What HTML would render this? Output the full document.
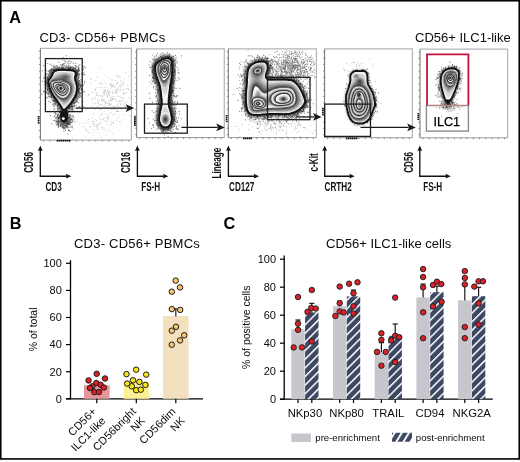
<!DOCTYPE html>
<html><head><meta charset="utf-8"><style>
*{margin:0;padding:0}
html,body{width:520px;height:462px;background:#fff;overflow:hidden}
svg{display:block;will-change:transform}
text{font-family:"Liberation Sans",sans-serif;fill:#0a0a0a}
.pl{font-weight:bold;font-size:16.3px;fill:#000}
.t13{font-size:13px}
.t11{font-size:11px}
.t10{font-size:10.5px}
.tk{font-size:11px}
.tx{font-size:11.3px}
.lg{font-size:9.6px}
.t13w{font-size:13px;letter-spacing:.22px}
.ax{font-family:"Liberation Sans",sans-serif;font-weight:bold;font-size:12px;fill:#111}
</style></head>
<body><svg width="520" height="462" viewBox="0 0 520 462">
<rect x="0.75" y="0.75" width="518.5" height="458.2" fill="none" stroke="#000" stroke-width="1.6"/><text x="9.2" y="22.8" class="pl">A</text><text x="9.8" y="228.8" class="pl">B</text><text x="223.6" y="229" class="pl">C</text><text x="39.4" y="42.3" class="t13w">CD3- CD56+ PBMCs</text><text x="415" y="42.4" class="t13">CD56+ ILC1-like</text><text x="74" y="248.1" class="t13w">CD3- CD56+ PBMCs</text><text x="326" y="248.1" class="t13">CD56+ ILC1-like cells</text><line x1="70.5" y1="260.2" x2="70.5" y2="399.40000000000003" stroke="#000" stroke-width="1.3"/><line x1="66" y1="398.8" x2="203" y2="398.8" stroke="#000" stroke-width="1.3"/><line x1="66" y1="398.8" x2="70.5" y2="398.8" stroke="#000" stroke-width="1.2"/><text x="61.8" y="402.6" class="tk" text-anchor="end">0</text><line x1="66" y1="371.7" x2="70.5" y2="371.7" stroke="#000" stroke-width="1.2"/><text x="61.8" y="375.5" class="tk" text-anchor="end">20</text><line x1="66" y1="344.6" x2="70.5" y2="344.6" stroke="#000" stroke-width="1.2"/><text x="61.8" y="348.4" class="tk" text-anchor="end">40</text><line x1="66" y1="317.5" x2="70.5" y2="317.5" stroke="#000" stroke-width="1.2"/><text x="61.8" y="321.3" class="tk" text-anchor="end">60</text><line x1="66" y1="290.4" x2="70.5" y2="290.4" stroke="#000" stroke-width="1.2"/><text x="61.8" y="294.2" class="tk" text-anchor="end">80</text><line x1="66" y1="263.3" x2="70.5" y2="263.3" stroke="#000" stroke-width="1.2"/><text x="61.8" y="267.1" class="tk" text-anchor="end">100</text><text transform="translate(36.9,329.4) rotate(-90)" class="t10" text-anchor="middle">% of total</text><rect x="84" y="385.2" width="25.6" height="13.6" fill="#e4969a"/><line x1="96.8" y1="398.8" x2="96.8" y2="403.2" stroke="#000" stroke-width="1.2"/><rect x="123.6" y="382.0" width="25.5" height="16.8" fill="#fdf195"/><line x1="136.3" y1="398.8" x2="136.3" y2="403.2" stroke="#000" stroke-width="1.2"/><rect x="163" y="316.0" width="25.6" height="82.8" fill="#f3e0bf"/><line x1="175.8" y1="398.8" x2="175.8" y2="403.2" stroke="#000" stroke-width="1.2"/><line x1="175.8" y1="316.4" x2="175.8" y2="308.8" stroke="#222" stroke-width="1.2"/><line x1="174.1" y1="308.8" x2="177.5" y2="308.8" stroke="#222" stroke-width="1.2"/><circle cx="96.7" cy="373.8" r="2.75" fill="#d9212a" stroke="#1a1a1a" stroke-width="1"/><circle cx="88.6" cy="380.4" r="2.75" fill="#d9212a" stroke="#1a1a1a" stroke-width="1"/><circle cx="105" cy="378.5" r="2.75" fill="#d9212a" stroke="#1a1a1a" stroke-width="1"/><circle cx="96.3" cy="383.1" r="2.75" fill="#d9212a" stroke="#1a1a1a" stroke-width="1"/><circle cx="92.3" cy="386.3" r="2.75" fill="#d9212a" stroke="#1a1a1a" stroke-width="1"/><circle cx="100.6" cy="384.8" r="2.75" fill="#d9212a" stroke="#1a1a1a" stroke-width="1"/><circle cx="90" cy="388" r="2.75" fill="#d9212a" stroke="#1a1a1a" stroke-width="1"/><circle cx="103.8" cy="387.5" r="2.75" fill="#d9212a" stroke="#1a1a1a" stroke-width="1"/><circle cx="94.4" cy="392.1" r="2.75" fill="#d9212a" stroke="#1a1a1a" stroke-width="1"/><circle cx="98.9" cy="392.1" r="2.75" fill="#d9212a" stroke="#1a1a1a" stroke-width="1"/><circle cx="136.2" cy="369.7" r="2.75" fill="#f9e51a" stroke="#1a1a1a" stroke-width="1"/><circle cx="126.5" cy="374.1" r="2.75" fill="#f9e51a" stroke="#1a1a1a" stroke-width="1"/><circle cx="146.2" cy="374.6" r="2.75" fill="#f9e51a" stroke="#1a1a1a" stroke-width="1"/><circle cx="133" cy="380.3" r="2.75" fill="#f9e51a" stroke="#1a1a1a" stroke-width="1"/><circle cx="139.4" cy="381.9" r="2.75" fill="#f9e51a" stroke="#1a1a1a" stroke-width="1"/><circle cx="127.2" cy="383.6" r="2.75" fill="#f9e51a" stroke="#1a1a1a" stroke-width="1"/><circle cx="131.8" cy="386.3" r="2.75" fill="#f9e51a" stroke="#1a1a1a" stroke-width="1"/><circle cx="145.4" cy="384.9" r="2.75" fill="#f9e51a" stroke="#1a1a1a" stroke-width="1"/><circle cx="136.2" cy="390.2" r="2.75" fill="#f9e51a" stroke="#1a1a1a" stroke-width="1"/><circle cx="140.8" cy="389.7" r="2.75" fill="#f9e51a" stroke="#1a1a1a" stroke-width="1"/><circle cx="175.7" cy="280.6" r="2.75" fill="#f7c56e" stroke="#1a1a1a" stroke-width="1"/><circle cx="180" cy="287.4" r="2.75" fill="#f7c56e" stroke="#1a1a1a" stroke-width="1"/><circle cx="171.8" cy="291.7" r="2.75" fill="#f7c56e" stroke="#1a1a1a" stroke-width="1"/><circle cx="171.8" cy="309.1" r="2.75" fill="#f7c56e" stroke="#1a1a1a" stroke-width="1"/><circle cx="180.2" cy="309.9" r="2.75" fill="#f7c56e" stroke="#1a1a1a" stroke-width="1"/><circle cx="176" cy="326.8" r="2.75" fill="#f7c56e" stroke="#1a1a1a" stroke-width="1"/><circle cx="171.8" cy="330.7" r="2.75" fill="#f7c56e" stroke="#1a1a1a" stroke-width="1"/><circle cx="184.2" cy="335.3" r="2.75" fill="#f7c56e" stroke="#1a1a1a" stroke-width="1"/><circle cx="180" cy="340.4" r="2.75" fill="#f7c56e" stroke="#1a1a1a" stroke-width="1"/><circle cx="171.8" cy="344.7" r="2.75" fill="#f7c56e" stroke="#1a1a1a" stroke-width="1"/><text transform="translate(97.0,412.2) rotate(-45)" class="t11" text-anchor="end">CD56+</text><text transform="translate(106.2,421.4) rotate(-45)" class="t11" text-anchor="end">ILC1-like</text><text transform="translate(136.6,412.2) rotate(-45)" class="t11" text-anchor="end">CD56bright</text><text transform="translate(145.8,421.4) rotate(-45)" class="t11" text-anchor="end">NK</text><text transform="translate(176.3,412.2) rotate(-45)" class="t11" text-anchor="end">CD56dim</text><text transform="translate(185.5,421.4) rotate(-45)" class="t11" text-anchor="end">NK</text><line x1="284.2" y1="255.6" x2="284.2" y2="399.8" stroke="#000" stroke-width="1.3"/><line x1="280" y1="399.2" x2="492.8" y2="399.2" stroke="#000" stroke-width="1.3"/><line x1="280" y1="399.2" x2="284.2" y2="399.2" stroke="#000" stroke-width="1.2"/><text x="276" y="403.0" class="tk" text-anchor="end">0</text><line x1="280" y1="371.2" x2="284.2" y2="371.2" stroke="#000" stroke-width="1.2"/><text x="276" y="375.0" class="tk" text-anchor="end">20</text><line x1="280" y1="343.2" x2="284.2" y2="343.2" stroke="#000" stroke-width="1.2"/><text x="276" y="347.0" class="tk" text-anchor="end">40</text><line x1="280" y1="315.2" x2="284.2" y2="315.2" stroke="#000" stroke-width="1.2"/><text x="276" y="319.0" class="tk" text-anchor="end">60</text><line x1="280" y1="287.2" x2="284.2" y2="287.2" stroke="#000" stroke-width="1.2"/><text x="276" y="291.0" class="tk" text-anchor="end">80</text><line x1="280" y1="259.2" x2="284.2" y2="259.2" stroke="#000" stroke-width="1.2"/><text x="276" y="263.0" class="tk" text-anchor="end">100</text><text transform="translate(249.7,327.3) rotate(-90)" class="t10" text-anchor="middle">% of positive cells</text><defs><pattern id="hatch" patternUnits="userSpaceOnUse" x="304.2" y="384.9" width="6.1" height="6.1" patternTransform="rotate(45 304.2 384.9)"><rect width="6.1" height="6.1" fill="#3d4862"/><rect x="0" y="0" width="1.5" height="6.1" fill="#fff"/></pattern></defs><rect x="291.3" y="329.2" width="13.4" height="70.0" fill="#c7c6cc"/><rect x="305.1" y="312.4" width="13.4" height="86.8" fill="url(#hatch)"/><line x1="298.0" y1="329.2" x2="298.0" y2="320.0" stroke="#1a1a1a" stroke-width="1.2"/><line x1="295.4" y1="320.0" x2="300.6" y2="320.0" stroke="#1a1a1a" stroke-width="1.2"/><line x1="298.0" y1="399.2" x2="298.0" y2="403.0" stroke="#000" stroke-width="1.2"/><line x1="311.8" y1="312.4" x2="311.8" y2="303.4" stroke="#1a1a1a" stroke-width="1.2"/><line x1="309.2" y1="303.4" x2="314.4" y2="303.4" stroke="#1a1a1a" stroke-width="1.2"/><line x1="311.8" y1="399.2" x2="311.8" y2="403.0" stroke="#000" stroke-width="1.2"/><text x="304.9" y="416.9" class="tx" text-anchor="middle">NKp30</text><rect x="333.0" y="306.2" width="13.4" height="93.0" fill="#c7c6cc"/><rect x="346.8" y="296.4" width="13.4" height="102.8" fill="url(#hatch)"/><line x1="339.7" y1="306.2" x2="339.7" y2="301.2" stroke="#1a1a1a" stroke-width="1.2"/><line x1="337.1" y1="301.2" x2="342.3" y2="301.2" stroke="#1a1a1a" stroke-width="1.2"/><line x1="339.7" y1="399.2" x2="339.7" y2="403.0" stroke="#000" stroke-width="1.2"/><line x1="353.5" y1="296.4" x2="353.5" y2="290.0" stroke="#1a1a1a" stroke-width="1.2"/><line x1="350.9" y1="290.0" x2="356.1" y2="290.0" stroke="#1a1a1a" stroke-width="1.2"/><line x1="353.5" y1="399.2" x2="353.5" y2="403.0" stroke="#000" stroke-width="1.2"/><text x="346.6" y="416.9" class="tx" text-anchor="middle">NKp80</text><rect x="374.7" y="352.2" width="13.4" height="47.0" fill="#c7c6cc"/><rect x="388.5" y="335.8" width="13.4" height="63.4" fill="url(#hatch)"/><line x1="381.4" y1="352.2" x2="381.4" y2="342.6" stroke="#1a1a1a" stroke-width="1.2"/><line x1="378.8" y1="342.6" x2="384.0" y2="342.6" stroke="#1a1a1a" stroke-width="1.2"/><line x1="381.4" y1="399.2" x2="381.4" y2="403.0" stroke="#000" stroke-width="1.2"/><line x1="395.2" y1="335.8" x2="395.2" y2="324.0" stroke="#1a1a1a" stroke-width="1.2"/><line x1="392.6" y1="324.0" x2="397.8" y2="324.0" stroke="#1a1a1a" stroke-width="1.2"/><line x1="395.2" y1="399.2" x2="395.2" y2="403.0" stroke="#000" stroke-width="1.2"/><text x="388.3" y="416.9" class="tx" text-anchor="middle">TRAIL</text><rect x="416.4" y="297.4" width="13.4" height="101.8" fill="#c7c6cc"/><rect x="430.2" y="292.2" width="13.4" height="107.0" fill="url(#hatch)"/><line x1="423.1" y1="297.4" x2="423.1" y2="284.1" stroke="#1a1a1a" stroke-width="1.2"/><line x1="420.5" y1="284.1" x2="425.7" y2="284.1" stroke="#1a1a1a" stroke-width="1.2"/><line x1="423.1" y1="399.2" x2="423.1" y2="403.0" stroke="#000" stroke-width="1.2"/><line x1="436.9" y1="292.2" x2="436.9" y2="286.2" stroke="#1a1a1a" stroke-width="1.2"/><line x1="434.3" y1="286.2" x2="439.5" y2="286.2" stroke="#1a1a1a" stroke-width="1.2"/><line x1="436.9" y1="399.2" x2="436.9" y2="403.0" stroke="#000" stroke-width="1.2"/><text x="430.0" y="416.9" class="tx" text-anchor="middle">CD94</text><rect x="458.1" y="300.4" width="13.4" height="98.8" fill="#c7c6cc"/><rect x="471.9" y="296.2" width="13.4" height="103.0" fill="url(#hatch)"/><line x1="464.8" y1="300.4" x2="464.8" y2="284.4" stroke="#1a1a1a" stroke-width="1.2"/><line x1="462.2" y1="284.4" x2="467.4" y2="284.4" stroke="#1a1a1a" stroke-width="1.2"/><line x1="464.8" y1="399.2" x2="464.8" y2="403.0" stroke="#000" stroke-width="1.2"/><line x1="478.6" y1="296.2" x2="478.6" y2="287.3" stroke="#1a1a1a" stroke-width="1.2"/><line x1="476.0" y1="287.3" x2="481.2" y2="287.3" stroke="#1a1a1a" stroke-width="1.2"/><line x1="478.6" y1="399.2" x2="478.6" y2="403.0" stroke="#000" stroke-width="1.2"/><text x="471.7" y="416.9" class="tx" text-anchor="middle">NKG2A</text><circle cx="298.0" cy="297.0" r="2.75" fill="#d9212a" stroke="#1a1a1a" stroke-width="0.9"/><circle cx="298.0" cy="323.6" r="2.75" fill="#d9212a" stroke="#1a1a1a" stroke-width="0.9"/><circle cx="298.0" cy="329.9" r="2.75" fill="#d9212a" stroke="#1a1a1a" stroke-width="0.9"/><circle cx="293.7" cy="347.4" r="2.75" fill="#d9212a" stroke="#1a1a1a" stroke-width="0.9"/><circle cx="302.0" cy="347.4" r="2.75" fill="#d9212a" stroke="#1a1a1a" stroke-width="0.9"/><circle cx="311.8" cy="290.0" r="2.75" fill="#d9212a" stroke="#1a1a1a" stroke-width="0.9"/><circle cx="307.5" cy="311.8" r="2.75" fill="#d9212a" stroke="#1a1a1a" stroke-width="0.9"/><circle cx="311.3" cy="307.9" r="2.75" fill="#d9212a" stroke="#1a1a1a" stroke-width="0.9"/><circle cx="315.8" cy="308.6" r="2.75" fill="#d9212a" stroke="#1a1a1a" stroke-width="0.9"/><circle cx="311.8" cy="341.5" r="2.75" fill="#d9212a" stroke="#1a1a1a" stroke-width="0.9"/><circle cx="339.7" cy="286.6" r="2.75" fill="#d9212a" stroke="#1a1a1a" stroke-width="0.9"/><circle cx="339.7" cy="303.2" r="2.75" fill="#d9212a" stroke="#1a1a1a" stroke-width="0.9"/><circle cx="339.7" cy="311.4" r="2.75" fill="#d9212a" stroke="#1a1a1a" stroke-width="0.9"/><circle cx="343.7" cy="312.4" r="2.75" fill="#d9212a" stroke="#1a1a1a" stroke-width="0.9"/><circle cx="335.4" cy="316.0" r="2.75" fill="#d9212a" stroke="#1a1a1a" stroke-width="0.9"/><circle cx="349.1" cy="283.7" r="2.75" fill="#d9212a" stroke="#1a1a1a" stroke-width="0.9"/><circle cx="357.5" cy="282.3" r="2.75" fill="#d9212a" stroke="#1a1a1a" stroke-width="0.9"/><circle cx="353.5" cy="293.2" r="2.75" fill="#d9212a" stroke="#1a1a1a" stroke-width="0.9"/><circle cx="353.5" cy="306.2" r="2.75" fill="#d9212a" stroke="#1a1a1a" stroke-width="0.9"/><circle cx="353.5" cy="313.5" r="2.75" fill="#d9212a" stroke="#1a1a1a" stroke-width="0.9"/><circle cx="381.4" cy="333.3" r="2.75" fill="#d9212a" stroke="#1a1a1a" stroke-width="0.9"/><circle cx="381.4" cy="339.8" r="2.75" fill="#d9212a" stroke="#1a1a1a" stroke-width="0.9"/><circle cx="377.0" cy="351.9" r="2.75" fill="#d9212a" stroke="#1a1a1a" stroke-width="0.9"/><circle cx="385.7" cy="351.9" r="2.75" fill="#d9212a" stroke="#1a1a1a" stroke-width="0.9"/><circle cx="381.4" cy="365.7" r="2.75" fill="#d9212a" stroke="#1a1a1a" stroke-width="0.9"/><circle cx="395.2" cy="297.6" r="2.75" fill="#d9212a" stroke="#1a1a1a" stroke-width="0.9"/><circle cx="395.2" cy="335.8" r="2.75" fill="#d9212a" stroke="#1a1a1a" stroke-width="0.9"/><circle cx="399.2" cy="337.2" r="2.75" fill="#d9212a" stroke="#1a1a1a" stroke-width="0.9"/><circle cx="391.2" cy="340.5" r="2.75" fill="#d9212a" stroke="#1a1a1a" stroke-width="0.9"/><circle cx="395.2" cy="362.1" r="2.75" fill="#d9212a" stroke="#1a1a1a" stroke-width="0.9"/><circle cx="423.1" cy="269.1" r="2.75" fill="#d9212a" stroke="#1a1a1a" stroke-width="0.9"/><circle cx="423.1" cy="277.0" r="2.75" fill="#d9212a" stroke="#1a1a1a" stroke-width="0.9"/><circle cx="423.1" cy="287.3" r="2.75" fill="#d9212a" stroke="#1a1a1a" stroke-width="0.9"/><circle cx="423.1" cy="312.3" r="2.75" fill="#d9212a" stroke="#1a1a1a" stroke-width="0.9"/><circle cx="423.1" cy="338.2" r="2.75" fill="#d9212a" stroke="#1a1a1a" stroke-width="0.9"/><circle cx="436.9" cy="281.7" r="2.75" fill="#d9212a" stroke="#1a1a1a" stroke-width="0.9"/><circle cx="433.0" cy="285.0" r="2.75" fill="#d9212a" stroke="#1a1a1a" stroke-width="0.9"/><circle cx="441.3" cy="284.1" r="2.75" fill="#d9212a" stroke="#1a1a1a" stroke-width="0.9"/><circle cx="441.6" cy="301.8" r="2.75" fill="#d9212a" stroke="#1a1a1a" stroke-width="0.9"/><circle cx="433.0" cy="306.4" r="2.75" fill="#d9212a" stroke="#1a1a1a" stroke-width="0.9"/><circle cx="464.8" cy="271.1" r="2.75" fill="#d9212a" stroke="#1a1a1a" stroke-width="0.9"/><circle cx="464.8" cy="278.0" r="2.75" fill="#d9212a" stroke="#1a1a1a" stroke-width="0.9"/><circle cx="464.8" cy="284.4" r="2.75" fill="#d9212a" stroke="#1a1a1a" stroke-width="0.9"/><circle cx="464.8" cy="327.0" r="2.75" fill="#d9212a" stroke="#1a1a1a" stroke-width="0.9"/><circle cx="464.8" cy="338.2" r="2.75" fill="#d9212a" stroke="#1a1a1a" stroke-width="0.9"/><circle cx="478.6" cy="281.3" r="2.75" fill="#d9212a" stroke="#1a1a1a" stroke-width="0.9"/><circle cx="483.0" cy="281.3" r="2.75" fill="#d9212a" stroke="#1a1a1a" stroke-width="0.9"/><circle cx="474.3" cy="286.6" r="2.75" fill="#d9212a" stroke="#1a1a1a" stroke-width="0.9"/><circle cx="478.6" cy="303.4" r="2.75" fill="#d9212a" stroke="#1a1a1a" stroke-width="0.9"/><circle cx="478.6" cy="324.6" r="2.75" fill="#d9212a" stroke="#1a1a1a" stroke-width="0.9"/><rect x="291.4" y="433.5" width="19.5" height="8.5" fill="#c7c6cc"/><text x="315.3" y="441.1" class="lg">pre-enrichment</text><defs><pattern id="hatch2" patternUnits="userSpaceOnUse" x="395.2" y="441.75" width="6.1" height="6" patternTransform="rotate(31.4 395.2 441.75)"><rect width="6.1" height="6" fill="#3d4862"/><rect x="0" y="0" width="1.9" height="6" fill="#fff"/></pattern></defs><rect x="392" y="432.75" width="20" height="9" fill="url(#hatch2)"/><text x="415.8" y="441.1" class="lg">post-enrichment</text><defs><radialGradient id="spot"><stop offset="0" stop-color="#000" stop-opacity="1"/><stop offset="1" stop-color="#000" stop-opacity="0"/></radialGradient></defs><defs><filter id="hb5" x="-20%" y="-20%" width="140%" height="140%"><feGaussianBlur stdDeviation="0.5"/></filter><filter id="hb8" x="-20%" y="-20%" width="140%" height="140%"><feGaussianBlur stdDeviation="0.8"/></filter><filter id="hb10" x="-20%" y="-20%" width="140%" height="140%"><feGaussianBlur stdDeviation="1.0"/></filter><filter id="hb12" x="-20%" y="-20%" width="140%" height="140%"><feGaussianBlur stdDeviation="1.2"/></filter><filter id="hb15" x="-20%" y="-20%" width="140%" height="140%"><feGaussianBlur stdDeviation="1.5"/></filter><filter id="hb20" x="-20%" y="-20%" width="140%" height="140%"><feGaussianBlur stdDeviation="2.0"/></filter></defs><path d="M54.4,71.3 55.1,70.8 56.1,70.5 57.4,70.2 59.1,70 61.1,69.9 63,69.9 65,69.9 66.9,70 68.8,70.1 70.4,70.2 71.8,70.4 72.8,70.5 73.7,70.8 74.4,71.1 74.9,71.4 75.3,71.8 75.6,72.3 75.8,72.9 75.8,73.4 75.8,74.1 75.7,74.7 75.6,75.4 75.4,75.9 75.2,76.5 75.1,77 75,77.5 74.9,78 75,78.6 75.1,79.2 75.2,79.8 75.4,80.5 75.7,81.3 76,82 76.2,82.9 76.4,83.8 76.6,84.7 76.8,85.7 76.9,86.7 77,87.8 76.9,89 76.8,90.1 76.6,91.3 76.4,92.5 76,93.7 75.6,94.9 75.1,96.2 74.3,97.7 73.4,99.3 72.4,101 71.3,102.6 70.1,104.1 68.9,105.5 67.7,106.9 66.7,108 65.8,108.9 65.1,109.5 64.5,109.9 64,110.1 63.6,110 63.1,109.8 62.7,109.3 62.3,108.7 61.7,107.7 61,106.6 60.2,105.3 59.4,103.9 58.5,102.7 57.6,101.4 56.7,100.1 55.8,98.9 55,97.8 54.2,96.8 53.5,95.9 52.9,94.9 52.3,93.8 51.7,92.7 51.2,91.5 50.8,90.4 50.3,89.2 49.9,88 49.6,86.9 49.3,85.8 49,84.9 48.8,84 48.6,83.3 48.5,82.6 48.4,81.9 48.5,81.2 48.6,80.7 48.9,80.1 49.2,79.5 49.7,78.9 50.3,78.3 50.8,77.7 51.2,77.1 51.5,76.4 51.8,75.7 52.1,75.1 52.4,74.4 52.7,73.7 53,73 53.4,72.4 53.9,71.8Z" fill="none" stroke="#222" stroke-opacity="0.55" stroke-width="6" stroke-linejoin="round" filter="url(#hb12)"/><path d="M65.9 55.8h.8M63.9 60.8h.8M65.4 61.3h.8M67.9 61.3h.8M69.4 61.3h.8M71.4 61.8h.8M58.4 62.3h.8M65.4 62.8h.8M67.4 62.8h.8M63.9 63.3h.8M69.9 63.3h.8M72.9 63.3h.8M75.4 63.3h.8M62.9 63.8h.8M68.4 63.8h.8M61.9 64.3h.8M62.4 64.8h.8M79.4 64.8h.8M53.4 65.3h.8M60.9 65.3h.8M63.9 65.3h.8M66.4 65.3h.8M68.4 65.3h.8M74.9 65.3h.8M42.9 65.8h.8M51.4 65.8h.8M62.4 65.8h.8M78.4 65.8h.8M55.4 66.3h.8M56.9 66.3h.8M70.4 66.3h.8M75.4 66.3h.8M53.4 66.8h.8M54.4 66.8h.8M65.4 66.8h.8M67.4 66.8h.8M75.9 66.8h.8M76.9 66.8h.8M83.9 66.8h.8M53.9 67.3h.8M57.4 67.3h.8M61.4 67.3h.8M62.4 67.3h.8M65.9 67.3h.8M67.9 67.3h.8M70.9 67.3h.8M72.4 67.3h.8M72.9 67.3h.8M78.4 67.3h.8M58.9 67.8h.8M61.4 67.8h.8M61.9 67.8h.8M62.9 67.8h.8M67.4 67.8h.8M69.4 67.8h.8M69.9 67.8h.8M70.4 67.8h.8M84.9 67.8h.8M52.9 68.3h.8M55.9 68.3h.8M58.4 68.3h.8M68.4 68.3h.8M68.9 68.3h.8M69.9 68.3h.8M73.4 68.3h.8M74.4 68.3h.8M74.9 68.3h.8M77.9 68.3h.8M78.4 68.3h.8M50.9 68.8h.8M55.4 68.8h.8M56.4 68.8h.8M57.9 68.8h.8M59.4 68.8h.8M60.9 68.8h.8M61.9 68.8h.8M62.9 68.8h.8M63.4 68.8h.8M63.9 68.8h.8M67.9 68.8h.8M72.4 68.8h.8M73.4 68.8h.8M74.9 68.8h.8M78.4 68.8h.8M82.9 68.8h.8M50.9 69.3h.8M52.4 69.3h.8M54.4 69.3h.8M55.4 69.3h.8M57.9 69.3h.8M58.4 69.3h.8M58.9 69.3h.8M60.9 69.3h.8M61.9 69.3h.8M62.4 69.3h.8M62.9 69.3h.8M63.9 69.3h.8M67.9 69.3h.8M68.9 69.3h.8M69.4 69.3h.8M69.9 69.3h.8M70.9 69.3h.8M71.9 69.3h.8M50.4 69.8h.8M50.9 69.8h.8M52.4 69.8h.8M53.4 69.8h.8M54.9 69.8h.8M55.9 69.8h.8M56.4 69.8h.8M65.9 69.8h.8M66.9 69.8h.8M67.4 69.8h.8M68.4 69.8h.8M69.4 69.8h.8M69.9 69.8h.8M72.9 69.8h.8M75.9 69.8h.8M77.9 69.8h.8M78.9 69.8h.8M82.9 69.8h.8M48.9 70.3h.8M49.9 70.3h.8M52.9 70.3h.8M53.4 70.3h.8M53.9 70.3h.8M54.4 70.3h.8M54.9 70.3h.8M55.9 70.3h.8M72.4 70.3h.8M73.9 70.3h.8M75.4 70.3h.8M76.9 70.3h.8M77.4 70.3h.8M77.9 70.3h.8M41.9 70.8h.8M46.4 70.8h.8M48.9 70.8h.8M50.9 70.8h.8M51.4 70.8h.8M52.9 70.8h.8M74.9 70.8h.8M76.9 70.8h.8M78.4 70.8h.8M78.9 70.8h.8M47.9 71.3h.8M49.4 71.3h.8M53.9 71.3h.8M75.4 71.3h.8M77.4 71.3h.8M77.9 71.3h.8M50.4 71.8h.8M76.4 71.8h.8M76.9 71.8h.8M51.4 72.3h.8M76.4 72.3h.8M76.9 72.3h.8M77.4 72.3h.8M49.9 72.8h.8M51.9 72.8h.8M52.9 72.8h.8M76.9 72.8h.8M83.4 72.8h.8M50.9 73.3h.8M76.9 73.3h.8M46.4 73.8h.8M48.9 73.8h.8M51.4 73.8h.8M51.9 73.8h.8M77.4 73.8h.8M78.9 73.8h.8M80.9 73.8h.8M46.4 74.3h.8M47.9 74.3h.8M49.9 74.3h.8M51.4 74.3h.8M76.9 74.3h.8M77.4 74.3h.8M77.9 74.3h.8M82.4 74.3h.8M83.4 74.3h.8M51.4 74.8h.8M51.9 74.8h.8M75.9 74.8h.8M76.4 74.8h.8M77.9 74.8h.8M78.9 74.8h.8M81.9 74.8h.8M84.4 74.8h.8M50.9 75.3h.8M75.9 75.3h.8M76.4 75.3h.8M48.4 75.8h.8M49.4 75.8h.8M50.4 75.8h.8M75.9 75.8h.8M76.4 75.8h.8M76.9 75.8h.8M77.9 75.8h.8M75.9 76.3h.8M76.4 76.3h.8M47.4 76.8h.8M48.4 76.8h.8M49.9 76.8h.8M50.4 76.8h.8M50.9 76.8h.8M75.4 76.8h.8M45.4 77.3h.8M46.4 77.3h.8M75.9 77.3h.8M77.9 77.3h.8M43.9 77.8h.8M46.9 77.8h.8M47.4 77.8h.8M48.9 77.8h.8M49.4 77.8h.8M49.9 77.8h.8M50.4 77.8h.8M78.4 77.8h.8M43.4 78.3h.8M44.9 78.3h.8M45.4 78.3h.8M49.4 78.3h.8M49.9 78.3h.8M75.9 78.3h.8M77.9 78.3h.8M47.4 78.8h.8M48.4 78.8h.8M49.4 78.8h.8M45.4 79.3h.8M47.4 79.3h.8M75.4 79.3h.8M75.9 79.3h.8M76.9 79.3h.8M45.4 79.8h.8M46.9 79.8h.8M47.9 79.8h.8M48.9 79.8h.8M76.4 79.8h.8M80.4 79.8h.8M46.4 80.3h.8M47.9 80.3h.8M48.4 80.3h.8M76.4 80.3h.8M78.4 80.3h.8M47.9 80.8h.8M48.4 80.8h.8M76.4 80.8h.8M78.9 80.8h.8M79.4 80.8h.8M41.9 81.3h.8M44.4 81.3h.8M47.4 81.3h.8M47.9 81.3h.8M75.9 81.3h.8M76.4 81.3h.8M76.9 81.3h.8M78.4 81.3h.8M81.4 81.3h.8M84.4 81.3h.8M45.9 82.3h.8M46.4 82.3h.8M76.4 82.3h.8M77.4 82.3h.8M44.9 82.8h.8M76.9 82.8h.8M77.9 82.8h.8M78.9 82.8h.8M80.4 82.8h.8M83.9 82.8h.8M46.4 83.3h.8M47.4 83.3h.8M48.4 83.3h.8M77.9 83.3h.8M78.4 83.3h.8M46.4 83.8h.8M47.4 83.8h.8M48.4 83.8h.8M78.9 83.8h.8M45.4 84.3h.8M48.4 84.3h.8M78.9 84.3h.8M44.4 84.8h.8M47.4 84.8h.8M76.9 84.8h.8M77.9 84.8h.8M78.4 84.8h.8M79.9 84.8h.8M80.4 84.8h.8M82.9 84.8h.8M46.9 85.3h.8M47.4 85.3h.8M48.4 85.3h.8M48.9 85.3h.8M76.9 85.3h.8M77.4 85.3h.8M77.9 85.3h.8M47.4 85.8h.8M47.9 85.8h.8M48.4 85.8h.8M48.9 85.8h.8M77.4 85.8h.8M78.4 85.8h.8M80.4 85.8h.8M80.9 85.8h.8M81.4 85.8h.8M82.4 85.8h.8M48.4 86.3h.8M48.9 86.3h.8M78.9 86.3h.8M79.9 86.3h.8M46.4 86.8h.8M47.9 86.8h.8M49.4 86.8h.8M77.4 86.8h.8M78.4 86.8h.8M79.9 86.8h.8M44.9 87.3h.8M46.9 87.8h.8M77.9 87.8h.8M79.9 87.8h.8M46.9 88.3h.8M47.9 88.3h.8M48.4 88.3h.8M48.9 88.3h.8M78.9 88.3h.8M45.4 88.8h.8M77.9 88.8h.8M78.4 88.8h.8M78.9 88.8h.8M79.4 88.8h.8M81.4 88.8h.8M47.4 89.3h.8M48.9 89.3h.8M77.4 89.3h.8M77.9 89.3h.8M78.4 89.3h.8M81.4 89.3h.8M46.9 89.8h.8M49.9 89.8h.8M50.4 89.8h.8M77.9 89.8h.8M80.9 89.8h.8M46.9 90.3h.8M48.4 90.3h.8M49.4 90.3h.8M77.9 90.3h.8M78.4 90.3h.8M81.4 90.3h.8M46.9 90.8h.8M76.9 90.8h.8M43.4 91.3h.8M48.9 91.3h.8M49.4 91.3h.8M49.9 91.3h.8M77.4 91.3h.8M77.9 91.3h.8M78.9 91.3h.8M83.4 91.3h.8M42.9 91.8h.8M44.4 91.8h.8M48.4 91.8h.8M49.9 91.8h.8M50.4 91.8h.8M76.9 91.8h.8M77.4 91.8h.8M78.9 91.8h.8M46.4 92.3h.8M50.4 92.3h.8M76.9 92.3h.8M84.4 92.3h.8M45.4 92.8h.8M46.4 92.8h.8M49.4 92.8h.8M49.9 92.8h.8M50.9 92.8h.8M51.4 92.8h.8M76.4 92.8h.8M77.9 92.8h.8M79.4 92.8h.8M80.9 92.8h.8M47.9 93.3h.8M50.4 93.3h.8M77.9 93.3h.8M78.4 93.3h.8M80.4 93.3h.8M46.9 93.8h.8M47.9 93.8h.8M50.9 93.8h.8M51.9 93.8h.8M76.4 93.8h.8M76.9 93.8h.8M79.4 93.8h.8M80.4 93.8h.8M41.4 94.3h.8M51.9 94.3h.8M52.4 94.3h.8M76.4 94.3h.8M47.9 94.8h.8M50.9 94.8h.8M51.4 94.8h.8M51.9 94.8h.8M52.4 94.8h.8M75.9 94.8h.8M76.4 94.8h.8M78.9 94.8h.8M88.4 94.8h.8M50.9 95.3h.8M51.9 95.3h.8M52.9 95.3h.8M76.4 95.3h.8M77.4 95.3h.8M50.9 95.8h.8M52.4 95.8h.8M53.4 95.8h.8M76.4 95.8h.8M79.4 95.8h.8M80.4 95.8h.8M52.9 96.3h.8M75.4 96.3h.8M76.4 96.3h.8M77.9 96.3h.8M48.4 96.8h.8M48.9 96.8h.8M49.9 96.8h.8M50.9 96.8h.8M51.9 96.8h.8M52.9 96.8h.8M53.9 96.8h.8M76.4 96.8h.8M77.9 96.8h.8M79.9 96.8h.8M46.9 97.3h.8M50.9 97.3h.8M53.4 97.3h.8M53.9 97.3h.8M54.4 97.3h.8M74.9 97.3h.8M75.4 97.3h.8M75.9 97.3h.8M76.4 97.3h.8M78.9 97.3h.8M45.9 97.8h.8M50.9 97.8h.8M53.4 97.8h.8M54.4 97.8h.8M74.9 97.8h.8M78.9 97.8h.8M53.4 98.3h.8M53.9 98.3h.8M54.4 98.3h.8M53.9 98.8h.8M73.9 98.8h.8M76.4 98.8h.8M77.4 98.8h.8M55.4 99.3h.8M73.9 99.3h.8M74.9 99.3h.8M76.9 99.3h.8M54.4 99.8h.8M55.4 99.8h.8M51.9 100.3h.8M52.9 100.3h.8M55.9 100.3h.8M56.4 100.3h.8M72.9 100.3h.8M73.4 100.3h.8M75.9 100.3h.8M53.4 100.8h.8M54.4 100.8h.8M55.4 100.8h.8M73.9 100.8h.8M48.4 101.3h.8M52.9 101.3h.8M54.4 101.3h.8M54.9 101.3h.8M72.9 101.3h.8M76.4 101.3h.8M54.4 101.8h.8M55.4 101.8h.8M56.9 101.8h.8M57.4 101.8h.8M75.4 101.8h.8M75.9 101.8h.8M76.9 101.8h.8M82.4 101.8h.8M50.4 102.3h.8M56.4 102.3h.8M57.9 102.3h.8M71.9 102.3h.8M72.9 102.3h.8M74.9 102.3h.8M55.9 102.8h.8M57.4 102.8h.8M57.9 102.8h.8M71.4 102.8h.8M72.9 102.8h.8M73.9 102.8h.8M78.4 102.8h.8M54.4 103.3h.8M55.4 103.3h.8M58.4 103.3h.8M71.9 103.3h.8M74.4 103.3h.8M53.4 103.8h.8M57.9 103.8h.8M58.4 103.8h.8M73.4 103.8h.8M54.9 104.3h.8M55.4 104.3h.8M58.4 104.3h.8M70.9 104.3h.8M71.4 104.3h.8M52.9 104.8h.8M57.4 104.8h.8M57.9 104.8h.8M59.4 104.8h.8M70.4 104.8h.8M69.4 105.3h.8M70.9 105.3h.8M73.9 105.3h.8M75.9 105.3h.8M54.4 105.8h.8M56.9 105.8h.8M57.4 105.8h.8M58.4 105.8h.8M58.9 105.8h.8M68.9 105.8h.8M71.4 105.8h.8M71.9 105.8h.8M74.4 105.8h.8M53.4 106.3h.8M59.9 106.3h.8M60.4 106.3h.8M69.4 106.3h.8M69.9 106.3h.8M71.4 106.3h.8M71.9 106.3h.8M82.9 106.3h.8M60.4 106.8h.8M67.9 106.8h.8M68.9 106.8h.8M70.4 106.8h.8M71.9 106.8h.8M72.4 106.8h.8M74.4 106.8h.8M78.4 106.8h.8M79.4 106.8h.8M56.9 107.3h.8M67.9 107.3h.8M68.4 107.3h.8M70.4 107.3h.8M71.9 107.3h.8M59.4 107.8h.8M61.4 107.8h.8M67.9 107.8h.8M68.4 107.8h.8M68.9 107.8h.8M71.4 107.8h.8M57.9 108.3h.8M60.4 108.3h.8M60.9 108.3h.8M66.9 108.3h.8M68.4 108.3h.8M68.9 108.3h.8M54.4 108.8h.8M57.4 108.8h.8M58.9 108.8h.8M59.4 108.8h.8M66.4 108.8h.8M67.9 108.8h.8M69.9 108.8h.8M73.4 108.8h.8M53.4 109.3h.8M61.4 109.3h.8M61.9 109.3h.8M62.4 109.3h.8M65.9 109.3h.8M70.9 109.3h.8M72.4 109.3h.8M57.4 109.8h.8M61.9 109.8h.8M65.4 109.8h.8M65.9 109.8h.8M66.4 109.8h.8M69.4 109.8h.8M70.9 109.8h.8M72.4 109.8h.8M57.9 110.3h.8M60.9 110.3h.8M62.4 110.3h.8M63.4 110.3h.8M63.9 110.3h.8M65.4 110.3h.8M66.4 110.3h.8M71.9 110.3h.8M60.9 110.8h.8M62.4 110.8h.8M63.9 110.8h.8M64.4 110.8h.8M65.9 110.8h.8M66.4 110.8h.8M59.9 111.3h.8M62.4 111.3h.8M63.4 111.3h.8M64.4 111.3h.8M65.4 111.3h.8M67.4 111.3h.8M58.9 111.8h.8M60.4 111.8h.8M60.9 111.8h.8M61.9 111.8h.8M64.9 111.8h.8M65.4 111.8h.8M70.4 111.8h.8M71.9 111.8h.8M79.4 111.8h.8M54.4 112.3h.8M59.4 112.3h.8M62.4 112.3h.8M65.9 112.3h.8M58.9 112.8h.8M54.9 113.3h.8M61.9 113.3h.8M61.9 113.8h.8M63.4 113.8h.8M65.4 113.8h.8M57.9 114.3h.8M65.9 114.3h.8M67.4 114.3h.8M54.9 114.8h.8M70.4 114.8h.8M72.4 115.3h.8M59.4 115.8h.8M53.9 116.3h.8M62.4 116.8h.8M58.4 117.3h.8M68.4 117.3h.8M60.9 117.8h.8M63.9 117.8h.8M72.9 117.8h.8M63.4 119.8h.8" stroke="#222" stroke-width=".8" fill="none"/><path d="M101.1 84h.8M107.4 97.3h.8M115.2 80.7h.8M110.2 104.8h.8M115.8 89.6h.8M101.9 96.8h.8M109.3 103.7h.8M92.8 92.2h.8M109.8 101.1h.8M118 77.2h.8M107.4 91.5h.8M106 87.8h.8M108.1 105h.8M112 99.9h.8M104.8 120.4h.8M95.3 103.3h.8M113.2 106.6h.8M105 103.4h.8M100.5 95.7h.8M122 98h.8M125.4 105.5h.8M101.9 100.2h.8M101.2 99.8h.8M122.1 84.8h.8M118.8 75.8h.8M100.8 104.6h.8M106.1 117h.8M101.3 83.2h.8M112.7 80.1h.8M103.5 91.1h.8M97.3 95.4h.8M108.4 93.8h.8M114.1 87.8h.8M108.7 77.9h.8M96.9 102.2h.8M99.9 104.5h.8M126.2 102.3h.8M106 93.1h.8M123.3 83.5h.8M100.5 113.6h.8M117.6 103.7h.8M107.2 90.9h.8M105 90.6h.8M103.7 99.8h.8M94.6 119.9h.8M95.2 90.1h.8M110.5 97.1h.8M107.8 93h.8M117 89.1h.8M115.4 92.5h.8M121.5 109.2h.8M119.8 122.3h.8M109.3 93.1h.8M110.8 83.8h.8M112.5 93.9h.8M125 72.3h.8M114.5 91.9h.8M111.8 122.9h.8M95.1 98.3h.8M99.2 100.3h.8M91.8 100h.8M116 90h.8M119.4 107.4h.8M108.1 114.8h.8M110.2 100.2h.8M113.4 96.4h.8M92.6 103.7h.8M110.8 84.8h.8M112.6 114.6h.8M115.4 100.8h.8M102.2 100.3h.8M100.5 109.1h.8M127.6 88.7h.8M112.5 91.2h.8M126.4 92.8h.8M108.1 103h.8M123 93.2h.8M109 84.3h.8M107.3 118.6h.8M120.6 83.3h.8M116.8 83.4h.8M128.9 97.9h.8M107.6 110.6h.8M106.5 95.9h.8M115.3 109.2h.8M117.4 111.5h.8M90.5 83.4h.8M96.2 92.8h.8M111.4 85.9h.8M117 76.7h.8M107.8 89.9h.8M105.1 101.8h.8M113.2 123.3h.8M116.3 91.3h.8M110.2 99.1h.8M111.2 86.2h.8M102.4 113.6h.8M97.2 87.6h.8M122.9 94.3h.8M98.3 105.2h.8M121.5 85.6h.8M101 87.7h.8M124.4 78.8h.8M97 99.6h.8M101.7 101.1h.8M114.7 85.9h.8M121.9 91.7h.8M125.4 106.7h.8M129.4 91.9h.8M122.6 98.8h.8M120.5 80.8h.8M127.8 108.3h.8M98.2 102.4h.8M120.2 86.2h.8M122.6 81.5h.8M102.6 95.6h.8M105.1 75h.8M110.8 104h.8M111.1 100.8h.8M112 93h.8M110.9 109.3h.8M123 104.2h.8M116.2 119.8h.8M104.1 92.1h.8M118 96h.8M116.6 93.5h.8M119.2 108.2h.8M117.8 91.1h.8M119.8 103.7h.8M116.1 92.7h.8M123.9 89.5h.8M117.4 105.6h.8M116 111.5h.8M122.1 100.9h.8M119 85.8h.8M109.3 105.1h.8M104.7 90.9h.8M116.1 92.5h.8M103.3 105.4h.8M109.8 85.1h.8M124.3 103h.8M104.2 102.2h.8M120.7 97.4h.8M98.7 68.7h.8M112.5 96.9h.8M111.7 99.1h.8M104.1 93.3h.8M123 83.9h.8M103.8 87.6h.8M117.9 117.4h.8M104.7 104.1h.8M99.1 83.3h.8M126.3 88.7h.8M127.3 85h.8M108.9 95.6h.8M117.4 88h.8M100.4 87.6h.8M127.9 76.9h.8M96.8 94.5h.8M98.9 95.7h.8M112.3 98.8h.8M116.1 84h.8M116.3 96.7h.8M110.9 87.9h.8M103.7 90.8h.8M129.2 106.5h.8M105.4 83.2h.8M106 101.9h.8M114.9 114.7h.8M110.7 112.8h.8M107.1 97.3h.8M122.9 89.4h.8M128.2 89.6h.8M109 91.2h.8M112.9 106.9h.8M123.5 106.4h.8M113 86.7h.8M102 127.3h.8M98 108h.8M104.2 94.7h.8M120.2 86.9h.8M103.4 92.9h.8M95.8 95.4h.8M117.7 101.5h.8M120.6 101.1h.8M106.1 95.3h.8M104.8 89.7h.8M105.9 114.4h.8M115.3 99.3h.8M91.3 98.5h.8M101.8 96.9h.8M96 125.7h.8M107.6 95h.8M96.5 77.1h.8M116.6 105.3h.8M112.9 99.2h.8M93.9 98h.8M97.7 103.6h.8M110.5 91.1h.8M115.9 75.1h.8M108.6 116.1h.8M103.4 99.3h.8M112.8 85.2h.8M117.9 111.5h.8M112 86.1h.8M102.6 101.2h.8M125.4 107.2h.8M117.2 111.1h.8M119 121.5h.8M114 106.4h.8M119.1 101.4h.8M92.5 107h.8M130.3 104.5h.8M101.9 115.2h.8M94.8 109.5h.8M93.1 113.8h.8M120.1 104.7h.8M120.4 90.2h.8M99.1 115.6h.8M106.6 105.8h.8M102.6 119.6h.8M107.8 118.8h.8M120.4 89h.8M103.3 93.2h.8M94.1 88.5h.8M104.4 106.5h.8M113.5 98.6h.8M119.5 96.6h.8M111.4 98.3h.8M96.6 107.2h.8M123 114.8h.8M106.2 121.7h.8M112.4 109.3h.8M108.8 100.5h.8M114.4 109.3h.8M107 103.4h.8M117.1 109.9h.8M117.1 82.3h.8M128 89.4h.8M118.6 89.8h.8M107.6 92.8h.8M91.5 92.2h.8M107.7 117.7h.8M108.9 92.8h.8M116.5 106.1h.8M110.4 104.7h.8M95.1 89.8h.8M95.5 80.7h.8M103.2 118.4h.8M129.3 115.7h.8M119.8 77.3h.8M124.3 93.4h.8M112.9 84.7h.8M111.4 80h.8" stroke="#aaa" stroke-width=".8" fill="none"/><path d="M72.3 127.8h.8M64.3 112.5h.8M65 117.6h.8M62.7 124.2h.8M67.8 120.6h.8M70 124.1h.8M66.5 121.6h.8M64.8 109.1h.8M57.7 122.7h.8M66.4 123.6h.8M63.7 113.4h.8M69.5 117.7h.8M64.1 116.1h.8M64.1 116.5h.8M60.3 121.5h.8M62.5 120.8h.8M64.8 119.6h.8M62.9 115.8h.8M66.2 124.8h.8M63 127.8h.8M65.2 125.9h.8M58.4 120.3h.8M62.5 111.9h.8M57.6 123.6h.8M73.4 106.5h.8M62.9 127.4h.8M66.8 117.3h.8M53.3 120.5h.8M71.1 127h.8M57.5 121.8h.8M66.2 114h.8M57.6 116.1h.8M68.3 114.5h.8M63.5 119h.8M68.2 130.5h.8M65.8 125.1h.8M75.4 108.1h.8M72 121.5h.8M71.8 126.2h.8M67.9 118.6h.8M62.7 119.7h.8M62.8 123.9h.8M66.6 126.1h.8M65.5 120h.8M69.2 123.2h.8M58 126.3h.8M63.3 115.4h.8M62.2 115.6h.8M63.7 115.3h.8M59.3 117.5h.8M68 120.3h.8M64.7 122.2h.8M65.9 118.3h.8M67.4 123.5h.8M54.5 116.9h.8M64.2 127.4h.8M66 109.3h.8M65.4 121.5h.8M64.6 120.5h.8M68.2 124.4h.8M56.9 114.4h.8M65.3 111.9h.8M72.9 116.5h.8M64.7 125.3h.8M61.2 115.3h.8M66.4 115.1h.8M67.6 122.2h.8M67.3 119.9h.8M61.4 114.9h.8M56.3 111.3h.8M62 124.1h.8M68.5 112h.8M65.3 118.2h.8M65.3 116.9h.8M63.1 127.9h.8M61.5 115.4h.8M69.5 123h.8M65.1 130.5h.8M67.6 118.2h.8M68 118.4h.8M62.5 125h.8M58.5 122.5h.8M62.3 116.8h.8M64.6 114.6h.8M67.1 115.4h.8M63.1 118.9h.8M64.5 128.8h.8M58.5 119.1h.8M67.5 134.2h.8M64.5 125.2h.8M67.1 116.2h.8M66 126h.8M66.7 119h.8M64.5 114h.8M59.2 115.6h.8M71.5 116.6h.8M69.2 116.7h.8M70.1 115.6h.8M58.3 121.5h.8M67.6 116.8h.8M63.9 116.4h.8M60 124.7h.8M70.7 122.4h.8M67.7 119.9h.8M64.1 115.8h.8M66.8 121.5h.8M68.2 122.3h.8M59.7 112.6h.8M63.3 120.5h.8M57.5 120h.8M57.5 121.1h.8M58 118.2h.8M64.7 118h.8M64.9 118.9h.8M56.9 116.1h.8M63.4 119.5h.8M58.1 124.8h.8M67.6 113.8h.8M64.9 115.7h.8M60.3 114.8h.8M71.3 119.4h.8M69 117.5h.8M60.4 122.3h.8M69.9 131.3h.8M61.9 120.6h.8M58.2 117.3h.8M69.5 123.8h.8M61.8 112.9h.8M63.5 131.2h.8M58 120.9h.8M59.2 117.2h.8M65.5 115.3h.8M63.6 118.7h.8M62.4 120.3h.8M55.7 121.4h.8M72.1 119.3h.8M57 123.3h.8M61.4 118h.8M62.9 125.9h.8M61.7 116.8h.8M66.1 116.8h.8M63.6 124h.8M64.5 122.8h.8M64.8 127.8h.8M64.8 121.3h.8M62.2 123.9h.8M55.8 113.9h.8M71 118.6h.8M66.7 127.7h.8M60.6 124.4h.8M59.3 117.8h.8M69.7 119.4h.8M59.7 117.5h.8M67.3 124.6h.8M68.7 107.8h.8M57.1 116.9h.8M68.5 114.8h.8M57.1 101.4h.8M56.4 124.9h.8M70.7 119.5h.8M63.6 118.7h.8M67.6 123.1h.8M67.3 116.1h.8M68.2 129.9h.8M67.5 124.4h.8M63.1 118.4h.8M73.7 120h.8M63.4 116.8h.8M67.6 127.6h.8M60.3 109.8h.8M61.6 121.6h.8M60.9 118.7h.8M69.2 124.9h.8M58.9 121.6h.8M63.2 121.9h.8M64.5 122.6h.8M59.7 122.1h.8M56.6 117.3h.8M59.4 117.5h.8M65.7 126h.8M61.6 126.6h.8M62.3 119.3h.8M58.3 117.9h.8M74.6 121.9h.8M67.2 123.4h.8M56.6 117h.8M65.5 113.5h.8M68.7 118.9h.8M60.4 116.6h.8M69.5 121.9h.8M69 110.9h.8M69.8 119.7h.8M66 127h.8M58.8 118.3h.8M67.5 122.7h.8M67.2 112.7h.8M65.8 120.3h.8M67.4 113.1h.8M62.5 119.7h.8M71.8 120.6h.8M57.9 114.4h.8M63.2 106.3h.8M62.7 126.2h.8M66.4 110.3h.8M61.3 125.8h.8M58.1 117.5h.8M58.8 115.4h.8M59.7 104.7h.8M68.4 121.9h.8M62.4 121.7h.8M63.1 118.4h.8M65.1 123.5h.8M66.6 119.7h.8M71.4 119.9h.8M57.9 127.3h.8M61.6 114.9h.8M64.6 120.6h.8M63.6 113.2h.8M63 122.5h.8M71.5 122.4h.8M69.6 127.4h.8M68.5 124.2h.8M68 123.1h.8M59.3 112.2h.8M60.7 122.8h.8M70 118.7h.8M62.2 127.2h.8M68.9 121.2h.8M63.5 110.6h.8M69.6 121.9h.8M63.6 120.3h.8M62.8 122.5h.8M63.9 118.9h.8M67.5 113.1h.8M64.3 117h.8M52.6 104.3h.8M69 130.7h.8M66.3 126.1h.8M69.1 120.1h.8M64.1 128.3h.8M65.7 123.6h.8M55.7 120.5h.8M69.4 116.5h.8M62 121.7h.8M66.7 114.6h.8M64.5 123.2h.8M57.9 124h.8M55.7 124.8h.8M67.1 126.7h.8M54 120.2h.8M62.6 120.6h.8M60 126.3h.8M63.3 119.5h.8M58.8 117.6h.8M55.3 118.3h.8M60.5 120.2h.8M55.8 118.6h.8M66.6 118.1h.8M63.4 115.2h.8M61.8 120.7h.8M61.7 124h.8M58.3 118h.8M66.4 125.4h.8M55.9 122h.8M61.9 119.8h.8M64.2 119.1h.8M66.1 118.8h.8M67.8 122.8h.8M55.7 122.6h.8M63.7 110.1h.8M57.2 115.3h.8M67.4 121.9h.8M63.8 112.8h.8M64.7 120.1h.8M65.5 122.9h.8M65 117.7h.8M64.1 105.7h.8M67.5 123h.8M65 115.5h.8M64.7 117.6h.8M64.2 124.9h.8M66.4 119.8h.8M64.6 120.3h.8M63.4 117.9h.8M66.6 117.5h.8M64.2 121.9h.8M63.2 120.7h.8M70.3 122.1h.8M64.6 117.6h.8M60.3 120.4h.8M64.8 126.1h.8M59.7 126h.8M63.2 120.7h.8M68.1 123.9h.8M66 116.3h.8M63.9 118.9h.8M69.1 115.7h.8M69.7 120.7h.8M61.3 120.6h.8M66 114.5h.8M69.5 119.1h.8M68.7 117.8h.8M61.4 123.6h.8M66.9 120.1h.8M57.3 125h.8M67.7 112.4h.8M57.2 118.8h.8M66.2 120.7h.8M57.7 121.3h.8M66 122.6h.8M63.2 116.5h.8M60.4 124.4h.8M65 120.4h.8M65.7 123.5h.8M65.9 124.9h.8M58 125.6h.8M67.7 117.2h.8M66.9 116.4h.8M65.6 117.8h.8M51.6 123.8h.8M58.3 124h.8M63.2 128.7h.8M50.1 115.5h.8M57.1 122.2h.8M60.4 114.3h.8M60.3 116.5h.8M66 123.2h.8M71.8 108.5h.8M54.9 112.8h.8M65 118h.8" stroke="#333" stroke-width=".8" fill="none"/><path d="M70.8 79h.8M56.7 71.8h.8M78.3 69.4h.8M52.3 69.4h.8M65.6 78.1h.8M68.6 65.8h.8M64.1 69.4h.8M63 65.1h.8M53.9 73.5h.8M62.1 60.2h.8M65.3 71h.8M62.8 80.5h.8M75.4 84h.8M72 83.1h.8M49.4 71.9h.8M61.4 75.8h.8M73.5 80h.8M68.9 78.7h.8M48 85h.8M65 75.5h.8M49.8 64.4h.8M68 81.9h.8M49.5 64.1h.8M64.4 70.9h.8M73.5 79.6h.8M62.9 57.6h.8M77.1 74.1h.8M51.8 78.5h.8M58.3 80.3h.8M78 68.1h.8M71.8 69.6h.8M65.2 79.9h.8M78.8 76.8h.8M66.2 73.8h.8M58 72h.8M46.9 63.5h.8M56.9 80.4h.8M63.2 86.1h.8M49.3 72.5h.8M60.4 84.6h.8M53.9 79.6h.8M72.6 83.9h.8M58.9 75.1h.8M71.3 74.6h.8M68.4 76.6h.8M71.7 79.2h.8M66.7 73.7h.8M67.5 75.2h.8M90.5 78.9h.8M63.7 74.1h.8M44.4 75.9h.8M66.3 79.2h.8M60.8 84.4h.8M66.4 71.7h.8M52.7 84.4h.8M58.5 72.2h.8M51.6 71.4h.8M68.4 80h.8M61.6 81.8h.8M71.6 81.9h.8M45.4 75.9h.8M58.3 88.6h.8M77.2 79h.8M54 83.5h.8M61 72.2h.8M72.9 77.8h.8M62.8 71h.8M55.6 88.8h.8M56 65.6h.8M75.2 73.4h.8M61.1 76.6h.8M82.4 67h.8M65.1 78.1h.8M65.8 78.8h.8M65.1 93.6h.8M65.6 85.3h.8M62.5 71h.8M60.1 64.5h.8M82.7 66.1h.8M75.1 72.8h.8" stroke="#555" stroke-width=".8" fill="none"/><path d="M91.9 121.3h.8M88.3 119.5h.8M94.2 126.3h.8M67.9 115h.8M97.6 132.8h.8M99.1 117.7h.8M115.7 120.3h.8M92.4 124.6h.8M85.1 136.7h.8M90.1 126.8h.8M85.9 121.2h.8M93.5 124.7h.8M99.9 119.5h.8M108.1 130.2h.8M100.5 122.5h.8M110.4 125.2h.8M103.6 128.1h.8M81.3 126.6h.8M104.5 117.6h.8M111.7 118.8h.8M73.7 129.7h.8M105.4 129.5h.8M91.7 133.2h.8M109.8 131.4h.8M99.3 123.6h.8M93.1 121.6h.8M93 135.6h.8M88.1 132.4h.8M94.5 131.9h.8M118.5 115.1h.8M87.8 123.2h.8M91.8 122.3h.8M98.4 123.4h.8M96.9 125.2h.8M99.7 110.1h.8M116.6 124.4h.8M105.8 135.4h.8M83.3 126.8h.8M97 128.2h.8M76.8 121.7h.8M113.3 121.8h.8M92.3 118h.8M96.5 127.1h.8M101.1 137.6h.8M92.9 129.9h.8M79.2 124.5h.8M89.2 126.5h.8M111 124.9h.8M102.8 129.5h.8M101.2 128.1h.8M87.4 131.2h.8M96.2 120.9h.8M72.2 138.2h.8M97.2 129.5h.8M107.2 124.5h.8M85.1 129.4h.8M99 135.8h.8M93.1 123.7h.8M78 122.3h.8M74.5 111.2h.8M94.2 125.9h.8M110.9 121.9h.8M100.8 124.6h.8M83.9 123.4h.8M94.2 123.4h.8M96.8 127.8h.8M81.4 122.9h.8M101 119.9h.8M109.3 120.2h.8M98.2 125h.8M93.4 121.4h.8M95.9 124.9h.8M103.7 111.4h.8M98.3 125.7h.8M85.6 129.1h.8M90 126.1h.8M112 133.6h.8M85.9 130.5h.8M107.2 121.5h.8" stroke="#bbb" stroke-width=".8" fill="none"/><g><path d="M64.7,108.3 64.2,108.5 63.6,108.4 62.9,107.7 59.3,102.3 56.1,98.4 53.2,94.3 52.4,92.8 50.9,89.4 50.1,87 49.2,83.8 49.1,82.8 49.1,81.5 49.3,80.8 49.6,80.1 51.9,77.3 53.9,73.6 54.6,72.5 55.6,71.7 57.2,71.3 58.9,71 63.4,70.8 71.2,71.4 72.4,71.6 73.6,72 74.4,72.8 74.6,73.5 74.6,74.5 74.1,77.3 74.1,78.5 74.3,80 75.7,84.2 76.1,87.3 75.9,90.3 75.4,92.9 73.9,96.8 70.9,101.5 68.7,104.4 66.7,106.6 65.4,107.8 64.7,108.3Z" fill="#f5f5f5" fill-rule="evenodd"/><path d="M64.7,106.8 63.9,106.8 62.9,106 56.6,98.4 53.9,94.8 52.9,93.1 51.4,89.9 50.4,87.2 49.5,84 49.3,83 49.4,81.8 49.5,81 49.9,80.3 52.3,77.5 55.1,73.4 55.9,72.8 56.9,72.4 59.1,72.1 63.1,72 68.2,72.4 70.8,72.8 71.9,73.1 72.7,73.6 73,74.3 73.1,77 73.3,78.8 73.8,80.5 74.9,83.7 75.5,86.8 75.5,89.3 74.9,92.5 73.4,96.5 70.7,100.8 67.7,104.3 65.7,106.2 64.7,106.8Z" fill="#d5d5d5" fill-rule="evenodd"/><path d="M64.7,104.1 63.9,104 63.1,103.6 60.1,101.2 57.1,98.2 54.9,95.5 53.4,93.2 51.9,90.2 50.7,87 49.9,84.3 49.7,83 49.7,82 49.9,81.3 50.4,80.4 51.1,79.6 55.9,75.4 56.8,74.8 57.6,74.5 59.4,74.3 63.6,74.4 68.2,75 69.6,75.5 70.1,76 70.4,76.5 71.5,79.3 73.4,83.2 74.1,85.3 74.5,87.8 74.3,90.3 73.8,92.5 72.7,95.6 71.2,98 68.9,100.8 66.4,103.1 65.4,103.8 64.7,104.1Z" fill="#b3b3b3" fill-rule="evenodd"/><path d="M65.2,102.1 64.4,102.3 63.6,102.1 60.9,100.6 58.1,98.4 55.6,95.7 53.9,93.3 52.4,90.6 51,87.3 50.2,84.5 50,83.3 50,82.3 50.3,81.3 50.9,80.4 52.1,79.5 55.6,77.4 58.1,76.1 59.6,76 63.6,76.2 66.8,76.8 67.9,77.2 68.7,78 71.7,82.2 72.6,84 73.1,85.5 73.5,87.8 73.4,90.3 72.9,92.3 71.9,94.9 70.6,97 68.4,99.7 66.9,101 65.2,102.1Z" fill="#929292" fill-rule="evenodd"/><path d="M64.9,100.6 63.9,100.7 62.6,100.4 61.1,99.7 59.4,98.6 57.9,97.4 56.1,95.6 55.3,94.5 53.9,92.6 52.5,90 51.4,87.5 50.4,84 50.3,82.8 50.5,81.8 51,81 51.9,80.3 55.4,78.8 58.6,77.8 60.6,77.7 63.6,78 65.7,78.5 67.2,79.3 69.7,81.7 71.1,83.5 72,85.3 72.5,87.5 72.4,90.3 71.9,92.3 70.7,95 69.2,97.2 67.2,99.3 65.9,100.2 64.9,100.6Z" fill="#737373" fill-rule="evenodd"/><path d="M64.7,99.6 63.6,99.7 62.4,99.5 60.9,98.9 59.6,98.2 58.4,97.3 56.6,95.6 55.6,94.5 54.4,92.7 53.1,90.7 52.1,88.7 51.4,86.8 50.7,84.3 50.6,83.3 50.7,82.3 51.1,81.5 51.9,80.8 53.6,80.1 57.6,79.2 60.6,79.1 62.9,79.3 64.9,79.9 66.9,80.9 69.2,82.6 70.6,84.3 71.4,86 71.8,88 71.7,90.3 71.2,92.3 70,94.8 68.7,96.6 66.7,98.5 65.7,99.2 64.7,99.6Z" fill="#585858" fill-rule="evenodd"/><path d="M64.7,98.8 63.6,99 62.6,99 61.4,98.6 60.1,98 57.9,96.4 56.4,94.9 55.5,93.8 54.1,91.8 53.1,90 51.9,87.5 51.3,86 50.9,84.3 50.8,83 51.1,82 51.9,81.2 53.4,80.5 56.6,79.9 58.9,79.9 62.1,80.2 63.9,80.6 66.4,81.7 68.7,83.1 70,84.5 70.8,86 71.3,88 71.2,90 70.7,92 69.8,94 68.6,95.8 66.7,97.8 65.7,98.4 64.7,98.8Z" fill="#414141" fill-rule="evenodd"/><path d="M64.4,98.3 63.4,98.5 62.4,98.4 61.4,98.2 60.1,97.6 57.9,96 55.6,93.6 53.3,90 51.6,86.3 51.1,84.3 51,83.3 51.3,82.3 51.9,81.5 53.4,80.9 56.4,80.4 58.4,80.3 61.6,80.6 63.4,81.1 66.2,82.2 68.4,83.6 69.6,84.8 70.4,86.3 70.8,88 70.8,90 70.3,92 69.3,94 68,95.8 66.2,97.5 64.4,98.3Z" fill="#fefefe" fill-rule="evenodd"/><path d="M64.2,97.6 63.1,97.8 62.1,97.7 60.1,97 58.9,96.2 57.6,95.1 55.6,92.9 53.5,89.5 51.9,86 51.5,84.3 51.5,83.3 51.8,82.5 52.4,81.9 53.6,81.3 56.6,80.9 58.4,80.9 61.4,81.2 63.1,81.7 66.2,82.9 67.9,84 69.1,85.3 69.9,86.8 70.2,88.5 70,90.5 69.5,92.3 68.6,94 66.9,95.9 65.7,97 64.2,97.6Z" fill="#f5f5f5" fill-rule="evenodd"/><path d="M64.2,96.9 63.1,97 62.1,97 61.1,96.7 60.1,96.3 57.9,94.7 56.1,92.8 54,89.8 52.4,86.3 52.1,84.8 52,83.8 52.2,83 52.8,82.3 54,81.8 56.9,81.3 58.6,81.4 61.1,81.7 63.1,82.2 65.4,83.1 67.3,84.3 68.4,85.4 69.2,86.8 69.5,88.3 69.5,90 69,91.8 68.2,93.5 66.9,95 65.7,96.1 64.2,96.9Z" fill="#dfdfdf" fill-rule="evenodd"/><path d="M64.2,96.3 63.1,96.5 62.1,96.5 61.1,96.2 60.1,95.8 58,94.3 56.1,92.4 54.2,89.5 53.3,87.8 52.7,86 52.4,84.8 52.4,83.8 52.7,83 53.1,82.6 54.1,82.1 56.9,81.7 58.6,81.7 60.9,82 62.9,82.5 65.2,83.4 66.9,84.5 68,85.5 68.7,86.8 69.1,88.3 69,89.8 68.6,91.5 68,93 66.9,94.4 65.4,95.7 64.2,96.3Z" fill="#bebebe" fill-rule="evenodd"/><path d="M64.2,95.8 62.4,96 61.4,95.8 60.4,95.5 58.4,94.2 56.6,92.5 54.7,89.8 53.8,88 53.1,86.3 52.8,85.3 52.8,84.3 52.9,83.5 53.4,82.9 54.4,82.4 56.9,82 58.4,81.9 60.6,82.2 62.6,82.7 64.4,83.4 66.2,84.4 67.5,85.5 68.3,86.8 68.6,88 68.6,89.5 68.3,91.3 67.8,92.5 66.9,93.8 65.4,95.2 64.2,95.8Z" fill="#939393" fill-rule="evenodd"/><path d="M63.6,95.6 62.6,95.6 61.6,95.6 59.9,94.9 58.1,93.7 56.4,91.8 54.8,89.5 53.9,87.8 53.3,86.3 53.1,85.3 53.1,84.3 53.3,83.5 53.6,83.1 54.6,82.7 57.1,82.2 58.9,82.2 60.9,82.5 62.9,83 64.4,83.6 66.2,84.7 67.3,85.8 68,87 68.3,88.3 68.3,90 67.9,91.5 67.2,93 65.9,94.4 64.9,95.1 63.6,95.6Z" fill="#666666" fill-rule="evenodd"/><path d="M63.4,95.3 61.6,95.3 59.9,94.7 58.1,93.4 56.4,91.5 54.9,89.3 54.1,87.8 53.6,86.3 53.3,84.5 53.5,83.8 53.9,83.3 55,82.8 57.1,82.4 58.6,82.4 60.6,82.6 62.9,83.2 64.2,83.7 65.9,84.8 67,85.8 67.7,87 68.1,88.3 68,90 67.6,91.5 67,92.8 65.7,94.2 64.7,94.9 63.4,95.3Z" fill="#393939" fill-rule="evenodd"/><path d="M63.1,95.1 61.4,95 59.9,94.4 58.1,93.2 56.4,91.3 55,89 53.8,86.3 53.6,85.3 53.6,84.5 53.7,84 54.1,83.5 55.1,83 57.3,82.5 58.9,82.6 60.9,82.8 62.9,83.3 64.2,83.9 65.9,85 66.9,86 67.6,87.3 67.9,88.5 67.8,90 67.4,91.5 66.7,92.8 65.4,94.1 64.4,94.8 63.1,95.1Z" fill="#fefefe" fill-rule="evenodd"/><path d="M63.4,94.6 61.6,94.6 60.1,94.1 58.4,92.9 56.8,91.3 55.5,89.3 54.3,86.8 54,85.5 54,84.8 54.2,84.3 54.6,83.8 55.6,83.3 57.4,82.9 58.9,82.9 60.6,83.1 62.6,83.6 63.8,84 65.4,85 66.4,86 67,87 67.4,88.3 67.5,89.5 67.2,91 66.6,92.3 65.4,93.6 64.4,94.3 63.4,94.6Z" fill="#f5f5f5" fill-rule="evenodd"/><path d="M63.4,94.1 61.6,94.1 60.1,93.6 58.6,92.6 57.1,91 55.9,89.3 54.8,86.8 54.6,85.8 54.6,85 54.8,84.5 55.1,84.1 56.3,83.5 57.6,83.2 59.1,83.2 60.6,83.4 63.4,84.2 64.8,85 65.9,86 66.6,87 67,88.3 67.1,89.5 66.8,90.8 66.2,92 65.4,93 64.4,93.8 63.4,94.1Z" fill="#dfdfdf" fill-rule="evenodd"/><path d="M62.6,93.8 61.1,93.7 59.6,93 58.1,91.9 56.8,90.3 55.8,88.5 55.1,86.5 55,85.3 55.2,84.8 55.6,84.3 56.6,83.8 57.9,83.5 59.4,83.5 61.1,83.7 62.6,84.1 63.6,84.6 65,85.5 65.9,86.5 66.5,87.5 66.8,88.8 66.7,90 66.3,91.3 65.7,92.3 64.7,93.2 63.6,93.7 62.6,93.8Z" fill="#bebebe" fill-rule="evenodd"/><path d="M63.6,93.4 62.1,93.5 60.6,93.2 59.1,92.4 57.6,91 56.4,89.3 55.5,87 55.4,85.5 55.6,85 56,84.5 56.9,84 58.1,83.8 59.4,83.7 60.9,83.9 62.4,84.3 63.4,84.7 64.7,85.5 65.4,86.3 65.9,87 66.3,88 66.5,89 66.4,90.3 66,91.3 65.4,92.2 64.4,93 63.6,93.4Z" fill="#939393" fill-rule="evenodd"/><path d="M63.6,93.1 62.1,93.2 60.6,93 59.1,92.1 57.9,91 56.6,89.3 55.8,87.3 55.7,85.8 55.8,85.3 56.1,84.8 56.9,84.3 58.1,84 59.4,83.9 60.6,84 62.1,84.4 63.1,84.8 64.4,85.5 65.2,86.3 65.7,87 66.1,88 66.3,89 66.2,90 65.9,91 65.4,91.8 64.7,92.6 63.6,93.1Z" fill="#666666" fill-rule="evenodd"/><path d="M63.6,92.9 62.1,93 60.6,92.8 59.1,91.9 57.9,90.8 56.8,89.3 56,87.3 55.9,85.8 56.4,84.9 57.1,84.4 58.1,84.1 59.4,84 60.6,84.2 62.9,84.8 64.1,85.5 64.9,86.3 65.5,87 65.9,88 66.1,89 66,90 65.7,91 65.2,91.8 64.4,92.5 63.6,92.9Z" fill="#393939" fill-rule="evenodd"/><path d="M62.9,92.8 61.4,92.8 60.1,92.4 58.9,91.6 57.6,90.3 56.7,88.8 56.1,87 56.1,85.8 56.6,85 57.4,84.6 58.4,84.3 59.6,84.2 60.9,84.3 62.1,84.6 63.1,85.1 64.2,85.8 64.9,86.5 65.4,87.3 65.8,88.3 65.9,89.3 65.8,90.3 65.3,91.3 64.7,92 63.9,92.5 62.9,92.8Z" fill="#fefefe" fill-rule="evenodd"/><path d="M63.4,92.3 61.9,92.5 60.6,92.3 59.4,91.6 58.1,90.5 57.1,89 56.5,87.5 56.4,86.3 56.6,85.8 56.9,85.3 57.6,84.8 58.6,84.5 60.6,84.5 62.6,85.1 63.6,85.7 64.4,86.4 64.9,87 65.4,88 65.6,89 65.5,89.8 65.3,90.5 64.9,91.3 64.2,92 63.4,92.3Z" fill="#f5f5f5" fill-rule="evenodd"/><path d="M62.6,92.1 61.4,92.1 60.1,91.7 58.9,90.9 57.9,89.8 57.2,88.5 56.8,87.3 56.8,86.3 57,85.8 57.4,85.4 58.1,85 59.1,84.8 61.1,84.9 62.9,85.6 64.4,86.8 64.9,87.5 65.1,88.3 65.2,89.3 65.1,90 64.8,90.8 64.2,91.5 63.4,91.9 62.6,92.1Z" fill="#dfdfdf" fill-rule="evenodd"/><path d="M62.4,91.8 61.1,91.8 60.1,91.5 58.9,90.6 57.9,89.5 57.3,88.3 57.1,87 57.2,86.3 57.8,85.5 59.1,85 61.1,85.1 62.9,85.8 63.6,86.4 64.3,87 64.7,87.8 64.9,88.5 64.9,89.3 64.8,90 64.4,90.8 63.9,91.3 63.1,91.7 62.4,91.8Z" fill="#bebebe" fill-rule="evenodd"/><path d="M62.1,91.6 60.9,91.5 59.9,91.1 58.9,90.3 58.1,89.5 57.6,88.5 57.3,87.3 57.4,86.5 57.9,85.8 58.6,85.4 59.4,85.2 61.1,85.3 62.6,85.9 63.9,87 64.4,87.8 64.6,88.5 64.6,89.3 64.5,90 64.2,90.6 63.6,91.1 62.9,91.4 62.1,91.6Z" fill="#939393" fill-rule="evenodd"/><path d="M62.1,91.3 61.1,91.3 60.1,91 59.1,90.3 58.4,89.5 57.8,88.5 57.6,87.5 57.7,86.5 58.1,86 59.4,85.5 61.1,85.5 62.6,86.2 63.9,87.3 64.2,88 64.4,88.7 64.2,90 63.4,90.9 62.1,91.3Z" fill="#666666" fill-rule="evenodd"/><path d="M62.4,91.1 61.4,91.1 60.4,90.9 59.4,90.3 58.6,89.5 58,88.5 57.8,87.5 57.9,86.6 58.4,86 59.6,85.6 61.1,85.7 62.6,86.3 63.6,87.3 64.1,88.3 64.1,89.5 63.5,90.5 62.4,91.1Z" fill="#393939" fill-rule="evenodd"/><path d="M62.4,90.8 61.4,90.9 60.4,90.7 59.6,90.3 58.8,89.5 58.3,88.8 58,87.8 58,87 58.5,86.3 59.6,85.8 60.9,85.8 62.1,86.3 63.2,87 63.8,88 63.9,89.3 63.4,90.3 62.4,90.8Z" fill="#e8e8e8" fill-rule="evenodd"/><path d="M62.4,90.3 61.6,90.5 60.6,90.4 59.9,90 59.1,89.4 58.6,88.5 58.4,87.8 58.5,87 58.9,86.5 59.9,86.1 60.9,86.2 62,86.5 62.9,87.3 63.3,88 63.5,89 63.1,89.8 62.4,90.3Z" fill="#b8b8b8" fill-rule="evenodd"/><path d="M61.9,89.8 60.6,89.8 60,89.5 59.4,89 58.9,88 59,87.5 59.2,87 59.9,86.6 60.6,86.6 61.5,86.8 62.2,87.3 62.7,88 62.8,88.8 62.4,89.5 61.9,89.8Z" fill="#8f8f8f" fill-rule="evenodd"/><path d="M61.6,89.3 60.6,89.3 59.9,88.9 59.5,88 59.6,87.5 59.7,87.3 60.2,87 60.9,87 61.8,87.5 62.2,88 62.2,88.5 62,89 61.6,89.3Z" fill="#6c6c6c" fill-rule="evenodd"/><path d="M61.1,88.7 60.6,88.6 60.4,88.5 60.2,88 60.3,87.8 60.6,87.6 61.2,87.8 61.4,88.3 61.1,88.7Z" fill="#4c4c4c" fill-rule="evenodd"/></g><ellipse cx="65.4" cy="76.5" rx="7" ry="4.5" fill="url(#spot)" opacity="0.45"/><path d="M54.4,71.3 55.1,70.8 56.1,70.5 57.4,70.2 59.1,70 61.1,69.9 63,69.9 65,69.9 66.9,70 68.8,70.1 70.4,70.2 71.8,70.4 72.8,70.5 73.7,70.8 74.4,71.1 74.9,71.4 75.3,71.8 75.6,72.3 75.8,72.9 75.8,73.4 75.8,74.1 75.7,74.7 75.6,75.4 75.4,75.9 75.2,76.5 75.1,77 75,77.5 74.9,78 75,78.6 75.1,79.2 75.2,79.8 75.4,80.5 75.7,81.3 76,82 76.2,82.9 76.4,83.8 76.6,84.7 76.8,85.7 76.9,86.7 77,87.8 76.9,89 76.8,90.1 76.6,91.3 76.4,92.5 76,93.7 75.6,94.9 75.1,96.2 74.3,97.7 73.4,99.3 72.4,101 71.3,102.6 70.1,104.1 68.9,105.5 67.7,106.9 66.7,108 65.8,108.9 65.1,109.5 64.5,109.9 64,110.1 63.6,110 63.1,109.8 62.7,109.3 62.3,108.7 61.7,107.7 61,106.6 60.2,105.3 59.4,103.9 58.5,102.7 57.6,101.4 56.7,100.1 55.8,98.9 55,97.8 54.2,96.8 53.5,95.9 52.9,94.9 52.3,93.8 51.7,92.7 51.2,91.5 50.8,90.4 50.3,89.2 49.9,88 49.6,86.9 49.3,85.8 49,84.9 48.8,84 48.6,83.3 48.5,82.6 48.4,81.9 48.5,81.2 48.6,80.7 48.9,80.1 49.2,79.5 49.7,78.9 50.3,78.3 50.8,77.7 51.2,77.1 51.5,76.4 51.8,75.7 52.1,75.1 52.4,74.4 52.7,73.7 53,73 53.4,72.4 53.9,71.8Z" fill="none" stroke="#111" stroke-width="1.8"/><path d="M52.7,81.2 54.1,81 55.5,80.9 56.9,80.8 58.4,80.9 60,81 61.4,81.2 62.9,81.5 64.3,81.9 65.6,82.4 66.8,82.9 67.8,83.5 68.6,84.1 69.2,84.7 69.8,85.4 70.2,86.2 70.5,87.1 70.6,88.1 70.7,89.1 70.6,90 70.4,91 70.1,92 69.7,92.9 69.2,93.7 68.7,94.6 68.1,95.3 67.5,96 66.8,96.7 66,97.3 65.3,97.8 64.5,98.2 63.7,98.4 62.9,98.4 62,98.3 61.2,98 60.3,97.7 59.5,97.1 58.6,96.5 57.7,95.8 56.9,94.9 56.1,93.9 55.2,92.8 54.5,91.7 53.7,90.5 53.1,89.3 52.4,88.1 51.9,86.8 51.4,85.6 51.1,84.4 50.9,83.2 51.1,82.3 51.7,81.6Z" fill="none" stroke="#1a1a1a" stroke-width="0.75"/><path d="M56.1,82.7 57.6,82.6 59.1,82.7 60.6,82.9 62,83.2 63.3,83.7 64.4,84.2 65.4,84.7 66.2,85.4 66.9,86.1 67.4,86.8 67.7,87.7 67.8,88.6 67.8,89.6 67.6,90.5 67.3,91.4 66.9,92.2 66.4,93 65.8,93.6 65.2,94.2 64.4,94.7 63.7,95 62.8,95.1 61.9,95.1 61,94.8 60,94.4 59,93.8 58.1,93 57.1,91.9 56.2,90.8 55.3,89.7 54.7,88.6 54.2,87.6 53.8,86.6 53.5,85.8 53.3,85 53.3,84.3 53.4,83.8 53.9,83.3 54.8,83Z" fill="none" stroke="#1a1a1a" stroke-width="0.75"/><path d="M57.9,84.4 59.2,84.4 60.4,84.4 61.5,84.6 62.5,84.9 63.4,85.3 64.2,85.8 64.9,86.5 65.4,87.2 65.7,87.9 65.9,88.7 65.9,89.5 65.9,90.3 65.6,91 65.3,91.6 64.8,92.1 64.2,92.5 63.5,92.8 62.8,92.9 62,92.9 61.2,92.7 60.3,92.3 59.5,91.9 58.7,91.2 58,90.5 57.4,89.6 56.8,88.7 56.4,87.8 56.1,86.8 56,85.9 56.3,85.2 56.9,84.7Z" fill="none" stroke="#1a1a1a" stroke-width="0.75"/><path d="M59.3,85.6 60.3,85.6 61.2,85.6 62,85.9 62.7,86.2 63.4,86.7 63.9,87.3 64.2,87.9 64.3,88.5 64.3,89.2 64.2,89.8 63.9,90.3 63.5,90.8 62.9,91.1 62.3,91.3 61.7,91.3 60.9,91.2 60.2,91 59.5,90.7 58.9,90.3 58.4,89.8 58,89.2 57.7,88.6 57.5,88 57.5,87.3 57.6,86.7 57.9,86.2 58.5,85.8Z" fill="none" stroke="#1a1a1a" stroke-width="0.75"/><path d="M166.7,58.3 167.4,58.3 168,58.3 168.7,58.5 169.4,58.8 170,59.1 170.6,59.6 171,60.1 171.3,60.7 171.5,61.5 171.7,62.5 171.9,63.6 172,65.1 172.1,66.6 172.2,68.3 172.2,70 172.1,71.8 172,73.6 171.8,75.3 171.6,76.8 171.4,78.3 171.2,79.7 171,81 170.7,82.4 170.5,83.8 170.3,85.1 170.1,86.6 169.9,88 169.8,89.6 169.7,91.2 169.5,92.7 169.4,94 169.3,95.3 169.2,96.5 169,97.9 168.9,99.4 168.8,101.1 168.8,102.8 168.8,104.4 169.1,106 169.4,107.4 169.9,108.8 170.3,110.2 170.7,111.7 171.1,113.3 171.4,114.8 171.6,116.3 171.6,117.8 171.6,119.2 171.5,120.6 171.2,121.8 170.9,123 170.4,124.1 169.8,125.1 169.1,125.9 168.4,126.5 167.5,126.9 166.6,127.1 165.8,127.3 165,127.3 164.3,127.2 163.6,127 162.9,126.7 162.2,126.2 161.5,125.6 160.9,124.9 160.3,124 159.9,122.9 159.6,121.7 159.4,120.3 159.3,118.8 159.4,117.2 159.5,115.5 159.7,113.6 160,111.8 160.4,110 160.8,108.2 161.2,106.4 161.5,104.6 161.6,102.8 161.5,101 161.4,99.2 161.2,97.4 161.1,95.6 160.9,93.7 160.7,91.9 160.5,90.2 160.3,88.6 160.1,87.1 159.8,85.8 159.4,84.4 159,83.1 158.5,81.7 158,80.3 157.5,79 157,77.6 156.5,76.2 156.1,74.9 155.7,73.4 155.5,72 155.3,70.4 155.2,68.9 155.2,67.5 155.4,66.3 155.6,65.4 156,64.6 156.6,63.8 157.4,62.9 158.4,62 159.5,61.2 160.6,60.4 161.8,59.8 162.9,59.3 164,58.9 165,58.6 165.9,58.4Z" fill="none" stroke="#222" stroke-opacity="0.7" stroke-width="7" stroke-linejoin="round" filter="url(#hb12)"/><path d="M162.2 52.9h.8M167.2 52.9h.8M157.2 53.4h.8M160.7 53.9h.8M169.2 53.9h.8M163.7 54.4h.8M169.2 54.9h.8M162.7 55.4h.8M167.7 55.4h.8M175.2 55.4h.8M181.2 55.9h.8M160.2 56.4h.8M161.7 56.4h.8M165.2 56.4h.8M167.2 56.4h.8M169.2 56.4h.8M172.7 56.4h.8M173.2 56.4h.8M164.7 56.9h.8M167.2 56.9h.8M168.2 56.9h.8M169.2 56.9h.8M161.2 57.4h.8M162.7 57.4h.8M166.7 57.4h.8M167.7 57.4h.8M168.2 57.4h.8M168.7 57.4h.8M171.2 57.4h.8M175.7 57.4h.8M153.7 57.9h.8M158.7 57.9h.8M161.2 57.9h.8M165.2 57.9h.8M166.2 57.9h.8M166.7 57.9h.8M169.2 57.9h.8M169.7 57.9h.8M171.2 57.9h.8M158.2 58.4h.8M161.7 58.4h.8M162.7 58.4h.8M163.7 58.4h.8M164.2 58.4h.8M164.7 58.4h.8M165.2 58.4h.8M170.2 58.4h.8M171.7 58.4h.8M156.2 58.9h.8M161.7 58.9h.8M163.7 58.9h.8M171.7 58.9h.8M173.2 58.9h.8M153.7 59.4h.8M171.2 59.4h.8M157.2 59.9h.8M175.2 59.9h.8M175.7 59.9h.8M158.7 60.4h.8M160.2 60.4h.8M172.2 60.4h.8M172.7 60.4h.8M173.2 60.4h.8M159.2 60.9h.8M172.2 60.9h.8M172.7 60.9h.8M173.2 60.9h.8M174.2 60.9h.8M149.7 61.4h.8M155.7 61.4h.8M171.7 61.4h.8M154.7 61.9h.8M158.2 61.9h.8M172.7 61.9h.8M176.7 61.9h.8M157.2 62.4h.8M172.7 62.4h.8M157.2 62.9h.8M172.2 62.9h.8M176.7 62.9h.8M154.7 63.4h.8M156.2 63.4h.8M154.2 63.9h.8M154.7 63.9h.8M156.2 63.9h.8M174.7 63.9h.8M148.7 64.9h.8M154.2 64.9h.8M155.2 64.9h.8M173.2 64.9h.8M153.2 65.4h.8M153.7 65.4h.8M154.7 65.4h.8M155.2 65.4h.8M172.2 65.4h.8M173.2 65.4h.8M175.2 65.4h.8M152.2 65.9h.8M153.7 65.9h.8M155.2 65.9h.8M172.7 65.9h.8M153.7 66.4h.8M154.2 66.4h.8M172.7 66.4h.8M154.2 66.9h.8M149.7 67.4h.8M150.2 67.4h.8M153.7 67.4h.8M176.7 67.4h.8M152.2 67.9h.8M153.7 67.9h.8M154.2 67.9h.8M154.7 67.9h.8M173.2 67.9h.8M153.7 68.4h.8M153.7 68.9h.8M154.2 68.9h.8M154.7 68.9h.8M173.7 68.9h.8M151.7 69.4h.8M154.2 69.4h.8M172.7 69.4h.8M153.7 69.9h.8M174.2 69.9h.8M177.7 69.9h.8M152.2 70.4h.8M153.2 70.4h.8M154.7 70.4h.8M174.2 70.4h.8M155.2 70.9h.8M174.7 70.9h.8M154.2 71.4h.8M155.2 71.4h.8M173.7 71.4h.8M151.7 71.9h.8M152.2 71.9h.8M154.7 71.9h.8M155.2 71.9h.8M172.7 71.9h.8M173.2 71.9h.8M174.7 71.9h.8M153.2 72.4h.8M172.7 72.4h.8M173.2 72.4h.8M174.2 72.4h.8M152.2 72.9h.8M177.7 72.9h.8M178.7 72.9h.8M153.2 73.4h.8M155.2 73.4h.8M172.2 73.4h.8M172.7 73.4h.8M155.2 73.9h.8M175.2 73.9h.8M153.7 74.4h.8M154.2 74.4h.8M155.2 74.4h.8M155.7 74.4h.8M153.2 74.9h.8M154.2 74.9h.8M155.2 74.9h.8M155.7 74.9h.8M172.2 74.9h.8M149.2 75.4h.8M155.2 75.4h.8M172.2 75.4h.8M173.2 75.4h.8M174.2 75.4h.8M155.2 75.9h.8M173.7 75.9h.8M156.2 76.4h.8M172.2 76.4h.8M172.7 76.4h.8M152.7 76.9h.8M154.7 76.9h.8M155.2 76.9h.8M172.2 76.9h.8M152.2 77.4h.8M153.2 77.4h.8M156.7 77.4h.8M171.7 77.4h.8M172.2 77.4h.8M155.7 77.9h.8M156.2 77.9h.8M156.7 77.9h.8M174.7 77.9h.8M177.7 77.9h.8M154.7 78.4h.8M155.2 78.4h.8M155.7 78.4h.8M156.2 78.4h.8M171.7 78.4h.8M172.2 78.4h.8M172.7 78.4h.8M173.7 78.4h.8M153.2 78.9h.8M154.7 78.9h.8M156.7 78.9h.8M157.2 78.9h.8M172.2 78.9h.8M179.2 78.9h.8M155.7 79.4h.8M157.2 79.4h.8M172.2 79.4h.8M172.7 79.4h.8M156.2 79.9h.8M156.7 79.9h.8M157.2 79.9h.8M154.7 80.4h.8M157.7 80.4h.8M171.7 80.4h.8M176.7 80.4h.8M157.2 80.9h.8M157.7 80.9h.8M171.7 80.9h.8M172.7 80.9h.8M173.7 80.9h.8M174.2 80.9h.8M152.2 81.4h.8M157.7 81.4h.8M171.2 81.4h.8M171.7 81.4h.8M149.7 81.9h.8M154.7 81.9h.8M157.7 81.9h.8M171.7 81.9h.8M173.2 81.9h.8M155.7 82.4h.8M156.7 82.4h.8M172.2 82.4h.8M154.7 82.9h.8M158.7 82.9h.8M171.2 82.9h.8M171.7 82.9h.8M173.2 82.9h.8M157.7 83.4h.8M170.7 83.4h.8M171.2 83.4h.8M172.7 83.4h.8M173.2 83.4h.8M157.2 83.9h.8M171.2 83.9h.8M172.7 83.9h.8M173.7 83.9h.8M170.7 84.4h.8M171.2 84.4h.8M171.7 84.4h.8M157.7 84.9h.8M171.2 84.9h.8M158.7 85.4h.8M159.2 85.4h.8M170.7 85.4h.8M157.2 85.9h.8M157.7 85.9h.8M171.2 85.9h.8M171.7 85.9h.8M172.7 85.9h.8M153.2 86.4h.8M171.7 86.4h.8M159.2 86.9h.8M159.7 86.9h.8M170.7 86.9h.8M158.7 87.4h.8M159.2 87.4h.8M170.7 87.4h.8M171.7 87.4h.8M153.2 87.9h.8M158.7 87.9h.8M159.7 87.9h.8M170.2 87.9h.8M170.7 87.9h.8M171.2 87.9h.8M173.2 87.9h.8M174.2 87.9h.8M172.2 88.4h.8M175.7 88.4h.8M179.7 88.4h.8M158.7 88.9h.8M159.2 88.9h.8M170.2 88.9h.8M170.7 88.9h.8M155.2 89.4h.8M157.2 89.4h.8M160.2 89.4h.8M171.2 89.4h.8M157.7 89.9h.8M159.2 89.9h.8M160.2 89.9h.8M170.7 89.9h.8M171.2 89.9h.8M172.2 89.9h.8M157.7 90.4h.8M159.7 90.4h.8M170.2 90.4h.8M170.7 90.4h.8M171.7 90.4h.8M172.2 90.4h.8M172.7 90.4h.8M173.2 90.4h.8M157.7 90.9h.8M158.7 90.9h.8M159.2 90.9h.8M170.2 90.9h.8M171.2 90.9h.8M172.2 90.9h.8M170.7 91.4h.8M171.7 91.4h.8M157.2 91.9h.8M170.7 91.9h.8M171.2 91.9h.8M173.2 91.9h.8M158.7 92.4h.8M169.7 92.4h.8M170.2 92.4h.8M171.2 92.4h.8M172.2 92.4h.8M160.2 92.9h.8M169.7 92.9h.8M170.7 92.9h.8M171.2 92.9h.8M149.2 93.4h.8M157.7 93.4h.8M160.7 93.4h.8M169.7 93.4h.8M171.2 93.4h.8M172.7 93.4h.8M158.7 93.9h.8M159.7 93.9h.8M170.2 93.9h.8M159.7 94.4h.8M160.7 94.4h.8M170.7 94.4h.8M160.7 94.9h.8M170.7 94.9h.8M156.2 95.4h.8M159.7 95.4h.8M169.7 95.4h.8M170.2 95.4h.8M171.2 95.4h.8M173.2 95.4h.8M159.2 95.9h.8M159.7 95.9h.8M160.7 95.9h.8M170.2 95.9h.8M174.2 95.9h.8M176.2 95.9h.8M177.2 95.9h.8M156.2 96.4h.8M169.7 96.4h.8M170.2 96.4h.8M159.7 96.9h.8M160.2 96.9h.8M174.7 96.9h.8M175.7 96.9h.8M160.7 97.4h.8M169.7 97.4h.8M170.7 97.4h.8M171.2 97.4h.8M169.7 97.9h.8M149.7 98.4h.8M157.2 98.4h.8M159.7 98.4h.8M169.2 98.4h.8M159.2 98.9h.8M170.7 98.9h.8M160.7 99.4h.8M161.2 99.4h.8M169.2 99.4h.8M169.7 99.4h.8M170.2 99.4h.8M171.2 99.4h.8M169.2 99.9h.8M169.7 99.9h.8M170.2 99.9h.8M158.7 100.4h.8M169.2 100.4h.8M170.7 100.4h.8M157.2 100.9h.8M161.2 100.9h.8M169.2 100.9h.8M171.7 100.9h.8M158.7 101.4h.8M172.2 101.4h.8M174.7 101.4h.8M161.2 101.9h.8M170.2 101.9h.8M170.7 101.9h.8M171.7 101.9h.8M177.2 101.9h.8M152.2 102.4h.8M158.2 102.4h.8M161.2 102.4h.8M170.7 102.4h.8M174.2 102.4h.8M177.2 102.4h.8M158.7 102.9h.8M160.2 102.9h.8M161.2 102.9h.8M169.2 102.9h.8M170.2 102.9h.8M156.2 103.4h.8M158.2 103.4h.8M161.2 103.4h.8M169.2 103.4h.8M170.2 103.4h.8M170.7 103.9h.8M171.7 103.9h.8M159.2 104.4h.8M161.2 104.4h.8M169.2 104.4h.8M170.7 104.4h.8M172.7 104.4h.8M173.2 104.4h.8M159.7 104.9h.8M169.2 104.9h.8M170.2 104.9h.8M170.7 104.9h.8M172.2 104.9h.8M176.2 104.9h.8M158.7 105.4h.8M159.7 105.4h.8M160.7 105.4h.8M161.2 105.4h.8M174.7 105.4h.8M160.7 105.9h.8M173.7 105.9h.8M159.7 106.4h.8M169.7 106.4h.8M171.2 106.4h.8M156.7 106.9h.8M160.2 106.9h.8M159.2 107.4h.8M160.2 107.4h.8M160.7 107.4h.8M169.7 107.4h.8M170.2 107.4h.8M174.7 107.4h.8M156.7 107.9h.8M159.7 107.9h.8M170.2 107.9h.8M172.2 107.9h.8M160.2 108.4h.8M170.7 108.4h.8M171.7 108.4h.8M174.2 108.4h.8M175.7 108.4h.8M157.2 108.9h.8M157.7 108.9h.8M159.2 108.9h.8M159.7 108.9h.8M171.2 108.9h.8M171.7 108.9h.8M172.7 108.9h.8M158.7 109.9h.8M170.7 109.9h.8M173.7 109.9h.8M175.2 109.9h.8M159.7 110.4h.8M160.2 110.4h.8M170.7 110.4h.8M171.2 110.4h.8M151.7 110.9h.8M156.7 110.9h.8M159.2 110.9h.8M170.7 110.9h.8M157.7 111.4h.8M171.7 111.4h.8M172.7 111.4h.8M174.7 111.4h.8M178.7 111.4h.8M155.7 111.9h.8M159.7 111.9h.8M171.2 111.9h.8M172.7 111.9h.8M175.2 111.9h.8M153.2 112.4h.8M171.2 112.4h.8M175.7 112.9h.8M158.7 113.4h.8M159.2 113.4h.8M171.7 113.4h.8M173.7 113.4h.8M174.2 113.4h.8M157.2 113.9h.8M159.2 113.9h.8M171.7 113.9h.8M174.7 113.9h.8M179.2 113.9h.8M159.2 114.4h.8M158.2 114.9h.8M158.7 114.9h.8M159.2 114.9h.8M172.7 114.9h.8M175.2 114.9h.8M157.7 115.4h.8M158.2 115.4h.8M158.7 115.4h.8M171.7 115.4h.8M172.2 115.4h.8M156.2 115.9h.8M159.2 115.9h.8M172.2 115.9h.8M173.7 115.9h.8M159.2 116.4h.8M171.7 116.4h.8M172.7 116.4h.8M173.2 116.4h.8M157.2 116.9h.8M158.7 116.9h.8M159.2 116.9h.8M172.2 116.9h.8M159.2 117.4h.8M172.2 117.4h.8M173.7 117.4h.8M174.2 117.4h.8M172.2 117.9h.8M176.2 117.9h.8M178.2 117.9h.8M156.7 118.4h.8M158.2 118.4h.8M173.2 118.4h.8M172.2 118.9h.8M174.2 118.9h.8M157.2 119.4h.8M159.2 119.4h.8M173.2 119.4h.8M173.7 119.4h.8M174.2 119.4h.8M157.2 119.9h.8M158.2 119.9h.8M159.2 119.9h.8M172.2 119.9h.8M172.7 119.9h.8M174.2 119.9h.8M175.7 119.9h.8M155.7 120.4h.8M157.2 120.4h.8M171.7 120.4h.8M172.2 120.4h.8M172.7 120.4h.8M154.2 120.9h.8M159.2 120.9h.8M172.2 120.9h.8M173.7 120.9h.8M159.2 121.4h.8M171.7 121.4h.8M172.2 121.4h.8M172.7 121.4h.8M173.7 121.4h.8M175.2 121.4h.8M158.7 121.9h.8M159.2 121.9h.8M172.2 121.9h.8M173.2 121.9h.8M176.2 121.9h.8M158.7 122.4h.8M171.7 122.4h.8M176.7 122.4h.8M177.2 122.4h.8M157.2 122.9h.8M158.7 122.9h.8M171.2 122.9h.8M172.7 122.9h.8M156.2 123.4h.8M159.2 123.4h.8M171.7 123.4h.8M172.7 123.4h.8M156.2 123.9h.8M158.7 123.9h.8M160.2 123.9h.8M170.7 123.9h.8M172.2 123.9h.8M160.2 124.4h.8M170.7 124.4h.8M172.7 124.4h.8M157.7 124.9h.8M160.7 124.9h.8M170.2 124.9h.8M170.7 124.9h.8M158.2 125.4h.8M159.7 125.4h.8M160.2 125.4h.8M169.7 125.4h.8M158.7 125.9h.8M160.2 125.9h.8M161.7 125.9h.8M170.2 125.9h.8M170.7 125.9h.8M174.2 125.9h.8M178.7 125.9h.8M159.7 126.4h.8M161.2 126.4h.8M161.7 126.4h.8M169.2 126.4h.8M169.7 126.4h.8M170.7 126.4h.8M158.2 126.9h.8M160.2 126.9h.8M161.7 126.9h.8M162.7 126.9h.8M168.2 126.9h.8M171.2 126.9h.8M162.2 127.4h.8M163.7 127.4h.8M166.2 127.4h.8M167.2 127.4h.8M168.2 127.4h.8M168.7 127.4h.8M169.2 127.4h.8M171.7 127.4h.8M161.2 127.9h.8M162.2 127.9h.8M163.2 127.9h.8M165.2 127.9h.8M165.7 127.9h.8M167.7 127.9h.8M169.2 127.9h.8M157.7 128.4h.8M159.7 128.4h.8M163.2 128.4h.8M167.2 128.4h.8M168.2 128.4h.8M175.7 128.4h.8M164.2 128.9h.8M165.2 128.9h.8M168.2 128.9h.8M162.7 129.4h.8M163.2 129.4h.8M164.7 129.4h.8M166.2 129.4h.8M166.7 129.4h.8M176.7 129.4h.8M177.7 129.4h.8M160.7 129.9h.8M162.7 129.9h.8M167.7 129.9h.8M168.2 129.9h.8M162.7 130.4h.8M170.2 130.4h.8M163.2 130.9h.8M163.7 130.9h.8M166.7 130.9h.8M169.7 130.9h.8M161.2 131.9h.8M162.2 131.9h.8M162.7 131.9h.8M175.2 132.4h.8M163.2 132.9h.8M166.2 132.9h.8M167.2 133.4h.8M164.2 134.9h.8M167.7 136.4h.8" stroke="#222" stroke-width=".8" fill="none"/><path d="M162.9 112.7h.8M162.5 127.1h.8M166.1 109.9h.8M168.8 102.4h.8M168.1 104.7h.8M165.2 125.1h.8M163.4 107.9h.8M165.4 131.9h.8M170.9 118.3h.8M167.5 118.9h.8M167 89.6h.8M169.3 115h.8M161.6 113.2h.8M166.8 108.9h.8M162.5 121h.8M159.6 110.1h.8M167 119.8h.8M164.1 104.5h.8M165.6 107.2h.8M167.6 130.4h.8M166 104.9h.8M162.6 122.9h.8M162.9 112.6h.8M167.7 119.6h.8M159 118.6h.8M165.6 115.4h.8M164.8 102.7h.8M165.3 98.6h.8M163.3 109.5h.8M161.9 113.9h.8M162.6 124.8h.8M169.4 123.7h.8M165.5 113.2h.8M169.8 123.4h.8M170.7 95.1h.8M161.3 123h.8M163.7 96.3h.8M166.1 118h.8M164.4 111.1h.8M167.8 98.6h.8M166 110.6h.8M166.5 108.7h.8M163.3 111.8h.8M163.4 122.4h.8M173.1 112.3h.8M166.4 112.4h.8M162.8 119.1h.8M167 109.6h.8M166.5 116.9h.8M165.7 106.1h.8M162.4 124.7h.8M160.2 107h.8M167.2 121.4h.8M168.7 108.6h.8M160 113.8h.8M166.3 118.9h.8M169.8 116.9h.8M160.6 107.7h.8M169.5 124.3h.8M165.3 107.9h.8M171.2 110h.8M164.1 111.8h.8M170 115.6h.8M155.3 97.1h.8M175 111.4h.8M161.3 128.3h.8M165.1 107.4h.8M162.9 126.1h.8M157.5 111.5h.8M169.5 102.7h.8M164.9 108h.8M160.7 100h.8M171.2 119h.8M167.9 113.3h.8M166.3 117.3h.8M162.8 116.2h.8M168.8 106.9h.8M165.5 102.9h.8M170.2 115.7h.8M164.2 107.6h.8M161.2 109.1h.8M158 117.4h.8M162.3 112.4h.8M158.2 111.4h.8M164.9 101.4h.8M161.2 130.8h.8M163.2 113.7h.8M164.4 98.7h.8M164.3 115.3h.8M163.8 127.2h.8M169.8 105.3h.8M159.9 104.5h.8M167.6 110.4h.8M168.1 101.3h.8M168.2 95.7h.8M157.4 117.8h.8M167.1 114h.8M165.5 117.5h.8M172.5 102.3h.8M162.9 110.9h.8M168 107.3h.8M169.5 122.7h.8M163.9 113.1h.8M163.4 122.9h.8M167.8 113.1h.8M164.4 114h.8M159.3 106.2h.8M166.8 125.8h.8M165 118.2h.8M160 128.6h.8M170.1 110.8h.8M160.2 115.4h.8M166.8 118.7h.8M167.5 100.2h.8M165.3 108.5h.8M161.9 115h.8M155.9 101.1h.8M164.9 114.6h.8M170.2 121h.8M172 101.1h.8M158.5 100.1h.8M162.4 103.1h.8M166.8 118.2h.8M163.9 100.1h.8M162.3 94.3h.8M171.4 117.6h.8M165 101.5h.8M168.6 99.2h.8M162.4 118.3h.8M160.6 124.4h.8M168.9 120.4h.8M161 104.3h.8M161.6 110.3h.8M161.8 117.3h.8M169.7 122.8h.8M167.2 119.6h.8M164.9 111.7h.8M160.9 105.2h.8M166.3 110h.8M169.4 106.5h.8M167.3 118.7h.8M165.3 107.2h.8M165.1 86.2h.8M169 109.6h.8M172.1 103.1h.8M169.8 128.9h.8M164.3 105.2h.8M165.4 120.6h.8M168.5 111.2h.8M169.2 118h.8M166 117.4h.8M166.4 113h.8M173.6 96.3h.8M172.5 120.9h.8M167.3 114h.8M169.3 113h.8M170.2 108.8h.8M163.6 114.1h.8M166.8 101.7h.8M166.4 117.1h.8M166.1 128.6h.8M169.7 110.5h.8M169.1 118h.8M170.7 103.1h.8M167.8 112.4h.8M167.8 121.6h.8M168.9 121h.8M165.4 115.9h.8M163.8 113.5h.8M163.4 129.5h.8M166 120.3h.8M168.2 116h.8M164.5 118.1h.8M162.6 124.2h.8M169 123.7h.8M170.7 121.8h.8M166.3 112.1h.8M167.6 113h.8M165.1 118.4h.8M166.6 122.7h.8M163 107.2h.8M162.1 105.3h.8M167.1 117.3h.8M163.3 92.6h.8M164.7 123.9h.8M166.7 108.1h.8M168.8 123.7h.8M169.7 128h.8M159.5 123.4h.8M162.2 99.5h.8M162.3 119.3h.8M162.9 117.2h.8M163.8 123.3h.8M162.6 114.6h.8M159.8 100.3h.8M165.8 128.5h.8M161.9 122.8h.8M164 119.6h.8M166.9 116.7h.8M164.5 102.2h.8" stroke="#444" stroke-width=".8" fill="none"/><path d="M156.9 77.1h.8M160.8 64.1h.8M158.9 76.2h.8M156.7 72.6h.8M154.1 68.2h.8M153.4 64.3h.8M160.2 82.9h.8M157.9 68.8h.8M151.8 66.2h.8M156.1 76.3h.8M155.7 66.3h.8M153 77.4h.8M153.8 80.2h.8M156.1 74.4h.8M155.2 62.2h.8M156.8 60.5h.8M160.3 67.3h.8M155.7 76.9h.8M153.2 78.4h.8M158.1 75.5h.8M156.9 74.9h.8M155.9 63.7h.8M157.4 69.9h.8M154 60.1h.8M156 55.3h.8M155.7 56h.8M158.5 72.9h.8M156.1 86.8h.8M153.3 69.6h.8M155.6 70.8h.8M157.2 65h.8M156.8 71.3h.8M152.3 59.2h.8M151.9 71.3h.8M154.8 70.6h.8M155 77.4h.8M156.8 72.7h.8M155.1 82.4h.8M152.6 77.1h.8M155.2 76.4h.8M155.3 92.9h.8M155.2 61.3h.8M161.5 59.2h.8M153.5 65.7h.8M155.6 78.2h.8M154.7 71.7h.8M153.7 76h.8M156.8 65.4h.8M153.6 74.7h.8M153.8 69.6h.8M155.5 62.4h.8M156.3 60h.8M156.8 76.4h.8M157.7 78.1h.8M155.7 67.2h.8M155.6 77h.8M155.6 59.4h.8M159.6 54.8h.8M154 68.9h.8M151.4 83.9h.8M154.4 56.7h.8M156 65.1h.8M152.8 74.4h.8M154 68.8h.8M157.1 80.5h.8M155.5 67.5h.8M158 71.9h.8M154.1 75.5h.8M155.7 77.4h.8M155.3 72.3h.8M154.2 74.6h.8M157 68.9h.8M154.9 59.6h.8M163.4 62.7h.8M157.9 81.9h.8M157.1 74.8h.8M152.7 82h.8M152.5 67.3h.8M152.2 70.1h.8M152.6 77.5h.8M158.6 64.6h.8M155.8 66.2h.8M152.8 78.5h.8M154.8 83.5h.8M155.7 75h.8M154.9 66.6h.8M154.3 78.5h.8M155.4 64h.8M156.2 63.7h.8M152.3 77.6h.8M154.1 74.2h.8M154.8 70.3h.8M156.2 79.9h.8M153.9 73.5h.8M155.9 79.3h.8M154.3 78.6h.8M155.7 67.5h.8M155.5 70.1h.8M154.4 74.6h.8M154.1 83.2h.8M155.1 71.4h.8M154.2 69.1h.8M156.6 81.1h.8M153.9 64.5h.8M152.4 55h.8M152.9 60.3h.8M155.3 78.1h.8M151.6 80.2h.8M153.3 80.9h.8M156.9 74.6h.8M154.5 70.3h.8M153.9 64.5h.8M157 77h.8M156.3 69.8h.8M158 85.1h.8M154.5 64.4h.8M159.7 89.6h.8M155.4 73.1h.8M158.7 77.2h.8M153.8 70.9h.8" stroke="#444" stroke-width=".8" fill="none"/><path d="M168.7 119.4h.8M159.9 126.1h.8M163.9 122.5h.8M165.7 123.3h.8M169.5 126.1h.8M156.4 129.3h.8M161.5 125.6h.8M171.7 122.2h.8M166.5 121.6h.8M165.8 128.9h.8M172 120.9h.8M164.2 129.4h.8M161.5 127.4h.8M167.7 123.6h.8M153 125.7h.8M172.1 124h.8M160.7 121.2h.8M181.3 118.9h.8M171.1 123.9h.8M169.6 130.8h.8M157.4 125.4h.8M168.7 125.4h.8M157 122.2h.8M152.8 119.2h.8M172.7 121.5h.8M175.5 117.8h.8M173.7 133.5h.8M157.4 121.2h.8M161.4 124.6h.8M165.1 123.9h.8M161.4 122.3h.8M157.6 125.8h.8M165.6 122.2h.8M165 127.5h.8M165.8 126h.8M160.5 128.7h.8M173.1 126.4h.8M161.7 124.7h.8M162.5 131.4h.8M156.2 120.9h.8M159 121.3h.8M161.7 130.1h.8M170.5 126.5h.8M168.1 117.2h.8M174.5 123.9h.8M163.9 129.6h.8M162.8 124.8h.8M162.1 128.4h.8M176.7 128.4h.8M164.2 117.8h.8M147.4 118.5h.8M160 122.9h.8M168.9 125.5h.8M170.8 119.4h.8M161.1 126.9h.8M173.1 129.6h.8M151 128.4h.8M157.7 124.2h.8M175.8 127h.8M172.2 131.8h.8M163.7 124h.8M171.5 122.7h.8M158.8 117.7h.8M162.6 127h.8M157.8 124.3h.8M165.5 126.9h.8M163.5 123h.8M161 122h.8M162.7 124h.8M167.8 125.8h.8M167.6 123h.8M162.5 119.9h.8M153 127.7h.8M168.7 124.7h.8M163.5 127.5h.8M164.2 121.8h.8M165.3 131.7h.8M165.6 122.6h.8M162.1 127.6h.8M168.6 132.8h.8M166.1 115.9h.8M167.8 124.5h.8M174 120.1h.8M175.5 125h.8M157.1 122.6h.8M152 125.3h.8M161.7 123.6h.8M163.6 123.2h.8M165.6 124.6h.8M171.2 129.2h.8M176 126.6h.8M168.4 125.5h.8M153.2 124.7h.8M160.5 117h.8M165.2 129.1h.8M165.2 126.3h.8M160.8 123.5h.8M158.5 120.9h.8M162.9 126.2h.8M177.2 120.7h.8M165.3 122.3h.8M172.2 122.1h.8M149.1 123.2h.8M170.6 124.2h.8M171 118.5h.8M171.1 131.3h.8M157.5 120.5h.8M160.1 117.4h.8M169.1 120.9h.8M169 128.9h.8M157.9 123.7h.8M161.9 117.9h.8M162.5 128.6h.8M157.4 125.2h.8M164.6 121.7h.8M159.8 125h.8M173.7 123.6h.8M168.1 125h.8M169 123.8h.8M167.5 124.2h.8" stroke="#444" stroke-width=".8" fill="none"/><g><path d="M166.4,126.2 165.4,126.3 164.4,126.2 163.2,125.7 162.3,125.2 161.7,124.5 161.2,123.7 160.7,122.6 160.4,121.4 160.2,119.4 160.2,116.4 160.7,113.4 161.4,109.9 162.1,107.7 162.6,104.9 162.8,102.4 162.7,99.4 161.8,91.7 160.9,86.9 159.8,83.2 156.7,74.7 156.1,71.7 155.8,68.7 156,66.4 156.6,64.9 157.7,63.4 159.5,61.6 160.7,60.8 162.9,59.7 165.2,59.1 166.9,58.8 168,58.9 169.2,59.4 170.1,60.1 170.7,61 171.2,62.3 171.6,64.2 171.9,68.4 171.8,71.2 171.2,76 169.3,85.4 168.9,88.7 167.8,97.4 167.6,101.4 167.6,103.7 167.9,105.7 168.6,108.4 169.7,111.6 170.4,114.7 170.8,117.2 170.8,119.7 170.3,121.9 169.7,123.4 169.2,124.3 167.9,125.6 166.4,126.2Z" fill="#f5f5f5" fill-rule="evenodd"/><path d="M165.2,95.2 164.7,94.9 163.9,93.4 160.6,83.9 157.2,75.1 156.4,71.8 156.1,68.2 156.4,66.2 157,64.9 158.1,63.4 159.9,61.6 161,60.9 163.2,59.9 165.4,59.3 167.2,59.1 168.4,59.4 169.4,59.9 170.1,60.6 170.7,61.7 171.1,63.1 171.5,65.2 171.7,67.9 171.6,70.4 170.9,75.9 169.4,82.3 167.5,89.7 166.6,92.7 165.7,94.7 165.2,95.2ZM166.7,125.4 165.4,125.6 164.4,125.5 163.4,125.1 162.4,124.4 161.7,123.4 161.2,122.4 160.7,119.9 160.8,116.7 161.7,112.8 162.7,110 164.2,106.8 164.7,106 165.2,105.8 165.7,106.1 166.2,106.9 168.7,111.6 169.7,114.5 170.2,117.4 170.2,120.2 169.9,121.4 169.4,122.7 168.9,123.7 168.2,124.5 167.4,125.1 166.7,125.4Z" fill="#d5d5d5" fill-rule="evenodd"/><path d="M165.4,87.2 164.9,87.4 164.4,87.2 163.4,86.3 161.7,84 160.2,81.2 158.7,77.7 157.5,74.2 156.8,70.7 156.6,68.2 156.9,66.2 157.5,64.9 158.6,63.4 160.1,61.9 161.2,61.1 163.3,60.1 165.4,59.7 166.9,59.5 168.2,59.8 169.2,60.3 169.9,61.1 170.4,62 170.9,63.7 171.2,65.2 171.4,67.7 171.4,70.2 171,73.4 170.5,76.2 169.2,80.2 168.3,82.7 167.4,84.3 166.2,86.4 165.4,87.2ZM165.9,124.2 164.4,124.1 163.7,123.7 162.9,123.1 162,121.7 161.6,119.7 161.7,117.7 162.4,115.5 163.9,113 164.7,112.1 165.2,111.9 165.7,111.9 166.2,112.3 166.9,113.1 167.9,114.5 168.9,116.7 169.3,118.7 169.1,120.7 168.4,122.2 167.4,123.5 166.7,124 165.9,124.2Z" fill="#b3b3b3" fill-rule="evenodd"/><path d="M165.2,84.7 164.7,84.7 164.2,84.6 163.4,84.2 162.4,83.3 161.2,81.8 160.1,79.7 158.9,76.9 157.9,73.9 157.3,70.4 157.1,67.9 157.5,66.2 158.1,64.7 159,63.4 160.4,62 161.7,61.2 163.4,60.4 165.2,60 166.9,59.9 167.9,60.1 168.9,60.6 169.7,61.4 170.3,62.4 170.7,63.7 171,65.4 171.2,67.9 171.1,70.2 170.7,73.7 170.1,76.2 169.5,77.7 167.2,82.5 166.2,83.9 165.2,84.7ZM166.2,122.9 164.9,123 164.2,122.7 163.7,122.4 162.8,121.2 162.5,119.7 162.6,118.2 163.2,116.7 164.4,115.1 164.9,114.8 165.4,114.6 166.2,114.9 167.2,115.9 167.9,117.2 168.3,118.7 168.3,119.9 167.9,121.2 167.2,122.2 166.2,122.9Z" fill="#929292" fill-rule="evenodd"/><path d="M164.9,82.9 164.4,83 163.7,82.8 162.4,82.1 161.7,81.2 160.4,78.9 159,75.7 158.3,73.4 157.7,70.2 157.6,67.9 157.9,66.2 158.5,64.7 159.4,63.4 160.6,62.1 161.8,61.4 163.5,60.6 164.9,60.3 166.7,60.3 167.7,60.4 168.7,60.9 169.4,61.7 170.1,62.9 170.6,64.4 170.8,65.7 171,67.9 170.9,69.9 170.4,73.4 169.3,76.9 166.7,81.4 165.7,82.5 164.9,82.9ZM165.9,121.7 165.2,121.8 164.4,121.5 163.8,120.9 163.4,119.9 163.4,118.9 163.8,117.9 164.4,117.1 165.2,116.6 165.9,116.7 166.5,117.2 167.1,117.9 167.4,118.9 167.3,119.9 167.1,120.7 166.5,121.4 165.9,121.7Z" fill="#737373" fill-rule="evenodd"/><path d="M164.7,81.9 164.2,82 163.4,81.8 162.4,81.2 161.7,80.3 160.6,78.4 159.4,75.4 158.7,73.4 158.1,70.2 158,67.9 158.3,66.2 158.9,64.7 159.5,63.6 160.7,62.4 161.8,61.6 163.4,60.9 164.7,60.6 166.4,60.5 167.4,60.7 168.4,61.2 169.2,61.9 169.9,63.1 170.4,64.6 170.7,65.9 170.8,67.9 170.8,69.9 170.2,73.4 168.9,76.8 166.4,80.7 165.4,81.6 164.7,81.9ZM165.7,120.7 165.2,120.8 164.7,120.5 164.4,120.2 164.2,119.7 164.4,118.7 164.7,118.3 165.2,118 165.7,118 166,118.2 166.4,118.7 166.6,119.2 166.4,120.2 165.7,120.7Z" fill="#585858" fill-rule="evenodd"/><path d="M164.7,81.2 163.7,81.3 162.7,80.8 161.7,79.7 160.8,78.2 159.6,75.2 159,73.4 158.4,70.2 158.3,67.9 158.5,66.4 159,64.9 159.6,63.9 160.7,62.6 161.9,61.8 163.4,61.1 164.7,60.8 166.2,60.8 167.4,61 168.3,61.4 169.1,62.1 169.7,63.1 170.2,64.4 170.5,65.7 170.7,67.9 170.6,69.7 170,73.2 168.8,76.4 167.9,77.8 166.4,79.8 165.4,80.8 164.7,81.2Z" fill="#414141" fill-rule="evenodd"/><path d="M164.7,80.7 163.7,80.8 162.9,80.5 161.9,79.5 161,77.9 159.8,75.2 159.2,73.4 158.7,70.4 158.5,68.2 158.8,66.4 159.3,64.9 159.9,63.9 160.8,62.9 161.9,62 163.2,61.4 164.4,61 165.9,61 166.9,61.1 167.9,61.5 168.8,62.1 169.5,63.1 170,64.4 170.3,65.7 170.5,67.7 170.5,69.4 169.9,72.9 168.6,76.2 167.9,77.4 166.4,79.2 165.4,80.2 164.7,80.7Z" fill="#fefefe" fill-rule="evenodd"/><path d="M164.4,79.9 163.4,79.9 162.7,79.4 161.8,78.4 161.1,77.2 160.1,74.7 159.5,72.9 159,70.2 159,68.2 159.2,66.7 159.6,65.2 160.2,64.2 161,63.1 161.9,62.3 163.2,61.7 164.4,61.4 165.7,61.3 166.7,61.5 167.7,61.9 168.4,62.5 169.2,63.5 169.7,64.7 170,65.9 170.2,67.7 170.2,69.4 169.6,72.7 168.2,76 166.2,78.6 165.2,79.5 164.4,79.9Z" fill="#f5f5f5" fill-rule="evenodd"/><path d="M163.9,79.2 163.2,79 162.2,78.1 161.4,76.9 160.7,75.2 160,73.4 159.6,71.7 159.4,69.9 159.4,68.2 159.6,66.7 160,65.4 160.5,64.4 161.3,63.4 162.2,62.6 163.2,62.1 164.2,61.8 165.4,61.7 166.5,61.9 167.4,62.3 168.2,62.9 168.9,63.9 169.4,65.2 169.7,66.4 169.9,67.9 169.8,69.7 169.6,71.2 169.1,72.9 167.7,75.9 166.7,77.3 165.7,78.3 164.7,79 163.9,79.2Z" fill="#dfdfdf" fill-rule="evenodd"/><path d="M164.7,78.4 163.9,78.6 163.2,78.4 162.4,77.9 161.7,76.8 160.6,74.4 160.1,72.9 159.7,70.9 159.6,68.9 159.7,67.4 160,66.2 160.4,65.2 161,64.2 161.9,63.1 162.7,62.6 163.9,62.1 164.9,62 165.9,62.1 166.9,62.4 167.7,62.9 168.3,63.6 168.9,64.7 169.3,65.9 169.5,67.4 169.6,68.9 169.5,70.4 169.1,71.9 167.9,74.9 167.3,75.9 166.4,77 165.4,78 164.7,78.4Z" fill="#bebebe" fill-rule="evenodd"/><path d="M164.7,77.9 163.9,78.1 163.2,77.9 162.4,77.3 161.8,76.4 160.8,74.2 160.3,72.7 160,70.7 159.9,68.9 160,67.4 160.3,66.2 160.7,65.2 161.4,64.2 162.2,63.3 162.9,62.7 163.9,62.4 164.9,62.3 165.9,62.4 166.9,62.8 167.7,63.4 168.2,64.1 168.7,65 169.1,66.2 169.3,67.7 169.4,69.2 169.2,70.4 168.9,71.9 167.8,74.4 167.2,75.5 166.4,76.4 165.4,77.4 164.7,77.9Z" fill="#939393" fill-rule="evenodd"/><path d="M164.2,77.7 163.4,77.6 162.7,77.2 162,76.2 161.2,74.6 160.3,71.9 160.1,70.4 160.1,68.7 160.3,67.2 160.6,65.9 161.1,64.9 161.6,64.2 162.4,63.3 163.2,62.9 163.9,62.6 164.9,62.5 165.9,62.7 166.7,63 167.4,63.6 168.1,64.4 168.6,65.4 168.9,66.7 169.2,69.4 169,70.7 168.6,72.2 167.3,74.9 166.7,75.8 165.7,76.8 164.9,77.4 164.2,77.7Z" fill="#666666" fill-rule="evenodd"/><path d="M164.7,77.2 163.9,77.4 163.2,77.2 162.7,76.8 162.2,76.2 161.2,74.2 160.7,72.9 160.3,71.2 160.2,69.4 160.5,66.9 160.8,65.9 161.3,64.9 162.1,63.9 162.9,63.2 163.7,62.9 164.7,62.7 165.7,62.8 166.5,63.1 167.2,63.6 167.8,64.4 168.4,65.4 168.7,66.4 169,69.2 168.7,71.4 167.8,73.7 166.4,75.7 165.4,76.7 164.7,77.2Z" fill="#393939" fill-rule="evenodd"/><path d="M164.4,77 163.7,77.1 162.9,76.7 162.4,76.2 161.7,74.9 161.1,73.7 160.7,72.2 160.4,70.7 160.4,69.2 160.7,66.9 161,65.9 161.5,64.9 162.2,64.1 162.9,63.4 163.7,63.1 164.7,62.9 165.7,63 166.4,63.4 167.2,63.9 167.8,64.7 168.3,65.7 168.6,66.7 168.8,67.9 168.9,69.4 168.5,71.7 167.4,74 166.2,75.7 165.2,76.6 164.4,77Z" fill="#fefefe" fill-rule="evenodd"/><path d="M164.4,76.4 163.7,76.5 163,76.2 162.4,75.5 161.7,74.2 160.9,71.9 160.6,69.2 160.9,66.9 161.7,65.2 162.4,64.3 163.2,63.7 163.9,63.4 164.7,63.3 165.4,63.4 166.2,63.7 166.9,64.2 167.5,64.9 168,65.9 168.3,66.9 168.6,69.4 168.3,71.7 167.4,73.7 166.2,75.2 165.2,76 164.4,76.4Z" fill="#f5f5f5" fill-rule="evenodd"/><path d="M164.7,75.7 163.9,75.8 163.2,75.6 162.7,75.1 161.9,74 161.1,71.9 160.9,69.4 161.2,67.2 161.9,65.4 163.2,64.2 163.9,63.8 164.7,63.7 165.4,63.9 166.2,64.2 166.8,64.7 167.4,65.4 168.1,67.2 168.4,69.4 168.1,71.4 167.2,73.4 166.2,74.7 164.7,75.7Z" fill="#dfdfdf" fill-rule="evenodd"/><path d="M164.9,75.2 164.2,75.4 163.7,75.3 163.2,75 162.4,74.3 161.9,73.4 161.4,72.3 161.1,70.2 161.2,67.9 161.8,66.2 162.3,65.4 162.9,64.7 163.7,64.2 164.4,64.1 165.2,64.1 165.9,64.4 167,65.4 167.5,66.2 167.9,67.2 168.2,69.2 168,70.9 167.3,72.9 166.2,74.4 164.9,75.2Z" fill="#bebebe" fill-rule="evenodd"/><path d="M164.4,74.9 163.7,74.8 163.2,74.6 162.5,73.9 162,73.2 161.4,71.4 161.2,69.2 161.5,67.4 162.2,65.9 162.7,65.3 163.4,64.7 163.9,64.5 164.7,64.4 165.9,64.8 167.1,65.9 167.8,67.7 168,69.7 167.6,71.7 166.7,73.4 165.7,74.4 164.4,74.9Z" fill="#939393" fill-rule="evenodd"/><path d="M165.2,74.4 164.4,74.6 163.9,74.6 163.2,74.2 162.7,73.8 161.8,72.2 161.4,70.4 161.5,68.2 162.1,66.4 162.6,65.7 163.2,65.1 163.7,64.8 164.4,64.6 165.7,64.9 166.7,65.7 167.5,67.2 167.9,68.9 167.8,70.7 167.2,72.3 166.2,73.8 165.2,74.4Z" fill="#666666" fill-rule="evenodd"/><path d="M165.2,74.2 164.4,74.4 163.9,74.3 163.2,74 162.7,73.5 161.9,71.9 161.5,70.2 161.6,68.2 162.2,66.5 163.2,65.3 163.7,65 164.4,64.8 165.7,65.1 166.6,65.9 167.3,67.2 167.7,68.9 167.7,70.4 167.1,72.2 166.2,73.5 165.2,74.2Z" fill="#393939" fill-rule="evenodd"/><path d="M165.2,74 164.4,74.1 163.9,74.1 162.9,73.5 162.4,72.8 162,71.9 161.6,70.2 161.7,68.2 162.2,66.7 163.2,65.5 163.7,65.2 164.4,65 165.2,65.1 165.7,65.3 166.6,66.2 167.3,67.4 167.6,68.9 167.6,70.4 167,72.2 166.2,73.3 165.2,74Z" fill="#fefefe" fill-rule="evenodd"/><path d="M164.9,73.7 163.9,73.6 163.4,73.4 162.9,72.9 162.2,71.7 161.8,69.9 161.9,68.2 162.4,66.8 163.4,65.7 164.4,65.3 165.4,65.5 166.4,66.3 167.1,67.7 167.4,69.2 167.3,70.7 166.7,72.1 165.9,73.1 164.9,73.7Z" fill="#f5f5f5" fill-rule="evenodd"/><path d="M164.9,73.2 163.9,73.1 163.4,72.8 162.9,72.4 162.3,71.2 162.1,69.7 162.2,68.2 162.7,66.9 163.4,66 164.4,65.6 165.4,65.8 166.4,66.7 166.9,67.9 167.2,69.2 167,70.7 166.5,71.9 165.7,72.8 164.9,73.2Z" fill="#dfdfdf" fill-rule="evenodd"/><path d="M165.2,72.7 164.2,72.8 163.7,72.6 163.2,72.2 162.6,71.2 162.3,69.9 162.3,68.4 162.7,67.2 163.4,66.3 164.4,65.9 165.4,66.1 166.1,66.7 166.7,67.7 167,68.9 166.9,69.9 166.6,71.2 165.9,72.2 165.2,72.7Z" fill="#bebebe" fill-rule="evenodd"/><path d="M164.9,72.4 163.9,72.3 163.2,71.7 162.7,70.7 162.5,69.4 162.6,68.2 163,67.2 163.7,66.4 164.4,66.1 165.2,66.2 165.9,66.8 166.5,67.7 166.7,68.9 166.7,70 166.3,71.2 165.7,72 164.9,72.4Z" fill="#939393" fill-rule="evenodd"/><path d="M165.2,72 164.4,72.1 163.9,72 163.5,71.7 162.9,70.8 162.7,69.7 162.7,68.4 163,67.4 163.7,66.6 164.4,66.3 165.2,66.4 165.8,66.9 166.3,67.7 166.5,68.7 166.6,69.7 166.3,70.7 165.9,71.4 165.2,72Z" fill="#666666" fill-rule="evenodd"/><path d="M165.2,71.7 164.4,71.8 163.7,71.5 163.2,70.9 162.8,69.7 162.8,68.4 163.1,67.4 163.7,66.7 164.4,66.4 165.2,66.6 165.7,67 166.1,67.7 166.4,68.7 166.4,69.4 166.2,70.4 165.7,71.3 165.2,71.7Z" fill="#393939" fill-rule="evenodd"/><path d="M164.9,71.5 164.2,71.5 163.7,71.1 163.2,70.4 162.9,69.4 162.9,68.4 163.2,67.6 163.7,66.9 164.4,66.6 165.2,66.8 165.6,67.2 166.1,67.9 166.2,68.7 166.2,69.7 165.9,70.5 165.4,71.2 164.9,71.5Z" fill="#e8e8e8" fill-rule="evenodd"/><path d="M165.2,70.7 164.4,70.9 164,70.7 163.6,70.2 163.3,69.4 163.2,68.7 163.4,67.7 163.9,67.2 164.4,66.9 164.9,67 165.4,67.4 165.9,68.4 165.8,69.7 165.2,70.7Z" fill="#b8b8b8" fill-rule="evenodd"/><path d="M164.9,69.9 164.4,70 164.2,69.9 163.8,69.4 163.6,68.9 163.8,67.9 163.9,67.6 164.4,67.4 164.8,67.4 165.2,67.7 165.5,68.4 165.4,69.2 164.9,69.9Z" fill="#8f8f8f" fill-rule="evenodd"/><path d="M164.7,69.2 164.4,69.2 164.2,69 164,68.7 164.1,68.2 164.4,67.9 164.7,67.9 165,68.4 165,68.9 164.7,69.2Z" fill="#6c6c6c" fill-rule="evenodd"/></g><path d="M166.7,58.3 167.4,58.3 168,58.3 168.7,58.5 169.4,58.8 170,59.1 170.6,59.6 171,60.1 171.3,60.7 171.5,61.5 171.7,62.5 171.9,63.6 172,65.1 172.1,66.6 172.2,68.3 172.2,70 172.1,71.8 172,73.6 171.8,75.3 171.6,76.8 171.4,78.3 171.2,79.7 171,81 170.7,82.4 170.5,83.8 170.3,85.1 170.1,86.6 169.9,88 169.8,89.6 169.7,91.2 169.5,92.7 169.4,94 169.3,95.3 169.2,96.5 169,97.9 168.9,99.4 168.8,101.1 168.8,102.8 168.8,104.4 169.1,106 169.4,107.4 169.9,108.8 170.3,110.2 170.7,111.7 171.1,113.3 171.4,114.8 171.6,116.3 171.6,117.8 171.6,119.2 171.5,120.6 171.2,121.8 170.9,123 170.4,124.1 169.8,125.1 169.1,125.9 168.4,126.5 167.5,126.9 166.6,127.1 165.8,127.3 165,127.3 164.3,127.2 163.6,127 162.9,126.7 162.2,126.2 161.5,125.6 160.9,124.9 160.3,124 159.9,122.9 159.6,121.7 159.4,120.3 159.3,118.8 159.4,117.2 159.5,115.5 159.7,113.6 160,111.8 160.4,110 160.8,108.2 161.2,106.4 161.5,104.6 161.6,102.8 161.5,101 161.4,99.2 161.2,97.4 161.1,95.6 160.9,93.7 160.7,91.9 160.5,90.2 160.3,88.6 160.1,87.1 159.8,85.8 159.4,84.4 159,83.1 158.5,81.7 158,80.3 157.5,79 157,77.6 156.5,76.2 156.1,74.9 155.7,73.4 155.5,72 155.3,70.4 155.2,68.9 155.2,67.5 155.4,66.3 155.6,65.4 156,64.6 156.6,63.8 157.4,62.9 158.4,62 159.5,61.2 160.6,60.4 161.8,59.8 162.9,59.3 164,58.9 165,58.6 165.9,58.4Z" fill="none" stroke="#111" stroke-width="1.8"/><path d="M166.5,61.1 167.4,61.3 168.1,61.7 168.8,62.2 169.3,62.8 169.7,63.6 170.1,64.4 170.3,65.3 170.5,66.3 170.6,67.3 170.6,68.4 170.5,69.6 170.4,70.7 170.1,72 169.7,73.2 169.3,74.3 168.8,75.5 168.2,76.6 167.5,77.7 166.7,78.7 165.8,79.8 164.8,80.6 164,81 163.2,80.9 162.5,80.2 162,79.2 161.4,78.1 160.8,76.9 160.3,75.6 159.8,74.2 159.4,72.8 159.1,71.5 158.9,70.1 158.8,68.7 158.8,67.4 159,66.2 159.4,65 159.9,64 160.6,63 161.5,62.3 162.5,61.8 163.6,61.4 164.6,61.1 165.6,61Z" fill="none" stroke="#1a1a1a" stroke-width="0.75"/><path d="M165.7,62.9 166.4,63.2 167,63.7 167.5,64.3 168,65 168.3,65.9 168.5,66.9 168.7,67.9 168.7,69 168.6,70.1 168.4,71.2 168,72.2 167.6,73.2 167.1,74.2 166.5,75.1 165.9,75.9 165.2,76.7 164.5,77.3 163.9,77.5 163.2,77.3 162.7,76.8 162.2,76 161.7,75.1 161.3,74.1 161,73 160.7,71.9 160.5,70.8 160.5,69.7 160.5,68.5 160.7,67.4 160.9,66.4 161.2,65.6 161.5,64.8 162,64.2 162.4,63.6 162.9,63.2 163.4,63 163.9,62.8 164.4,62.7 165.1,62.8Z" fill="none" stroke="#1a1a1a" stroke-width="0.75"/><path d="M167.7,70.6 167.6,71.1 167.5,71.5 167.4,71.9 167.3,72.3 167.1,72.7 166.9,73 166.7,73.4 166.4,73.6 166.1,73.9 165.9,74.1 165.6,74.3 165.3,74.4 165,74.5 164.7,74.5 164.4,74.5 164.1,74.4 163.8,74.3 163.5,74.2 163.2,74 162.9,73.8 162.7,73.5 162.4,73.2 162.2,72.9 162,72.5 161.9,72.1 161.7,71.7 161.6,71.3 161.5,70.8 161.5,70.4 161.5,69.9 161.5,69.5 161.5,69 161.6,68.5 161.7,68.1 161.8,67.7 161.9,67.3 162.1,66.9 162.3,66.6 162.5,66.2 162.8,66 163.1,65.7 163.3,65.5 163.6,65.3 163.9,65.2 164.2,65.1 164.5,65.1 164.8,65.1 165.1,65.2 165.4,65.3 165.7,65.4 166,65.6 166.3,65.8 166.5,66.1 166.8,66.4 167,66.7 167.2,67.1 167.3,67.5 167.5,67.9 167.6,68.3 167.7,68.8 167.7,69.2 167.7,69.7 167.7,70.1Z" fill="none" stroke="#1a1a1a" stroke-width="0.75"/><path d="M166.5,69.8 166.5,70.1 166.4,70.4 166.3,70.7 166.2,71 166,71.2 165.9,71.4 165.7,71.6 165.5,71.8 165.3,71.9 165.1,72 164.9,72.1 164.7,72.1 164.4,72.1 164.2,72.1 164,72 163.8,71.9 163.6,71.7 163.4,71.5 163.3,71.3 163.1,71.1 163,70.8 162.9,70.5 162.8,70.2 162.7,69.9 162.7,69.6 162.6,69.3 162.7,69 162.7,68.6 162.7,68.3 162.8,68 162.9,67.7 163,67.4 163.2,67.2 163.3,67 163.5,66.8 163.7,66.6 163.9,66.5 164.1,66.4 164.3,66.3 164.5,66.3 164.8,66.3 165,66.3 165.2,66.4 165.4,66.5 165.6,66.7 165.8,66.9 165.9,67.1 166.1,67.3 166.2,67.6 166.3,67.9 166.4,68.2 166.5,68.5 166.5,68.8 166.6,69.1 166.5,69.4Z" fill="none" stroke="#1a1a1a" stroke-width="0.75"/><path d="M248.7,68.5 249.3,67.4 250.1,66.3 250.9,65.4 252,64.5 253.1,63.7 254.4,63.1 255.8,62.5 257.3,62.1 258.9,61.8 260.3,61.6 261.7,61.6 262.9,61.6 264,61.7 265,62 265.8,62.5 266.5,63.2 267,64 267.4,64.9 267.6,65.9 267.7,67 267.7,68.1 267.6,69.1 267.4,70.2 267.1,71.1 266.8,72 266.5,72.9 266.2,73.8 266,74.6 265.8,75.5 265.8,76.2 265.8,77 266.1,77.7 266.4,78.3 266.9,78.8 267.5,79.2 268.2,79.5 269,79.6 270.1,79.7 271.4,79.7 272.8,79.7 274.4,79.7 275.9,79.6 277.4,79.6 278.9,79.6 280.3,79.6 281.7,79.6 283.2,79.6 284.7,79.7 286.2,79.7 287.7,79.8 289.1,80 290.4,80.1 291.6,80.3 292.9,80.9 294.1,81.6 295.4,82.6 296.6,83.9 297.8,85.2 298.8,86.6 299.8,88.1 300.7,89.6 301.5,91.1 302.2,92.7 302.9,94.2 303.5,95.7 304,97.1 304.5,98.3 304.8,99.3 305.1,100.3 305.1,101.3 304.9,102.4 304.5,103.5 303.8,104.8 303,105.9 302.1,107.1 301,108.2 299.7,109.2 298.3,110.2 296.7,111.1 295,112 293.1,112.7 291.3,113.3 289.6,113.7 287.9,113.9 286.2,114 284.3,114.1 282.3,114.1 280,114 277.6,113.9 275.4,113.9 273.3,113.9 271.4,113.9 269.6,114 267.6,114.1 265.5,114.3 263.3,114.5 261.1,114.7 258.9,114.8 256.9,114.8 255,114.8 253.2,114.6 251.7,114.3 250.4,113.8 249.3,113.1 248.5,112.3 247.7,111.1 247.1,109.6 246.7,107.8 246.4,105.7 246.1,103.6 246,101.5 245.9,99.2 245.9,96.9 246,94.7 246.1,92.4 246.3,90.1 246.5,87.8 246.7,85.5 246.9,83.1 247,80.6 247.1,78.2 247.3,76.1 247.4,74.4 247.5,73 247.6,71.9 247.9,70.8 248.2,69.6Z" fill="none" stroke="#222" stroke-opacity="0.5" stroke-width="6" stroke-linejoin="round" filter="url(#hb12)"/><path d="M257.3 55.3h.8M262.8 55.3h.8M247.8 55.8h.8M250.8 55.8h.8M257.8 56.3h.8M265.3 56.3h.8M273.3 56.3h.8M252.3 56.8h.8M259.3 56.8h.8M256.3 57.3h.8M257.3 57.3h.8M261.8 57.3h.8M254.3 57.8h.8M257.3 57.8h.8M259.3 57.8h.8M261.8 57.8h.8M264.8 57.8h.8M264.8 58.3h.8M266.3 58.3h.8M267.3 58.3h.8M267.8 58.3h.8M259.3 58.8h.8M259.8 58.8h.8M261.8 58.8h.8M264.3 58.8h.8M266.3 58.8h.8M267.3 58.8h.8M254.3 59.3h.8M257.8 59.3h.8M261.3 59.3h.8M266.8 59.3h.8M245.8 59.8h.8M255.8 59.8h.8M257.8 59.8h.8M259.8 59.8h.8M261.3 59.8h.8M262.3 59.8h.8M263.3 59.8h.8M254.8 60.3h.8M257.8 60.3h.8M258.3 60.3h.8M261.3 60.3h.8M263.3 60.3h.8M265.8 60.3h.8M267.3 60.3h.8M269.8 60.3h.8M254.8 60.8h.8M255.8 60.8h.8M257.8 60.8h.8M258.3 60.8h.8M258.8 60.8h.8M259.3 60.8h.8M259.8 60.8h.8M261.3 60.8h.8M262.3 60.8h.8M263.3 60.8h.8M264.3 60.8h.8M264.8 60.8h.8M265.8 60.8h.8M269.3 60.8h.8M271.8 60.8h.8M246.3 61.3h.8M251.8 61.3h.8M254.8 61.3h.8M257.8 61.3h.8M259.3 61.3h.8M259.8 61.3h.8M261.8 61.3h.8M262.3 61.3h.8M262.8 61.3h.8M263.3 61.3h.8M265.8 61.3h.8M266.3 61.3h.8M268.3 61.3h.8M269.8 61.3h.8M273.8 61.3h.8M254.8 61.8h.8M255.8 61.8h.8M257.3 61.8h.8M265.3 61.8h.8M265.8 61.8h.8M266.3 61.8h.8M266.8 61.8h.8M267.3 61.8h.8M268.3 61.8h.8M272.3 61.8h.8M274.8 61.8h.8M243.8 62.3h.8M253.8 62.3h.8M255.3 62.3h.8M266.3 62.3h.8M266.8 62.3h.8M246.8 62.8h.8M253.3 62.8h.8M254.3 62.8h.8M266.8 62.8h.8M267.3 62.8h.8M267.8 62.8h.8M270.8 62.8h.8M272.8 62.8h.8M239.3 63.3h.8M247.3 63.3h.8M253.3 63.3h.8M267.3 63.3h.8M267.8 63.3h.8M277.3 63.3h.8M248.3 63.8h.8M249.8 63.8h.8M250.8 63.8h.8M251.8 63.8h.8M267.8 63.8h.8M248.3 64.3h.8M248.8 64.3h.8M250.8 64.3h.8M251.8 64.3h.8M267.3 64.3h.8M240.3 64.8h.8M248.8 64.8h.8M251.3 64.8h.8M269.3 64.8h.8M270.3 64.8h.8M273.8 64.8h.8M248.3 65.3h.8M249.8 65.3h.8M250.3 65.3h.8M250.8 65.3h.8M267.8 65.3h.8M268.3 65.3h.8M269.8 65.3h.8M270.3 65.3h.8M291.8 65.3h.8M248.3 65.8h.8M249.3 65.8h.8M250.3 65.8h.8M270.3 65.8h.8M270.8 65.8h.8M271.3 65.8h.8M244.8 66.3h.8M248.3 66.3h.8M267.8 66.3h.8M270.8 66.3h.8M244.8 66.8h.8M246.3 66.8h.8M248.8 66.8h.8M249.3 66.8h.8M268.8 66.8h.8M270.3 66.8h.8M247.3 67.3h.8M247.8 67.3h.8M248.3 67.3h.8M268.8 67.3h.8M269.3 67.3h.8M272.3 67.3h.8M244.3 67.8h.8M246.8 67.8h.8M268.8 67.8h.8M246.8 68.3h.8M247.8 68.3h.8M248.3 68.3h.8M268.3 68.3h.8M269.3 68.3h.8M269.8 68.3h.8M270.8 68.3h.8M271.3 68.3h.8M271.8 68.3h.8M247.3 68.8h.8M248.3 68.8h.8M268.3 68.8h.8M268.8 68.8h.8M269.3 68.8h.8M247.3 69.3h.8M267.8 69.3h.8M271.8 69.3h.8M283.8 69.3h.8M242.8 69.8h.8M244.8 69.8h.8M245.8 69.8h.8M247.8 69.8h.8M269.3 69.8h.8M244.8 70.3h.8M247.8 70.3h.8M267.8 70.3h.8M269.3 70.3h.8M267.8 70.8h.8M269.3 70.8h.8M245.8 71.3h.8M267.3 71.3h.8M268.3 71.3h.8M269.8 71.3h.8M281.3 71.3h.8M244.3 71.8h.8M244.8 71.8h.8M245.3 71.8h.8M275.3 71.8h.8M276.3 71.8h.8M247.3 72.3h.8M267.8 72.3h.8M268.8 72.3h.8M272.8 72.3h.8M283.3 72.3h.8M285.8 72.3h.8M246.8 72.8h.8M267.8 72.8h.8M288.8 72.8h.8M244.3 73.3h.8M245.8 73.3h.8M246.8 73.3h.8M247.3 73.3h.8M266.8 73.3h.8M267.8 73.3h.8M268.3 73.3h.8M271.3 73.3h.8M244.8 73.8h.8M246.8 73.8h.8M266.8 73.8h.8M267.8 73.8h.8M268.8 73.8h.8M275.8 73.8h.8M240.3 74.3h.8M243.3 74.3h.8M246.3 74.3h.8M267.8 74.3h.8M271.8 74.3h.8M289.8 74.3h.8M296.8 74.3h.8M237.8 74.8h.8M243.8 74.8h.8M246.3 74.8h.8M267.3 74.8h.8M280.3 74.8h.8M290.3 74.8h.8M241.3 75.3h.8M242.3 75.3h.8M243.8 75.3h.8M266.3 75.3h.8M267.8 75.3h.8M276.8 75.3h.8M281.8 75.3h.8M284.3 75.3h.8M299.8 75.3h.8M270.3 75.8h.8M275.3 75.8h.8M277.3 75.8h.8M279.3 75.8h.8M280.3 75.8h.8M282.8 75.8h.8M285.3 75.8h.8M292.8 75.8h.8M240.8 76.3h.8M244.3 76.3h.8M246.8 76.3h.8M266.8 76.3h.8M267.8 76.3h.8M269.3 76.3h.8M270.8 76.3h.8M280.3 76.3h.8M280.8 76.3h.8M281.3 76.3h.8M281.8 76.3h.8M289.3 76.3h.8M292.8 76.3h.8M298.3 76.3h.8M240.8 76.8h.8M241.8 76.8h.8M244.8 76.8h.8M246.3 76.8h.8M246.8 76.8h.8M266.3 76.8h.8M267.8 76.8h.8M272.3 76.8h.8M273.3 76.8h.8M288.3 76.8h.8M290.8 76.8h.8M243.8 77.3h.8M246.3 77.3h.8M246.8 77.3h.8M269.8 77.3h.8M270.3 77.3h.8M271.3 77.3h.8M272.3 77.3h.8M276.8 77.3h.8M283.3 77.3h.8M286.3 77.3h.8M287.8 77.3h.8M290.8 77.3h.8M292.3 77.3h.8M244.3 77.8h.8M246.8 77.8h.8M266.3 77.8h.8M273.3 77.8h.8M276.3 77.8h.8M280.3 77.8h.8M280.8 77.8h.8M281.3 77.8h.8M284.3 77.8h.8M284.8 77.8h.8M289.8 77.8h.8M290.8 77.8h.8M294.8 77.8h.8M245.3 78.3h.8M245.8 78.3h.8M267.3 78.3h.8M269.3 78.3h.8M270.3 78.3h.8M271.8 78.3h.8M272.8 78.3h.8M274.3 78.3h.8M276.3 78.3h.8M276.8 78.3h.8M279.8 78.3h.8M280.3 78.3h.8M281.3 78.3h.8M282.8 78.3h.8M283.3 78.3h.8M283.8 78.3h.8M284.8 78.3h.8M286.3 78.3h.8M287.3 78.3h.8M287.8 78.3h.8M289.8 78.3h.8M293.3 78.3h.8M243.8 78.8h.8M244.3 78.8h.8M245.8 78.8h.8M246.8 78.8h.8M267.8 78.8h.8M270.3 78.8h.8M271.3 78.8h.8M271.8 78.8h.8M274.3 78.8h.8M276.8 78.8h.8M277.3 78.8h.8M277.8 78.8h.8M278.8 78.8h.8M279.3 78.8h.8M279.8 78.8h.8M280.3 78.8h.8M281.3 78.8h.8M281.8 78.8h.8M282.3 78.8h.8M282.8 78.8h.8M283.8 78.8h.8M287.3 78.8h.8M290.8 78.8h.8M293.3 78.8h.8M306.8 78.8h.8M242.3 79.3h.8M245.8 79.3h.8M268.3 79.3h.8M268.8 79.3h.8M269.3 79.3h.8M269.8 79.3h.8M270.8 79.3h.8M274.8 79.3h.8M276.3 79.3h.8M276.8 79.3h.8M277.3 79.3h.8M278.3 79.3h.8M279.8 79.3h.8M280.8 79.3h.8M281.3 79.3h.8M281.8 79.3h.8M282.8 79.3h.8M283.3 79.3h.8M284.8 79.3h.8M285.3 79.3h.8M288.8 79.3h.8M289.3 79.3h.8M290.3 79.3h.8M290.8 79.3h.8M291.3 79.3h.8M291.8 79.3h.8M294.3 79.3h.8M244.8 79.8h.8M245.3 79.8h.8M246.3 79.8h.8M289.3 79.8h.8M290.8 79.8h.8M291.8 79.8h.8M292.3 79.8h.8M293.8 79.8h.8M296.3 79.8h.8M243.8 80.3h.8M246.8 80.3h.8M293.3 80.3h.8M294.3 80.3h.8M298.3 80.3h.8M298.8 80.3h.8M241.8 80.8h.8M244.3 80.8h.8M244.8 80.8h.8M245.8 80.8h.8M246.3 80.8h.8M246.8 80.8h.8M293.3 80.8h.8M293.8 80.8h.8M295.3 80.8h.8M295.8 80.8h.8M246.8 81.3h.8M294.3 81.3h.8M295.8 81.3h.8M302.8 81.3h.8M243.3 81.8h.8M244.8 81.8h.8M246.3 81.8h.8M294.8 81.8h.8M296.3 81.8h.8M297.8 81.8h.8M243.8 82.3h.8M246.8 82.3h.8M295.3 82.3h.8M244.8 82.8h.8M245.3 82.8h.8M297.8 82.8h.8M298.8 82.8h.8M246.3 83.3h.8M296.3 83.3h.8M299.8 83.3h.8M300.8 83.3h.8M239.8 83.8h.8M243.3 83.8h.8M246.3 83.8h.8M296.8 83.8h.8M297.3 83.8h.8M299.3 83.8h.8M306.8 83.8h.8M243.8 84.3h.8M246.3 84.3h.8M298.8 84.3h.8M299.8 84.3h.8M300.8 84.3h.8M301.8 84.3h.8M241.8 84.8h.8M245.8 84.8h.8M246.3 84.8h.8M297.8 84.8h.8M300.3 84.8h.8M301.8 84.8h.8M245.3 85.8h.8M300.8 85.8h.8M304.8 85.8h.8M244.8 86.3h.8M299.3 86.3h.8M300.3 86.3h.8M301.8 86.3h.8M304.3 86.3h.8M244.8 86.8h.8M245.8 86.8h.8M299.8 86.8h.8M246.3 87.3h.8M300.3 87.3h.8M301.8 87.3h.8M302.8 87.3h.8M303.3 87.3h.8M239.3 87.8h.8M246.3 87.8h.8M305.8 87.8h.8M236.8 88.3h.8M241.3 88.3h.8M245.3 88.3h.8M245.8 88.3h.8M300.3 88.3h.8M303.8 88.3h.8M308.3 88.3h.8M244.3 88.8h.8M245.3 88.8h.8M245.8 88.8h.8M303.3 88.8h.8M243.8 89.3h.8M300.8 89.3h.8M303.3 89.8h.8M242.3 90.3h.8M243.8 90.3h.8M245.3 90.3h.8M242.8 90.8h.8M243.3 90.8h.8M244.8 90.8h.8M245.3 90.8h.8M301.8 90.8h.8M302.8 90.8h.8M303.3 90.8h.8M241.8 91.3h.8M244.8 91.3h.8M245.3 91.3h.8M301.8 91.3h.8M303.8 91.3h.8M305.3 91.3h.8M307.3 91.3h.8M243.8 91.8h.8M244.8 91.8h.8M303.3 91.8h.8M303.8 91.8h.8M245.8 92.3h.8M302.8 92.3h.8M245.8 92.8h.8M304.3 92.8h.8M305.8 92.8h.8M241.8 93.3h.8M243.3 93.3h.8M245.8 93.3h.8M303.3 93.3h.8M306.3 93.3h.8M307.3 93.3h.8M239.3 93.8h.8M243.8 93.8h.8M244.3 93.8h.8M245.8 93.8h.8M302.8 93.8h.8M303.3 93.8h.8M304.3 93.8h.8M306.8 93.8h.8M243.8 94.3h.8M245.3 94.3h.8M245.8 94.3h.8M303.8 94.3h.8M306.3 94.3h.8M240.3 94.8h.8M241.8 94.8h.8M244.8 94.8h.8M245.3 94.8h.8M245.8 94.8h.8M303.3 94.8h.8M304.3 94.8h.8M305.8 94.8h.8M241.3 95.3h.8M243.3 95.3h.8M304.3 95.3h.8M305.3 95.3h.8M305.8 95.3h.8M243.8 95.8h.8M244.3 95.8h.8M244.8 95.8h.8M245.3 95.8h.8M303.8 95.8h.8M306.8 95.8h.8M242.3 96.3h.8M245.3 96.3h.8M245.8 96.3h.8M304.3 96.3h.8M304.8 96.3h.8M240.8 96.8h.8M242.3 96.8h.8M244.8 96.8h.8M304.3 96.8h.8M304.8 96.8h.8M305.8 96.8h.8M242.8 97.3h.8M245.3 97.3h.8M304.3 97.3h.8M304.8 97.3h.8M305.3 97.3h.8M307.3 97.3h.8M241.8 97.8h.8M243.3 97.8h.8M244.8 97.8h.8M304.8 97.8h.8M305.3 97.8h.8M241.3 98.3h.8M244.8 98.3h.8M307.3 98.3h.8M241.8 98.8h.8M243.8 98.8h.8M245.3 98.8h.8M243.3 99.3h.8M244.3 99.3h.8M305.8 99.8h.8M306.8 99.8h.8M308.3 99.8h.8M308.8 99.8h.8M310.8 99.8h.8M237.8 100.3h.8M245.3 100.3h.8M241.8 100.8h.8M244.8 100.8h.8M305.8 100.8h.8M306.3 100.8h.8M306.8 100.8h.8M307.8 100.8h.8M308.8 100.8h.8M242.8 101.3h.8M243.8 101.3h.8M244.3 101.3h.8M245.8 101.3h.8M305.8 101.3h.8M308.3 101.3h.8M242.8 101.8h.8M244.8 101.8h.8M306.3 101.8h.8M306.8 101.8h.8M242.8 102.3h.8M243.8 102.3h.8M244.8 102.3h.8M245.3 102.3h.8M305.3 102.3h.8M305.8 102.3h.8M306.3 102.3h.8M307.8 102.3h.8M243.8 102.8h.8M244.3 102.8h.8M245.8 102.8h.8M305.3 102.8h.8M306.8 102.8h.8M245.8 103.3h.8M304.8 103.3h.8M305.3 103.3h.8M242.3 103.8h.8M243.3 103.8h.8M245.8 103.8h.8M305.8 103.8h.8M312.8 103.8h.8M244.3 104.3h.8M244.8 104.3h.8M245.3 104.3h.8M304.8 104.3h.8M242.3 104.8h.8M245.8 104.8h.8M306.3 104.8h.8M244.3 105.3h.8M244.8 105.3h.8M304.3 105.3h.8M305.3 105.3h.8M306.8 105.3h.8M243.8 105.8h.8M245.3 105.8h.8M245.8 105.8h.8M304.3 105.8h.8M304.8 105.8h.8M305.3 105.8h.8M305.8 105.8h.8M244.3 106.3h.8M245.3 106.3h.8M303.3 106.3h.8M307.3 106.3h.8M307.8 106.3h.8M243.8 106.8h.8M246.3 106.8h.8M302.8 106.8h.8M304.3 106.8h.8M245.8 107.3h.8M246.3 107.3h.8M302.3 107.3h.8M303.3 107.3h.8M304.3 107.3h.8M304.8 107.3h.8M305.8 107.3h.8M306.8 107.3h.8M310.3 107.3h.8M241.3 107.8h.8M243.8 107.8h.8M244.8 107.8h.8M245.8 107.8h.8M246.3 107.8h.8M301.8 107.8h.8M302.8 107.8h.8M303.8 107.8h.8M304.8 107.8h.8M307.3 107.8h.8M240.8 108.3h.8M242.3 108.3h.8M245.8 108.3h.8M301.3 108.3h.8M303.3 108.3h.8M244.8 108.8h.8M302.3 108.8h.8M309.8 108.8h.8M241.3 109.3h.8M303.3 109.3h.8M245.3 109.8h.8M245.8 109.8h.8M246.3 109.8h.8M246.8 109.8h.8M302.8 109.8h.8M303.3 109.8h.8M244.8 110.3h.8M246.8 110.3h.8M299.3 110.3h.8M299.8 110.3h.8M303.3 110.3h.8M245.3 110.8h.8M246.3 110.8h.8M300.3 110.8h.8M300.8 110.8h.8M301.3 110.8h.8M239.3 111.3h.8M241.3 111.3h.8M244.3 111.3h.8M246.8 111.3h.8M247.3 111.3h.8M296.8 111.3h.8M297.3 111.3h.8M298.3 111.3h.8M298.8 111.3h.8M299.3 111.3h.8M300.8 111.3h.8M302.3 111.3h.8M302.8 111.3h.8M303.8 111.3h.8M246.8 111.8h.8M247.3 111.8h.8M295.8 111.8h.8M296.8 111.8h.8M297.8 111.8h.8M298.3 111.8h.8M298.8 111.8h.8M301.3 111.8h.8M301.8 111.8h.8M302.8 111.8h.8M247.8 112.3h.8M248.3 112.3h.8M294.8 112.3h.8M295.3 112.3h.8M296.3 112.3h.8M296.8 112.3h.8M299.3 112.3h.8M300.3 112.3h.8M307.3 112.3h.8M307.8 112.3h.8M293.8 112.8h.8M294.3 112.8h.8M294.8 112.8h.8M297.8 112.8h.8M247.3 113.3h.8M248.3 113.3h.8M248.8 113.3h.8M292.3 113.3h.8M292.8 113.3h.8M296.8 113.3h.8M297.3 113.3h.8M304.3 113.3h.8M247.8 113.8h.8M248.3 113.8h.8M248.8 113.8h.8M290.3 113.8h.8M290.8 113.8h.8M291.3 113.8h.8M291.8 113.8h.8M292.3 113.8h.8M293.3 113.8h.8M293.8 113.8h.8M294.8 113.8h.8M296.8 113.8h.8M297.8 113.8h.8M300.8 113.8h.8M245.3 114.3h.8M267.3 114.3h.8M267.8 114.3h.8M268.3 114.3h.8M268.8 114.3h.8M269.3 114.3h.8M269.8 114.3h.8M271.8 114.3h.8M272.3 114.3h.8M273.3 114.3h.8M273.8 114.3h.8M274.3 114.3h.8M275.3 114.3h.8M276.3 114.3h.8M278.3 114.3h.8M278.8 114.3h.8M279.3 114.3h.8M280.3 114.3h.8M280.8 114.3h.8M283.3 114.3h.8M284.3 114.3h.8M284.8 114.3h.8M285.8 114.3h.8M288.3 114.3h.8M288.8 114.3h.8M289.3 114.3h.8M290.3 114.3h.8M295.8 114.3h.8M298.3 114.3h.8M249.3 114.8h.8M251.3 114.8h.8M252.3 114.8h.8M252.8 114.8h.8M262.3 114.8h.8M263.3 114.8h.8M264.3 114.8h.8M265.3 114.8h.8M266.8 114.8h.8M267.3 114.8h.8M269.3 114.8h.8M271.3 114.8h.8M274.8 114.8h.8M275.3 114.8h.8M275.8 114.8h.8M276.3 114.8h.8M278.3 114.8h.8M279.3 114.8h.8M279.8 114.8h.8M281.8 114.8h.8M282.3 114.8h.8M284.8 114.8h.8M288.3 114.8h.8M288.8 114.8h.8M290.3 114.8h.8M293.3 114.8h.8M294.3 114.8h.8M295.3 114.8h.8M298.3 114.8h.8M245.3 115.3h.8M248.3 115.3h.8M254.8 115.3h.8M255.8 115.3h.8M256.8 115.3h.8M257.3 115.3h.8M257.8 115.3h.8M258.3 115.3h.8M258.8 115.3h.8M259.3 115.3h.8M260.3 115.3h.8M260.8 115.3h.8M265.8 115.3h.8M266.3 115.3h.8M266.8 115.3h.8M270.3 115.3h.8M270.8 115.3h.8M272.3 115.3h.8M277.8 115.3h.8M278.3 115.3h.8M284.3 115.3h.8M285.3 115.3h.8M293.3 115.3h.8M294.3 115.3h.8M295.8 115.3h.8M296.8 115.3h.8M249.3 115.8h.8M249.8 115.8h.8M251.3 115.8h.8M252.8 115.8h.8M254.3 115.8h.8M256.3 115.8h.8M257.8 115.8h.8M260.3 115.8h.8M263.8 115.8h.8M267.3 115.8h.8M267.8 115.8h.8M268.3 115.8h.8M270.3 115.8h.8M270.8 115.8h.8M272.3 115.8h.8M278.8 115.8h.8M279.3 115.8h.8M282.3 115.8h.8M284.3 115.8h.8M284.8 115.8h.8M286.3 115.8h.8M288.3 115.8h.8M292.3 115.8h.8M295.8 115.8h.8M297.3 115.8h.8M298.8 115.8h.8M248.3 116.3h.8M250.8 116.3h.8M256.3 116.3h.8M256.8 116.3h.8M257.8 116.3h.8M258.8 116.3h.8M259.3 116.3h.8M262.3 116.3h.8M263.3 116.3h.8M274.8 116.3h.8M277.8 116.3h.8M289.3 116.3h.8M290.3 116.3h.8M291.8 116.3h.8M292.3 116.3h.8M246.8 116.8h.8M255.8 116.8h.8M257.3 116.8h.8M260.3 116.8h.8M263.8 116.8h.8M264.8 116.8h.8M266.8 116.8h.8M267.8 116.8h.8M270.8 116.8h.8M283.8 116.8h.8M285.3 116.8h.8M286.3 116.8h.8M291.3 116.8h.8M291.8 116.8h.8M294.3 116.8h.8M253.8 117.3h.8M257.3 117.3h.8M263.8 117.3h.8M266.8 117.3h.8M268.3 117.3h.8M268.8 117.3h.8M269.8 117.3h.8M270.3 117.3h.8M282.3 117.3h.8M283.8 117.3h.8M287.3 117.3h.8M290.3 117.3h.8M292.8 117.3h.8M249.8 117.8h.8M250.8 117.8h.8M251.3 117.8h.8M264.3 117.8h.8M264.8 117.8h.8M265.3 117.8h.8M271.3 117.8h.8M275.8 117.8h.8M286.8 117.8h.8M287.8 117.8h.8M295.3 117.8h.8M250.8 118.3h.8M257.8 118.3h.8M263.3 118.3h.8M264.8 118.3h.8M265.3 118.3h.8M278.3 118.3h.8M295.8 118.3h.8M299.3 118.3h.8M255.3 118.8h.8M258.8 118.8h.8M261.3 118.8h.8M262.8 118.8h.8M282.8 118.8h.8M288.8 118.8h.8M289.3 118.8h.8M254.8 119.3h.8M262.3 119.3h.8M263.8 119.3h.8M269.8 119.3h.8M273.3 119.3h.8M280.3 119.3h.8M285.3 119.3h.8M287.8 119.3h.8M291.3 119.3h.8M245.3 119.8h.8M248.8 119.8h.8M253.3 119.8h.8M254.8 119.8h.8M266.8 119.8h.8M278.3 119.8h.8M286.8 119.8h.8M285.3 120.3h.8M272.3 120.8h.8M262.8 121.3h.8M267.8 121.3h.8M278.8 121.3h.8M296.3 121.3h.8M254.3 122.3h.8M286.3 122.3h.8M257.3 123.3h.8M267.8 123.3h.8M297.8 123.3h.8M275.3 123.8h.8M257.3 124.3h.8M260.3 124.3h.8M256.8 128.3h.8M258.8 131.8h.8" stroke="#222" stroke-width=".8" fill="none"/><path d="M285.1 68.2h.8M293.8 67.3h.8M287.9 63.4h.8M300.1 54.7h.8M298 78.4h.8M297.2 69.9h.8M285.9 62h.8M297.2 67.7h.8M285.1 62.1h.8M303.3 75.8h.8M288.3 60.2h.8M293.7 75.2h.8M288.3 68.7h.8M278.2 79.8h.8M294.1 67.6h.8M290.4 80.9h.8M281.3 71.8h.8M303.6 76h.8M288.4 67.3h.8M287.1 66.1h.8M290 68.4h.8M287 56h.8M275.2 73.8h.8M302.9 62.5h.8M307.3 56.2h.8M269.7 82.5h.8M311.8 75.5h.8M294.4 52.5h.8M292.5 71.6h.8M290.8 61.3h.8M311.3 75.4h.8M295.1 52.5h.8M292.9 62.5h.8M313.3 66.1h.8M282 51.7h.8M300.2 72.5h.8M281.8 65.9h.8M289.8 61.4h.8M281.8 87.7h.8M305.8 72.3h.8M307.1 61.2h.8M300.4 69.9h.8M297.1 61.2h.8M279.8 70.2h.8M314.4 64.6h.8M304.6 68.7h.8M310.2 67.4h.8M287.6 64.1h.8M271.2 60.3h.8M297.1 56.4h.8M284.7 71.7h.8M288.4 70.4h.8M310.1 68.4h.8M270.6 66h.8M286.3 58.9h.8M292 65.5h.8M289.7 64.9h.8M296.6 56.2h.8M294.3 51.1h.8M303.7 62.3h.8M311 62h.8M263.1 63.3h.8M281.2 60.4h.8M291.4 72.1h.8M304.8 77h.8M276 67.5h.8M293.6 79.9h.8M287.3 62.3h.8M280.9 67.1h.8M285.9 74.5h.8M294.9 51.2h.8M304.2 70.7h.8M286 61.6h.8M267 69.7h.8M294.6 70h.8M295.9 76.5h.8M296.4 66.8h.8M274.7 60.1h.8M278.1 74.1h.8M282.8 69.6h.8M284.4 65.9h.8M277.4 73h.8M285.3 59.8h.8M307.5 60h.8M294.8 65.2h.8M291.4 74.2h.8M300.8 72.1h.8M292.1 61h.8M311.3 68h.8M287.1 72.4h.8M296.6 56.1h.8M289.1 57h.8M283.6 61.3h.8M285.1 60.6h.8M299.9 70.6h.8M275.8 51.9h.8M283.5 57.3h.8M292.7 71.1h.8M295 59.4h.8M283.5 67.9h.8M269.7 61.5h.8M284.3 70h.8M278.8 55.1h.8M293 57.9h.8M294.7 58.7h.8M297 66.9h.8M285.6 72.3h.8M301.8 70.3h.8M280.7 70.5h.8M305.9 60.6h.8M271.2 58.9h.8M299.4 77.7h.8M277.3 68.4h.8M280.8 61.7h.8M304.3 67.8h.8M296.6 71h.8M311 59.3h.8M288.9 58h.8M285.4 55.6h.8M297 67.6h.8M297.5 73h.8M306.8 77.6h.8M310.5 72h.8M287.5 62.6h.8M299.9 76.6h.8M303.8 74.7h.8M291 57h.8M283.8 84.7h.8M295.3 74.3h.8M286.8 65.3h.8M283.1 75.6h.8M269.3 67.2h.8M301.8 67.7h.8M291.6 65.4h.8M294.1 61.2h.8M274.3 69h.8M312.1 71.9h.8M305.2 68.7h.8M288.5 78.8h.8M285.5 65.7h.8M300.5 79h.8M310.3 57.6h.8M270.7 65.7h.8M286.8 57h.8M288 68.3h.8M298.7 66.3h.8M283.5 68.2h.8M297.5 72.8h.8M293.7 58.5h.8M307.9 81.6h.8M295.2 54.2h.8M296.6 74.9h.8M285.3 59.2h.8M306.6 71h.8M279.9 69.1h.8M293.2 80.4h.8M307.4 72h.8M295.1 60.2h.8M302 68.3h.8M304.8 64.6h.8M296.9 63.7h.8M289 64.3h.8M291.8 60.9h.8M298 74.1h.8M294.4 65.1h.8M274.7 57.3h.8M299.7 68.8h.8M284.6 70.6h.8M309.5 79.9h.8M295 58.9h.8M283.3 81.4h.8M292.7 59.3h.8M272.2 66.9h.8M294 69.4h.8M284.2 53.9h.8M298.4 62.7h.8M291.1 69.4h.8M304.9 58.2h.8M302.8 74.2h.8M289.5 51.1h.8M284.6 72.2h.8M284.3 67h.8M265.5 85.4h.8M286 53.8h.8M273.3 67.4h.8M300 82.6h.8M269.1 79.7h.8M281.3 65.9h.8M285.6 60.7h.8M276.6 57.6h.8M292.7 76.8h.8M314.2 72.8h.8M295.7 61.3h.8M289 68h.8M313.9 76.1h.8M287.4 75.3h.8M289.3 75.2h.8M275.5 75.2h.8M296.1 70h.8M296 78.4h.8M296.9 51.1h.8M275.9 61.7h.8M270.9 66h.8M304.7 75.8h.8M271 63.4h.8M303.3 75.3h.8M305.8 69.5h.8M292.2 61.2h.8M286.8 61.7h.8M291.5 63.3h.8M286.6 58h.8M294.5 62.5h.8M294.3 78.5h.8M299.4 65.9h.8M298.5 61.6h.8M283.1 68.1h.8M293.4 55.7h.8M267.7 73.5h.8M303.6 78.9h.8M297.2 67.6h.8M291.8 67.7h.8M288.9 66.7h.8M307.6 73.5h.8M292.7 82.4h.8M274.5 52.1h.8M295.6 74.6h.8M281.9 71.7h.8M296.5 52.6h.8M299.6 71.5h.8M280.5 72.2h.8M281.5 71.5h.8M271.7 59.7h.8M305.9 69.5h.8M288.8 72.4h.8M287.3 65.1h.8M302.4 51.9h.8M287.1 55.4h.8M283.5 61.2h.8M305.2 73.9h.8M282.6 62.4h.8M292 60.7h.8M295 68h.8M286.1 55h.8M300.9 79.4h.8M284.9 65h.8M306.4 64.6h.8M310.7 85.1h.8M282.3 64.5h.8M266.6 58.3h.8M291.4 67.4h.8M291.6 59h.8M290 59h.8M280.1 74.6h.8M284.7 67.3h.8M304.9 72h.8M276.1 65.9h.8M263 68.5h.8M290.2 59.6h.8M295.1 75.7h.8M291.5 75.7h.8M294.8 56.6h.8M297.3 89.4h.8M303.8 67h.8M306.2 78.2h.8M286.4 79.8h.8M273.4 60.7h.8M306.3 77.7h.8M294.4 66.6h.8M291.1 76.4h.8M307.6 74h.8M294.6 62.7h.8M276.2 56.7h.8M287 57.6h.8M282.8 64.5h.8M299.1 52h.8M281.8 71.5h.8M298.1 56.1h.8M313.5 64.3h.8M283.7 79.3h.8M306.2 66.5h.8M296 76.4h.8M300.7 74.1h.8M287 69.3h.8M270.2 73.5h.8M304.1 62.7h.8M296.8 61.9h.8M295.7 65.5h.8M287.4 71.8h.8M300.5 64h.8M285.2 71.7h.8M285.4 81.1h.8M292.3 75.6h.8M264.6 72h.8M298 75.9h.8M283 62h.8M289.8 74.4h.8M280.8 63.9h.8M280.9 69.2h.8M300.2 65.5h.8M282.5 77.9h.8M281.1 74.2h.8M297.3 72.5h.8M287 62.4h.8M281.4 78.5h.8M290.9 72.5h.8M287 62.3h.8M296.9 58.7h.8M287.4 60.3h.8M291.5 53.7h.8M268.6 78.8h.8M281.3 64.3h.8M291 77.8h.8M285.6 66.2h.8M273.6 69.2h.8M310.2 70.3h.8M303.9 71.7h.8M302.1 53.8h.8M276.4 70.6h.8M298.3 68.4h.8M281.2 71.1h.8M308.8 77.5h.8M302.4 59.9h.8M294.8 67h.8M297.5 69.5h.8M307 75.4h.8M277.3 71.5h.8M311.1 55.9h.8M296.6 61.2h.8M301.1 73.7h.8M278.6 71.5h.8M286.5 70.9h.8M296 59h.8M310.3 64.8h.8M284.8 64.3h.8M291.2 57.7h.8M302.3 65.7h.8M260.5 75h.8M297.1 69.1h.8M310.2 69.7h.8M285.1 57.6h.8M287.2 59.3h.8M288.2 65.1h.8M296.7 64.9h.8M296.7 54h.8M309 57.4h.8M294.8 67.1h.8M306.3 63.5h.8M308.6 75.4h.8M278.1 74.2h.8M301.3 68.7h.8M287.5 74.3h.8M296 58.5h.8M272.1 71.9h.8M273.2 71.2h.8M286.5 76.3h.8M286.7 66.5h.8M291.7 66.1h.8M308.5 59h.8M289.7 72.3h.8M293.4 70.8h.8M267.5 74.5h.8M314.5 77.5h.8M295.9 65.9h.8M271.9 68.7h.8M312.2 58h.8M275.1 78h.8M286 63.1h.8M301.8 64.3h.8M270.7 68.3h.8M291.7 53.4h.8M292.7 63.9h.8M298.7 65.8h.8M289.1 57.2h.8M291.4 66h.8M291.1 68.1h.8M277.5 61.8h.8M263.2 69h.8M299.1 52.8h.8M280.9 79.9h.8M288.2 58.8h.8M277.1 63.8h.8M272.7 59.4h.8M292.3 68h.8M291.2 65h.8M285.5 65.6h.8M271.9 64.6h.8M290.9 71.5h.8M291.8 74h.8M292.8 67.7h.8M277.8 64.8h.8M300 71.5h.8M310.2 64.6h.8M300.2 67.1h.8M314.1 69.7h.8M267.5 57.5h.8M277.6 64.9h.8M274 57.6h.8M309.3 70.2h.8M291.9 67.2h.8M301.2 52.8h.8M296.5 77.2h.8M293.8 64.9h.8M292.2 62.2h.8M282.5 62.4h.8M310.4 59.4h.8M302.6 76.2h.8M290.5 71.2h.8M285.4 62.3h.8M274.9 80h.8M265.7 58.7h.8M281 74.2h.8M278.6 70.2h.8M308.7 67.8h.8M298.3 74.9h.8M289.5 65.8h.8M268.3 80.6h.8M305.7 55.5h.8M296.4 67.4h.8M299.7 84.8h.8M294.8 72.8h.8M277.9 65.9h.8M296.7 75.1h.8M296.5 60.8h.8M262.6 70.8h.8M283.7 62.7h.8M266.8 60.1h.8M294 62.7h.8M292.5 71.9h.8M270.3 70.9h.8M274.5 74.6h.8M288 56.6h.8M275.9 67.2h.8M291 54.7h.8M299.1 64.8h.8M288.8 62.8h.8M299.4 73.8h.8M301.5 75.8h.8M284.4 64.8h.8M300.8 57.6h.8M303.4 66.6h.8M269 65.4h.8M303.3 63.2h.8M256.9 63.5h.8M289.9 68.4h.8M292.9 71h.8M297.3 64.2h.8M282.9 57.4h.8M276.1 62.1h.8M282.8 67.5h.8M275.9 67.4h.8M278.3 76.4h.8M312.9 62.6h.8M297 67.2h.8M285.8 62.5h.8M285 63.7h.8M279 66.8h.8M299.9 66.4h.8M285 68.3h.8M285.3 72.8h.8M311.9 72.1h.8M305.3 79.5h.8M284.3 68.4h.8M290.4 70.3h.8M298.3 54.2h.8M274.9 69.8h.8M303.4 86h.8M299.6 49.8h.8M288.3 83.5h.8M278.3 59.7h.8M285.2 66.9h.8M290 66.2h.8M291.9 64.3h.8M302.1 67.4h.8M284.1 60.4h.8M313.7 70.7h.8M276.9 72.9h.8M296.3 78.1h.8M303.5 60.8h.8M287.9 62.2h.8M275.1 81.7h.8M296.6 80.1h.8M305 58.8h.8M269.7 72.5h.8M305.2 53.2h.8M295.4 68.5h.8M286.5 64.2h.8M278.5 68.7h.8M298.4 63.3h.8M279.5 63.8h.8M283.6 84.5h.8M310.5 69.2h.8M305.1 54.6h.8M276.6 64.5h.8M292.8 77.2h.8M284.8 52.6h.8M292.6 66.5h.8M301.8 70.7h.8M287.2 57.4h.8M269.1 54.5h.8M280.1 66.6h.8M286 89.7h.8M284.6 61.5h.8M310.5 77.6h.8M295.9 76.2h.8M299.9 74.3h.8M277.4 51.2h.8M315.3 77.2h.8M303.5 67.7h.8M303.8 61.4h.8M285.9 71.1h.8M290.5 73.1h.8M307.4 62.7h.8M298.4 75.9h.8M288.4 60.2h.8M289.6 70h.8M296.7 62.2h.8M290.8 71.4h.8M270.9 60.1h.8M294.7 59.2h.8M281.7 72.5h.8M305.4 66.1h.8M304.9 61.1h.8M284.8 77.6h.8M300.3 69.2h.8M285.9 73.5h.8M289.2 62.6h.8M279.5 64.9h.8M289.4 53h.8M299.2 64.8h.8M293.8 53.7h.8M299.2 73.1h.8M282.1 68.6h.8M292.7 65.5h.8M288.7 70.9h.8M303 59.7h.8M298.9 73.5h.8M310.1 57.2h.8M294.2 59.7h.8M299 52.5h.8M291.6 68.1h.8M301.4 59.6h.8M282.1 67.4h.8M292.5 68h.8M291.3 75.5h.8M289.8 62.5h.8M288 65.6h.8M307.5 77h.8M310.1 69.1h.8M292.7 66.2h.8M289.3 73.8h.8M308.9 61.5h.8M299.6 70.4h.8M288.1 55h.8M290.1 67.8h.8M280.7 73.5h.8M284.3 68.8h.8M288.9 68.4h.8M270.1 70.5h.8M290.2 63.9h.8M282.9 62.5h.8M284.4 71.5h.8M271.5 67.8h.8M281.2 67.9h.8M291.7 70.5h.8M303 72.5h.8M281.7 54.4h.8M278.4 60.2h.8M298.2 80.5h.8M286 63.1h.8M281.3 57.1h.8M305.8 71.1h.8M294.9 65.1h.8M278.6 63.5h.8M272.4 70.1h.8M282.9 64.8h.8M296.5 54.5h.8M294.1 58.7h.8M304.3 72.5h.8M301.8 71.4h.8M312.8 61.4h.8M276.8 77.7h.8M293.7 66.3h.8M277.7 61.7h.8M276.2 63.7h.8M295.4 59.6h.8M310.1 78.2h.8M271.9 74.9h.8M286.9 73h.8M292.1 67.5h.8M263.6 55.8h.8M296.7 62.2h.8M299 57.6h.8M297.7 69.8h.8M291.3 73.5h.8M291.8 53h.8M287.8 71.8h.8M277.6 69.2h.8M292.6 61.3h.8M294.2 61h.8M289.7 54.3h.8M291.1 63.4h.8M307.9 73.7h.8M292.6 79.5h.8M281.4 63.4h.8M295 59.5h.8M298.1 64h.8M283 69.2h.8M267.4 77.8h.8M284.7 51.7h.8M288.5 56.4h.8M297 80.9h.8M283.3 63h.8M299.7 69.3h.8M277.2 54.6h.8M299.1 56.1h.8M289.9 65.2h.8M298.4 81h.8M292.5 56.1h.8M298 69.7h.8M284.7 67.6h.8M279.2 66.8h.8M294.8 69h.8M301.3 73.3h.8M297.7 78.1h.8M301.6 72.2h.8M306.4 69.8h.8M290.9 71.6h.8M309.4 69.8h.8M293.7 68.9h.8M314.4 63.3h.8M280.4 68.9h.8M303 63.7h.8M298.3 65.8h.8M298 65.7h.8M301.9 50.1h.8M296.9 65.5h.8M293.3 65.8h.8M283.6 63.7h.8M286.7 51.1h.8M281.9 78.1h.8M285.3 69.8h.8M280.1 69.8h.8M272.6 68.7h.8M302.7 62.4h.8M293.1 66.7h.8M292.2 69.4h.8M299.5 76.1h.8M298.5 66.3h.8M307.2 75.7h.8M288.8 72.7h.8M301.2 62.8h.8M278.2 61.1h.8M296.8 79.4h.8M294.6 65h.8M307.6 57.8h.8M293 79.9h.8M298.2 80.6h.8M290.9 70.2h.8M300.8 62h.8M300.7 75h.8M294.4 66.9h.8M282.3 73.7h.8M283.6 60.5h.8M297 69.8h.8M280.3 88.7h.8M279.6 57.8h.8M279.2 53.8h.8M295.1 56.9h.8M296.2 71.7h.8M282.8 59.8h.8M304.3 65.7h.8M295.5 59h.8M287.4 68.8h.8M285.7 72.9h.8M296.9 72.4h.8M295.5 93.5h.8M287.3 67.6h.8M290.1 63.9h.8M276.3 73.3h.8M295.6 67.5h.8M307.5 59.3h.8M283.5 56.2h.8M281.5 76.3h.8M303.3 70.4h.8M274.9 61.8h.8M299.8 59h.8M302.1 67.4h.8M311 67.8h.8M293.5 68.9h.8M311.4 63.3h.8M284.9 65.8h.8M292.1 69.2h.8M284.9 67.1h.8M309.7 79.2h.8M281.3 70.1h.8M294.5 78.2h.8M284.6 71.5h.8M311.5 65.3h.8M293.1 66.2h.8M283.2 68.5h.8M292.5 81.9h.8M292 62.8h.8M301.7 56.8h.8M272.3 63h.8M281.2 78.3h.8M291 51.6h.8M293.5 53.5h.8M285.3 74.8h.8M303.8 71.4h.8M301.4 61.6h.8M292.2 77.7h.8M284.8 77.1h.8M289.9 69.6h.8M279.9 78.5h.8M304.4 72.7h.8M296 65.7h.8M307.2 64.7h.8M301.5 67.2h.8M310.4 61.4h.8M291 58.6h.8M280.4 67.1h.8M294.4 58.3h.8M289.3 70h.8M304.6 64.5h.8M295.3 67h.8M279.7 67.6h.8M293.2 65.7h.8M291.9 68.1h.8M306.8 71.6h.8M272.7 72.8h.8M298.6 76.6h.8M291.2 53.7h.8M297.3 65.5h.8M300.7 62.4h.8M298.4 69.3h.8M288.4 66.7h.8M297.6 76h.8M286.5 63.6h.8M287.8 63.3h.8M297.2 60.6h.8M304.4 66.9h.8M274.6 64.3h.8M295.3 64.8h.8M295.5 59.3h.8M285.7 72.8h.8M284.5 65.8h.8M278.8 57.9h.8M274.8 70.8h.8M302.1 63.6h.8M280.8 62.2h.8M271.9 75.1h.8M271.8 75.8h.8M276.8 63h.8M267.5 76.3h.8M309.6 61.3h.8M275.8 70.4h.8M284.6 70.4h.8M294.2 68.3h.8M283.1 66.2h.8M286.8 73.1h.8M305.3 69.7h.8M300.6 74.6h.8M283.3 55h.8M307.9 67.1h.8M292.2 63.8h.8M302.9 68.5h.8M299.9 67.4h.8M272.6 70.2h.8M278.3 66.4h.8M288.8 60.7h.8M308.9 60.7h.8M289 65.6h.8M293.6 73h.8M312.7 60.3h.8M252.4 70.4h.8M289.3 54.1h.8M292.6 67.6h.8" stroke="#666" stroke-width=".8" fill="none"/><path d="M239.2 77h.8M244.4 96h.8M254.2 91.2h.8M249.8 89.2h.8M247.7 82.8h.8M241.8 67.4h.8M261.6 91.1h.8M249 117.3h.8M249.2 95.2h.8M246 78.2h.8M242.6 83.7h.8M251.6 92.6h.8M252.1 83.9h.8M256.7 88.5h.8M248.1 104.7h.8M248.9 74h.8M243.5 87.6h.8M248.2 80.3h.8M242.9 83.2h.8M254.8 73.2h.8M248 80.5h.8M233.4 94.5h.8M240.8 61.5h.8M249.9 85.1h.8M241.8 91.8h.8M244.9 70.2h.8M243.5 85h.8M244.4 83.2h.8M256.4 96.1h.8M246.3 83.3h.8M246.3 67.1h.8M266.4 102.8h.8M250.9 60.6h.8M248.6 66.6h.8M252.7 96.8h.8M245.1 61.4h.8M260.7 81.9h.8M244 79.2h.8M253.6 86.1h.8M245.2 76.7h.8M248.3 89.6h.8M242.6 93.9h.8M253.5 93.6h.8M251.8 89.8h.8M252.5 100.2h.8M248.6 111.2h.8M253.2 68.6h.8M238.9 68.8h.8M249.5 75.8h.8M250 102.7h.8M255.7 62.3h.8M243.9 89.9h.8M253.4 65.1h.8M241.6 114.9h.8M257.4 87.4h.8M254.7 90.6h.8M262.3 93.4h.8M249.6 64.5h.8M247.9 71.1h.8M259.8 106.9h.8M257 63.6h.8M253.5 102.8h.8M250.6 60h.8M253 79.9h.8M243.2 90.9h.8M256.1 108.5h.8M261.6 82.8h.8M251.8 83.6h.8M251.2 71.8h.8M250.5 68.9h.8M257.7 88.6h.8M258.8 60.1h.8M264.3 88.2h.8M252.9 77.2h.8M250.3 88.5h.8M249.3 55.9h.8M249.4 101.4h.8M250.3 71.4h.8M250.4 73.3h.8M249.8 77.3h.8M257.4 85.2h.8M260.9 93.9h.8M257.6 67.5h.8M242.8 71.8h.8M253.6 72.2h.8M244 107.7h.8M265.4 73h.8M265.1 57.2h.8M254.8 102.7h.8M244 65.6h.8M249.7 70.7h.8M253.2 88.5h.8M244.5 79.9h.8M250.7 93.3h.8M243.5 83.5h.8M247.7 49.9h.8M238.8 67h.8M254.1 70.1h.8M246.9 86.9h.8M239.3 80.5h.8M245.6 63.9h.8M252 68h.8M256 92.2h.8M257.6 77.3h.8M255.1 76h.8M255 80.8h.8M248.2 63.7h.8M245.9 84.6h.8M243.5 91.4h.8M244.7 76.1h.8M251 71.5h.8M252.6 98h.8M250.3 69.7h.8M257.8 83.3h.8M249.3 92.7h.8M238 90.3h.8M250.9 80.4h.8M256.2 82.9h.8" stroke="#777" stroke-width=".8" fill="none"/><path d="M264.3 119.1h.8M266.3 111.3h.8M287.4 120.7h.8M290.9 119.1h.8M253.5 116.7h.8M278.1 118.1h.8M264.1 119.4h.8M286.1 116.6h.8M280.3 122h.8M263 116h.8M296 117.4h.8M273.4 122.1h.8M272.8 129h.8M286.2 121.3h.8M288.3 118.9h.8M265.2 117.8h.8M263.4 116.5h.8M278.9 115.5h.8M253.9 113.4h.8M271.8 127.2h.8M287.9 123.8h.8M302 119.5h.8M257.9 128.3h.8M256.8 113.1h.8M257.6 116.5h.8M282.5 130.5h.8M293.9 118.7h.8M270.4 127.1h.8M255.8 119.5h.8M270.4 125.9h.8M255.7 107.3h.8M279.3 123.8h.8M256 118.2h.8M256.2 114h.8M297 125.7h.8M302.9 116.8h.8M262.6 111.7h.8M282.6 121.7h.8M274.7 119.5h.8M289 115h.8M273.6 123.8h.8M264.8 123.9h.8M258.4 118.9h.8M253.5 116.9h.8M277.1 114.7h.8M280.2 127.2h.8M295.4 126.9h.8M290.9 118.5h.8M303.6 117.8h.8M249.7 112.1h.8M241.5 124.2h.8M290.7 116.9h.8M263 119.1h.8M280.9 119.5h.8M280.9 123.6h.8M280.6 126.2h.8M256.5 121.7h.8M260.1 121.9h.8M280 122h.8M271.1 120.2h.8M286.2 121.8h.8M271.4 119.9h.8M276.9 117.2h.8M259.4 126.9h.8M296.1 120.8h.8M269 120.8h.8M293.9 123.9h.8M284.5 113h.8M278.8 121h.8M304.3 127.6h.8M285.9 121.4h.8M263.5 119.9h.8M270.5 121.1h.8M259.2 113h.8M272.4 116.2h.8M236.1 126.4h.8M263.3 116h.8M284.6 108.9h.8M248.4 129.7h.8M257.3 110.5h.8M269 120h.8M285.6 111.3h.8M284.2 123.7h.8M258.9 116.2h.8M280.9 114h.8M266.1 130.2h.8M267.2 124.1h.8M278.8 127h.8M269.1 114.6h.8M278.4 113.3h.8M265.5 124.9h.8M257.3 123.1h.8M290.6 116h.8M270.8 130h.8M252.8 115.5h.8M276.8 118.7h.8M250.3 119.9h.8M272.3 119.4h.8M252.2 120.2h.8M282.9 119.2h.8M259.4 122.7h.8M275.2 127.2h.8M286.7 120.4h.8M266.7 119.6h.8M267.8 121h.8M275.8 128.9h.8M283.9 126.3h.8M281.3 113.2h.8M286 117.6h.8M292 111.4h.8M299.7 125.4h.8M265.6 119.2h.8M270.7 124.5h.8M245.7 114.8h.8M263.6 118.3h.8M273.8 123.2h.8M258.6 121.8h.8M303.4 117.3h.8M295.6 118.9h.8M267.4 121.7h.8M292 118.3h.8M270.3 128.2h.8M258.5 120.6h.8M279.1 122.4h.8M264.9 122.3h.8M276 121.7h.8M273.9 122.9h.8M292.2 121.8h.8M250.6 121.6h.8M298.6 110.9h.8M289.8 117.1h.8M260.9 119.9h.8M299.7 124.7h.8M258.6 119.6h.8M291.1 124h.8M291.4 116.9h.8M294.6 117.1h.8M281.4 123.8h.8M257.1 116.1h.8" stroke="#777" stroke-width=".8" fill="none"/><path d="M260.6 134h.8M295.9 128.7h.8M311.9 133.4h.8M265.5 129.2h.8M264.4 129.1h.8M276.8 125.3h.8M305 128.1h.8M258.5 120h.8M291.1 126.5h.8M278.1 130.7h.8M258.4 128.7h.8M310.3 125.1h.8M276.2 132h.8M291.9 112.4h.8M298.4 121.5h.8M293.7 130.5h.8M238.9 130h.8M298.1 131.5h.8M287.5 122.6h.8M296.5 132.9h.8M248.7 124.5h.8M269.3 128.3h.8M264.5 126.7h.8M308.6 116.6h.8M298.6 124.8h.8M270.5 128.1h.8M285.9 133.6h.8M303.1 127.4h.8M262.6 124.9h.8M276.1 133.5h.8M289.6 124.4h.8M286.6 136.4h.8M275.9 118.1h.8M261.4 130.6h.8M266.3 126h.8M266.7 123h.8M275.6 126.9h.8M274.4 127.6h.8M286.3 134h.8M252.1 126.8h.8M264.9 122.4h.8M272.6 127.6h.8M279.4 125.8h.8M299.5 136.5h.8M286 131.3h.8M283 126h.8M285.2 115.1h.8M292.3 119.1h.8M286 126.9h.8M268.2 128.9h.8M282.5 125h.8M294.9 128.7h.8M314.2 130.6h.8M279.4 129.9h.8M281.1 129.1h.8M239.5 136.5h.8M256.3 124.1h.8" stroke="#aaa" stroke-width=".8" fill="none"/><g><path d="M260.3,114.1 257.6,114.2 254.8,114.1 252.6,113.7 251.3,113.4 250.6,113 249.6,112.2 248.8,111.3 248.3,110.3 247.6,108.1 247,105 246.7,99 246.8,93.8 247.9,82 248.4,72.8 248.8,70.5 249.6,68.6 250.5,67 251.4,66 252.6,65 254.3,64 256,63.3 257.6,62.9 260.6,62.4 262.1,62.4 263.6,62.6 265.1,63.3 266.1,64.5 266.6,65.8 266.8,67.3 266.7,69.3 266.3,70.9 265.1,74.8 264.9,76.3 265,77.3 265.4,78.3 266.3,79.6 267.1,80.1 267.8,80.3 270.3,80.7 272.8,80.7 275.8,80.4 282.8,80.4 287.8,80.7 290.1,80.9 291.6,81.3 292.7,81.8 294.5,83 296.3,84.8 298.1,86.9 300.1,90.2 301.1,92.1 302.3,95.2 303.8,99.3 304.1,101 303.8,102.5 302.8,104.5 301.8,105.9 299.8,108 298.5,109 296.9,110 294.9,111 291.7,112.3 289.8,112.8 287.6,113.2 281.1,113.3 273.6,113 268.1,113.3 260.3,114.1Z" fill="#f5f5f5" fill-rule="evenodd"/><path d="M261.1,113.6 257.3,113.7 253.6,113.5 252.3,113.2 251.3,112.8 249.7,111.5 249.1,110.7 248.6,109.8 247.8,107 247.3,102.5 247.2,98.8 247.4,93.8 247.7,90.3 248.3,84.3 249.1,79.3 249,72.8 249.3,70.9 249.8,69.3 250.6,67.9 251.7,66.5 252.8,65.5 254.4,64.5 257.3,63.5 261.6,63 263.3,63.3 264.6,63.9 265.5,65 266,66.3 266.2,67.8 266.1,69.4 265.6,71.6 264.4,75.3 264.2,76.8 264.4,78 264.7,79.3 265.1,80 265.8,80.8 266.3,81.2 267.1,81.5 269.8,81.6 273.1,81.5 275.8,81.2 280.3,81.1 287.6,81.3 290.8,81.8 292.5,82.5 294.3,83.8 296.8,86.3 297.8,87.6 299.6,90.5 300.6,92.5 301.6,95.1 303,99.5 303.2,100.8 302.9,102.3 302.1,104.2 301.1,105.5 299.3,107.6 297.3,109 295.1,110.3 291.3,111.8 287.3,112.6 281.1,112.7 273.6,112.5 268.1,112.8 261.1,113.6Z" fill="#d5d5d5" fill-rule="evenodd"/><path d="M257.8,113.1 254.3,112.9 252.3,112.4 251.6,112 250.8,111.4 249.7,109.8 248.8,107 248.3,102.3 248.2,99.5 248.4,94 248.8,90.2 249.7,85 251.5,79.3 251.4,78.5 250.6,75.4 250.2,73.3 250.4,71 250.9,69.3 251.6,68 252.6,67 253.6,66.2 255,65.3 256.6,64.7 257.8,64.4 261.1,64.3 262.4,64.5 263.6,65.1 264.3,66 264.9,67.5 264.9,69.3 264.6,71.5 262.7,76.5 262,79.5 262.1,80.3 262.3,80.8 264.2,82.8 265.6,83.8 266.8,84 269.6,83.8 276.1,82.9 281.8,82.6 288.8,82.9 290.3,83.2 291.8,83.8 293.6,84.9 295.9,87 296.9,88.3 298.5,91 299.4,93 300.3,95.8 301.1,99.3 301.3,101 301,102.3 300.2,104 298.7,106 297.8,107 296.5,108 294.4,109.3 290.8,110.7 286.8,111.4 281.3,111.7 273.1,111.6 268.6,111.9 257.8,113.1Z" fill="#b3b3b3" fill-rule="evenodd"/><path d="M258.8,112.3 256.8,112.4 253.8,112.1 252.3,111.5 251.2,110.5 250.3,109 249.7,107 249.2,102.3 249.1,100.5 249.5,93 249.8,90 250.6,86 251.1,84.5 251.8,82.9 252.6,81.6 253.8,80 254,79.3 253.8,78.5 252.3,76.1 251.5,74 251.3,72.3 251.6,70.3 251.9,69.3 252.6,68.3 253.2,67.5 254.1,66.9 255.3,66.2 256.6,65.6 257.8,65.3 259.1,65.3 261.1,65.4 262.3,65.9 263.3,66.8 263.8,68 263.9,69 263.8,70.3 263.6,71.5 263.2,72.8 262.1,75 259.5,78.8 259.2,79.5 259.4,80.3 260.1,81.3 263.8,85 265.1,85.9 266.1,86.2 269.3,85.6 275.3,84.4 280.3,83.9 283.8,83.8 288.1,84 289.6,84.2 291.1,84.7 292.8,85.7 294.9,87.5 296,88.8 297.3,91 298.3,93 299,95.5 299.7,98.5 299.9,100.5 299.7,101.8 299,103.3 297.9,105 296.9,106.3 295.8,107.2 293.8,108.4 290.6,109.7 287.3,110.4 281.8,110.8 277.6,110.9 273.3,110.8 269.1,111.1 258.8,112.3Z" fill="#929292" fill-rule="evenodd"/><path d="M256.8,77.3 255.8,77.1 254.8,76.4 253.8,75.5 253,74.3 252.5,73.3 252.4,72.3 252.4,71 252.7,69.8 253.3,68.8 254.1,68 255.1,67.3 256.3,66.7 257.6,66.3 258.6,66.2 259.8,66.3 261.1,66.6 262.1,67.3 262.6,68 262.8,68.7 262.9,70.5 262.5,72.3 261.6,73.9 260.3,75.2 258.3,76.7 257.6,77.1 256.8,77.3ZM259.3,111.6 257.6,111.7 255.3,111.6 254.1,111.5 253,111 252.1,110.3 251.2,109 250.8,107.8 250.4,106 250,102 250,100.5 250.4,93.8 250.9,90 251.7,86.5 252.3,84.9 253.4,83.3 254.8,82.2 256.3,81.6 257.1,81.7 257.8,82.1 260.2,84 263.8,87.7 264.6,88.2 265.3,88.4 266.8,88.2 273.3,86.2 276.8,85.5 280.3,85.1 283.8,85 289.3,85.4 291.6,86.2 293.6,87.7 295.1,89.3 296.4,91.5 297.3,93.5 298,96 298.4,99 298.3,101.3 297.7,103 296.3,105.2 295.2,106.3 293.3,107.5 290.6,108.7 287.1,109.4 278.1,110 270.8,110.1 266.3,110.5 259.3,111.6Z" fill="#737373" fill-rule="evenodd"/><path d="M257.8,75.3 256.8,75.5 256.1,75.3 255.1,74.8 254.3,74.3 253.7,73.5 253.3,72.8 253.1,71.8 253.1,70.8 253.7,69.3 254.3,68.6 255.1,68 256.1,67.4 257.3,67 258.3,66.9 259.3,67 260.8,67.5 261.7,68.3 262.2,69.5 262.2,71 261.7,72.3 260.8,73.6 259.3,74.7 257.8,75.3ZM259.3,111.1 257.6,111.2 255.3,111.1 254.3,111 253.3,110.5 252.5,109.8 251.7,108.5 251.2,107.3 250.9,105.8 250.5,102.3 250.5,100.8 251.2,93.5 251.5,90.8 252.3,87.5 252.9,86 253.8,84.6 254.8,83.9 256.3,83.6 257.1,83.7 257.8,84.1 259.6,85.5 263.1,89.3 264.1,90 264.8,90.2 265.6,90.3 266.6,90.1 273.1,87.5 275.6,86.8 280.3,86.1 284.6,85.9 288.8,86.2 290.1,86.5 291.3,87.1 292.6,88 294,89.3 295.7,91.8 296.5,93.8 297.1,96 297.4,98.8 297.3,101 296.7,102.8 295.4,104.8 294.4,105.8 292.6,107 290.3,108 287.1,108.7 281.8,109.2 277.8,109.4 270.6,109.4 266.3,109.9 259.3,111.1Z" fill="#585858" fill-rule="evenodd"/><path d="M257.1,74.6 255.6,74.2 254.8,73.8 254.1,73 253.7,72.3 253.6,71.5 253.6,70.8 253.8,70 254.2,69.3 254.8,68.7 256.6,67.7 258.3,67.3 259.8,67.6 260.9,68.3 261.6,69.3 261.8,70.5 261.5,71.8 260.8,72.8 259.8,73.7 258.3,74.4 257.1,74.6ZM258.3,110.8 255.1,110.7 254.1,110.4 253.3,110 252.6,109.1 251.9,108 251.4,106.5 251.1,104.8 250.8,102.3 250.8,100.5 252.2,91 253.3,87 254,85.8 254.8,85.1 255.3,84.9 256.1,84.8 256.8,85 257.6,85.4 258.9,86.5 262.5,90.5 263.6,91.3 264.6,91.7 265.6,91.7 266.8,91.4 273.3,88.4 275.6,87.6 280.6,86.8 284.3,86.6 288.6,86.8 289.8,87.2 291.1,87.7 292.1,88.3 293.5,89.5 294.2,90.5 295.1,92 296,94 296.5,96.3 296.7,98.8 296.5,101 295.9,102.8 294.8,104.5 293.6,105.7 292.1,106.7 290.1,107.5 286.8,108.2 281.6,108.7 277.8,108.9 270.3,108.9 266.6,109.4 258.3,110.8Z" fill="#414141" fill-rule="evenodd"/><path d="M258.3,73.9 256.8,74 255.3,73.5 254.3,72.5 253.9,71.3 254.2,70 255.1,68.9 256.6,68.1 258.1,67.7 259.3,67.9 260.3,68.3 261.1,69.3 261.4,70.3 261.2,71.5 260.6,72.5 259.6,73.4 258.3,73.9ZM259.8,110.3 257.8,110.5 256.3,110.5 255.1,110.4 254.1,110 253.2,109.3 252.5,108.3 251.9,107 251.4,105.3 251,101.3 251.7,96.8 252.8,91.5 253.3,89.5 254.1,87.3 254.6,86.6 255.1,86.2 255.6,86 256.1,86 257.1,86.5 258.1,87.3 262.1,91.6 263.3,92.4 264.6,92.7 265.8,92.7 267.1,92.3 273.3,89.1 275.1,88.4 277.1,87.9 280.6,87.3 284.1,87.1 288.3,87.3 290.8,88.2 291.8,88.8 293.1,89.9 293.8,90.8 294.7,92.3 295.5,94.3 296.1,96.5 296.2,98.8 295.9,101 295.3,102.8 294.3,104.3 293.1,105.5 291.6,106.4 289.6,107.2 286.8,107.7 281.6,108.3 278.1,108.5 270.1,108.4 266.6,108.9 259.8,110.3Z" fill="#fefefe" fill-rule="evenodd"/><path d="M258.1,73.3 256.8,73.4 255.6,72.9 254.7,72 254.5,71 254.8,70 255.6,69.2 256.8,68.5 258.3,68.2 259.3,68.4 260.3,69 260.7,69.8 260.9,70.5 260.6,71.5 260.1,72.3 259.1,73 258.1,73.3ZM259.8,109.8 257.8,110 256.1,110 254.8,109.7 254.1,109.3 253.3,108.6 252.6,107.5 252.1,106.3 251.7,104.5 251.4,102.5 251.4,101 252,98 253.2,94 254.3,91.3 255.1,89.8 255.8,89 256.6,89 257.3,89.4 261.8,93.1 263.3,93.8 264.8,94.1 266.1,94.1 267.1,93.7 271.1,91.3 275.1,89.3 278.1,88.5 281.1,88 283.6,87.8 287.8,88 288.8,88.3 290.3,88.8 291.3,89.4 292.6,90.4 293.3,91.4 294.1,92.8 294.9,94.8 295.4,96.8 295.4,99 295.1,101 294.6,102.5 293.8,103.8 292.4,105 291.1,105.9 289.6,106.5 287.6,107 281.1,107.7 277.1,107.8 271.3,107.4 269.6,107.4 263.6,109.1 259.8,109.8Z" fill="#efefef" fill-rule="evenodd"/><path d="M258.1,72.8 257.1,72.9 255.9,72.5 255.3,72 255,71 255.3,70.2 256.1,69.4 257.1,68.9 258.3,68.7 259.1,68.9 259.8,69.3 260.2,69.8 260.3,70.5 260.2,71.3 259.6,72 258.8,72.5 258.1,72.8ZM260.3,109.3 258.3,109.5 256.8,109.5 255.6,109.3 254.6,109 253.8,108.3 253,107.3 252.4,106 252,104.5 251.7,102.5 251.6,101.3 251.8,100 252.4,98.3 253.1,96.7 254.3,94.6 255.8,92.7 256.6,92.1 257.1,92.1 257.8,92.3 260.7,94 262.8,95 265.1,95.6 266.3,95.7 267.3,95.2 271.1,92.3 275.1,90.1 277.6,89.3 280.8,88.8 284.8,88.6 288.1,88.9 290.3,89.7 291.3,90.4 292.3,91.3 293.7,93.5 294.4,95.3 294.7,97 294.7,99 294.4,101 293.9,102.3 293.1,103.5 291.8,104.7 290.6,105.4 288.8,106 287.1,106.4 279.3,107.2 274.8,106.9 270.3,106.1 269.3,106.1 264.1,108.4 262.6,108.9 260.3,109.3Z" fill="#d4d4d4" fill-rule="evenodd"/><path d="M258.3,72.4 257.6,72.5 256.8,72.5 255.8,71.9 255.5,71.3 255.5,70.8 255.7,70.3 256.1,69.9 257.1,69.3 258.1,69.1 258.8,69.2 259.6,69.6 259.9,70.3 259.8,71.1 259.3,71.8 258.3,72.4ZM260.1,109.1 257.1,109.2 255.8,109 254.8,108.7 254.1,108.1 253.2,107 252.6,105.8 252.2,104.5 251.9,102.8 251.9,101.3 252.1,100 252.6,98.6 253.1,97.6 253.8,96.6 255.3,95 256.6,94.1 257.3,93.9 258.1,94 261,95.3 265.3,96.9 266.1,97.2 266.8,97.2 267.6,96.7 269.7,94.3 270.8,93.3 272.6,92 274.8,90.8 277,90 278.6,89.7 281.6,89.2 284.1,89 287.6,89.3 288.8,89.7 290.1,90.2 291.1,90.9 292,91.8 293.4,94 293.9,95.5 294.2,97.3 294.2,99 293.9,100.8 293.5,102 292.6,103.3 291.5,104.3 290.3,105 288.3,105.7 286.8,106 281.3,106.7 278.8,106.8 276.6,106.6 274.3,106.3 269.8,104.9 269.1,104.8 268.3,105.1 266.2,106.8 264.3,107.9 262.6,108.6 260.1,109.1Z" fill="#b1b1b1" fill-rule="evenodd"/><path d="M257.8,72.1 257.1,72.1 256.3,71.8 255.9,71.3 255.9,70.8 256.2,70.3 256.8,69.8 257.8,69.5 258.6,69.5 259.3,70 259.5,70.8 259,71.5 257.8,72.1ZM259.8,108.8 256.8,108.8 255.8,108.7 254.9,108.3 254.1,107.6 253.4,106.8 252.8,105.7 252.4,104.5 252.1,103 252,101.5 252.2,100.3 252.6,99 253.1,98.3 253.8,97.3 255.1,96.4 256.3,95.7 257.6,95.3 259.1,95.6 262.9,97 266.6,99.1 267.3,99.3 267.7,99 268.1,98.6 269.7,95.8 270.5,94.5 271.8,93.4 273.8,92 275.6,91.1 277.8,90.3 280.3,89.8 283.3,89.5 285.1,89.6 287.3,89.8 289.6,90.5 290.6,91.2 291.6,92.1 292.4,93.3 293.1,94.5 293.6,96.3 293.8,97.8 293.7,99.3 293.4,101 292.8,102.2 292.1,103.2 291.1,104.1 289.8,104.7 287.8,105.4 286.3,105.7 280.8,106.3 277.8,106.3 275.3,105.9 273.2,105.3 271,104.3 268.8,102.8 268.3,102.7 267.8,103.1 266.5,105.5 265,107 262.8,108.2 259.8,108.8Z" fill="#878787" fill-rule="evenodd"/><path d="M258.1,71.6 257.3,71.7 256.7,71.5 256.4,71 256.5,70.5 257.1,70.1 257.6,69.9 258.1,69.9 258.7,70 258.9,70.3 259,70.8 258.6,71.3 258.1,71.6ZM282.8,105.8 279.6,106 276.8,105.8 274.1,105.1 271.8,103.9 271,103.3 270.3,102.5 269.7,101.5 269.3,100.5 269.3,99 269.9,97 270.7,95.3 272.1,93.8 274.6,92.1 277.1,91 279.8,90.3 283.3,89.9 286.8,90.1 288.8,90.6 289.8,91.2 291.1,92.2 292.1,93.5 292.8,94.8 293.3,96.5 293.5,98 293.4,99.5 293,101 292.5,102 291.8,102.9 290.8,103.8 289.9,104.3 287.1,105.3 282.8,105.8ZM260.1,108.6 257.3,108.6 255.3,108.2 254.6,107.7 253.8,107 253.2,106 252.7,105 252.4,103.8 252.2,102 252.3,100.8 252.6,99.8 253.1,98.7 253.8,97.8 254.6,97.3 255.8,96.7 257.1,96.3 258.3,96.3 259.8,96.7 262.1,97.5 263.3,98.1 264.9,99.3 265.8,100.3 266.3,101.3 266.5,102.5 266.4,104 266.1,105 265.5,106 264.4,107 263.1,107.8 261.8,108.2 260.1,108.6Z" fill="#5d5d5d" fill-rule="evenodd"/><path d="M258.1,71.1 257.3,71.1 257.1,70.8 257.6,70.5 258.1,70.4 258.3,70.5 258.3,70.8 258.1,71.1ZM283.1,105.6 279.8,105.8 277.3,105.6 274.6,104.9 272.3,103.7 271.6,103 271,102.3 270.5,101.3 270.2,100.3 270.2,98.5 270.7,96.5 271.5,95 273.1,93.5 275.1,92.2 277.6,91.2 280.1,90.5 283.3,90.2 285.8,90.3 288.3,90.8 289.6,91.4 290.7,92.3 291.8,93.5 292.5,94.8 293,96.3 293.2,97.8 293.1,99.3 292.8,100.8 292.3,101.8 291.6,102.8 290.7,103.5 289.8,104.1 287.1,105 283.1,105.6ZM260.6,108.3 257.8,108.5 255.8,108.2 254.6,107.5 253.3,106 252.8,104.9 252.5,103.8 252.3,102.3 252.4,101 252.8,99.8 253.3,98.8 253.8,98.2 254.6,97.7 255.8,97.1 257.3,96.9 258.6,96.9 260.3,97.4 261.8,97.9 263.1,98.6 264.3,99.7 265.2,100.8 265.7,102 265.9,103.3 265.8,104.5 265.4,105.5 264.6,106.5 263.6,107.3 262.3,107.9 260.6,108.3Z" fill="#363636" fill-rule="evenodd"/><path d="M283.3,105.3 279.8,105.5 277.1,105.3 274.3,104.4 273.2,103.8 272.3,103 271.6,102.3 271.1,101.3 270.8,100.3 270.7,99 270.9,97.8 271.2,96.5 271.7,95.5 272.3,94.8 274.1,93.3 275.8,92.2 278.3,91.3 280.8,90.7 284.1,90.5 287.1,90.8 289.1,91.5 290.5,92.5 291.4,93.5 292,94.5 292.5,95.5 292.8,96.8 292.9,98 292.8,99.3 292.6,100.5 292.1,101.5 290.9,103 289.3,104 286.6,104.9 283.3,105.3ZM261.1,108.1 258.6,108.3 256.3,108.1 255,107.5 253.7,106.3 253.1,105.3 252.8,104.5 252.5,103 252.5,101.8 252.6,100.8 253,99.8 253.4,99 254.1,98.3 255.1,97.8 256.3,97.4 257.6,97.3 258.8,97.4 260.8,98 262.3,98.6 263.5,99.5 264.4,100.5 265.1,101.8 265.5,103 265.5,104.3 265.2,105.3 264.5,106.3 263.6,107 262.3,107.7 261.1,108.1Z" fill="#fefefe" fill-rule="evenodd"/><path d="M281.3,105.1 278.8,105 276.5,104.5 274.5,103.8 272.8,102.5 272.3,101.8 272,101 271.6,99.3 271.9,97.3 272.4,95.8 273.9,94.3 275.6,93.1 277.3,92.3 280.1,91.4 282.8,91 284.8,91 287.3,91.4 289.1,92.1 290.1,92.9 291.1,94 291.7,95 292.2,96.3 292.4,97.8 292.4,99 292.1,100.5 291.6,101.5 291,102.3 290.2,103 288.3,103.9 285.8,104.6 281.3,105.1ZM260.6,107.8 258.1,108 256.1,107.7 254.8,107 253.7,105.8 253.3,105 252.9,104 252.8,101.8 253,100.8 253.3,100 253.8,99.3 254.3,98.8 255.3,98.4 256.8,98 258.1,98 259.3,98.2 260.8,98.7 262.1,99.2 263.2,100 264,101 264.7,102.3 264.9,103.3 265,104.3 264.7,105.3 264.1,106.2 263.1,107 261.8,107.5 260.6,107.8Z" fill="#efefef" fill-rule="evenodd"/><path d="M282.1,104.6 279.6,104.6 277.8,104.3 275.5,103.5 274,102.5 273,101.3 272.6,99.8 272.6,98 273.2,96.3 274.3,95 276.1,93.6 277.6,92.9 280.1,92 282.8,91.6 284.6,91.6 287.1,91.9 288.6,92.5 289.6,93.2 290.4,94 291.1,95 291.6,96.1 291.9,97.5 292,98.5 291.8,99.8 291.3,101 290.8,101.8 290.1,102.5 288.6,103.3 285.8,104.2 282.1,104.6ZM260.1,107.6 257.8,107.6 256.3,107.4 255.1,106.7 253.9,105.5 253.2,104 253.1,102 253.6,100.6 254.1,99.9 254.6,99.5 255.6,99 256.8,98.7 258.1,98.7 259.3,98.9 260.8,99.3 261.8,99.8 262.8,100.5 263.5,101.3 264.1,102.3 264.4,103.3 264.4,104.3 264.1,105.3 263.5,106 262.5,106.8 261.3,107.3 260.1,107.6Z" fill="#d4d4d4" fill-rule="evenodd"/><path d="M284.1,104.1 281.3,104.2 278.6,104.1 276.2,103.3 274.8,102.5 273.8,101.3 273.4,100.5 273.2,99.5 273.2,98.5 273.4,97.5 273.6,96.8 274.1,96 275.4,94.8 276.9,93.8 279.3,92.8 280.8,92.4 283.3,92 285.1,92.1 287.3,92.5 288.3,92.9 289.1,93.4 289.8,94.1 290.6,95 291.3,96.8 291.6,98.5 291.5,99.5 291.2,100.5 290.3,101.8 288.9,102.8 286.3,103.7 284.1,104.1ZM259.8,107.3 257.8,107.3 256.3,107.1 255.1,106.4 254.1,105.3 253.5,104 253.4,102.3 253.8,101 254.8,100 255.8,99.5 257.1,99.2 258.3,99.2 259.6,99.4 260.8,99.7 261.8,100.2 262.6,100.8 263.3,101.7 263.9,102.8 264.1,103.5 264,104.5 263.7,105.3 263.1,106 262.1,106.7 261.1,107.1 259.8,107.3Z" fill="#b1b1b1" fill-rule="evenodd"/><path d="M283.3,103.8 281.3,103.9 278.6,103.6 276.9,103 275.6,102.3 274.6,101.4 274,100.3 273.8,98.8 274.2,97.3 275,96 276.6,94.7 277.8,94 280.1,93.1 284.1,92.5 286.1,92.7 287.6,93.1 288.6,93.6 289.3,94.2 290,95 290.6,96 291,97.3 291.2,98.3 291.1,99.3 290.8,100.3 290,101.5 288.6,102.5 285.8,103.5 283.3,103.8ZM259.6,107.1 257.6,107.1 256.3,106.8 255.3,106.3 254.3,105.2 253.8,104 253.7,102.5 254.2,101.3 255.1,100.4 256.1,99.9 257.1,99.7 258.1,99.6 259.3,99.8 260.6,100.1 261.6,100.6 262.3,101.1 263.1,102 263.6,103 263.7,103.8 263.6,104.5 263.3,105.3 262.6,106 261.7,106.5 260.8,106.9 259.6,107.1Z" fill="#878787" fill-rule="evenodd"/><path d="M282.8,103.6 281.2,103.5 278.6,103.2 277.1,102.7 275.8,102 275,101 274.5,99.8 274.4,98.5 274.8,97.2 275.7,96 277.2,94.8 279.2,93.8 280.6,93.3 283.1,92.9 284.6,92.9 286.6,93.2 288.1,93.7 288.9,94.3 289.5,95 290.6,97 290.8,98 290.8,98.8 290.6,99.8 290.3,100.5 289.3,101.7 288.1,102.4 285.6,103.2 282.8,103.6ZM259.8,106.8 257.8,106.9 256.6,106.7 255.6,106.2 254.6,105.3 254.1,104.3 253.9,103 254.2,101.8 255.1,100.9 255.8,100.4 256.8,100.1 258.8,100 260.1,100.2 261.1,100.6 261.8,101.1 262.5,101.8 263.1,102.8 263.4,103.5 263.4,104.3 263.1,105 262.6,105.7 261.7,106.3 260.8,106.6 259.8,106.8Z" fill="#5d5d5d" fill-rule="evenodd"/><path d="M282.6,103.3 281.3,103.3 278.6,102.9 277.1,102.3 276.1,101.6 275.3,100.7 274.9,99.5 274.9,98.3 275.3,97.3 276.1,96.3 277.6,95 279.6,94 280.8,93.7 283.1,93.3 284.6,93.2 286.6,93.5 288.1,94.2 289.3,95.3 289.9,96.3 290.3,97.3 290.5,98.8 290.3,99.8 290.1,100.4 289.1,101.5 287.8,102.2 285.6,103 282.6,103.3ZM260.3,106.6 258.6,106.7 257.1,106.6 256.1,106.3 255.3,105.8 254.5,104.8 254.1,103.5 254.2,102.5 254.8,101.5 255.6,100.9 256.3,100.5 258.3,100.2 260.3,100.6 261.3,101 261.9,101.5 262.6,102.3 263,103 263.2,103.8 263.1,104.5 262.6,105.3 262.1,105.8 261.2,106.3 260.3,106.6Z" fill="#363636" fill-rule="evenodd"/><path d="M284.8,102.8 282.8,103 281.3,103 278.8,102.5 277.1,101.8 276.2,101 275.6,100 275.4,98.8 275.8,97.5 276.6,96.5 277.8,95.5 279.5,94.5 280.8,94.1 283.1,93.7 284.6,93.6 286.3,93.9 287.8,94.5 289,95.5 289.8,97 290.1,98.5 289.9,99.8 289.3,100.8 288.3,101.6 286.1,102.5 284.8,102.8ZM260.3,106.4 258.8,106.5 257.3,106.5 256.3,106.2 255.6,105.8 254.7,104.8 254.3,103.8 254.4,102.8 254.9,101.8 256.1,100.9 257.1,100.6 258.1,100.4 259.1,100.5 260.1,100.8 261.6,101.6 262.6,102.8 262.8,103.5 262.8,104.3 262.6,104.9 262,105.5 261.2,106 260.3,106.4Z" fill="#fefefe" fill-rule="evenodd"/><path d="M284.3,102.3 282.8,102.5 281.6,102.4 279.3,101.8 278.1,101.2 277.3,100.5 276.8,99.5 276.8,98.5 277.3,97.5 278.1,96.6 278.8,96 280.3,95.2 281.6,94.7 283.1,94.5 284.6,94.5 286.1,94.8 287.3,95.3 288.3,96.3 288.9,97.5 289.1,98.8 288.9,99.8 288.3,100.6 287.3,101.3 285.6,102 284.3,102.3ZM259.8,106.1 258.6,106.2 257.3,106.2 256.3,105.9 255.6,105.3 255,104.5 254.7,103.5 254.8,102.8 255.3,102 256.6,101.2 258.3,100.9 260.1,101.2 261.3,102 262.1,103 262.3,103.8 262.2,104.3 262,104.8 261.3,105.5 260.6,105.9 259.8,106.1Z" fill="#efefef" fill-rule="evenodd"/><path d="M284.3,101.6 283.1,101.7 282.1,101.6 281.1,101.3 279.7,100.5 279.1,100 278.7,99.3 278.7,98.5 279,97.8 279.7,97 280.8,96.3 281.6,95.9 282.6,95.7 283.8,95.5 284.8,95.6 285.8,96 286.6,96.4 287.2,97 287.6,97.8 287.7,98.5 287.6,99.3 287.1,100 286.3,100.7 285.3,101.3 284.3,101.6ZM259.1,105.8 258.1,105.9 257.1,105.8 256.3,105.5 255.8,105 255.3,104.3 255.1,103.5 255.3,102.8 255.9,102 257.1,101.4 258.6,101.3 260.1,101.8 261,102.5 261.5,103.5 261.5,104 261.3,104.5 260.6,105.3 259.1,105.8Z" fill="#d4d4d4" fill-rule="evenodd"/><path d="M283.8,101.1 282.8,101.1 281.8,100.8 280.8,100 280.2,99.3 280.1,98.8 280.3,98 281,97.3 281.8,96.8 283.1,96.4 284.6,96.5 285.7,97 286.3,97.8 286.5,98.8 286,99.8 285.1,100.6 283.8,101.1ZM258.6,105.6 257.6,105.6 256.8,105.4 256.2,105 255.8,104.5 255.5,103.8 255.6,103 255.9,102.5 256.6,102 257.8,101.6 259.1,101.8 260.1,102.3 260.8,103 260.9,103.8 260.6,104.7 259.7,105.3 258.6,105.6Z" fill="#b1b1b1" fill-rule="evenodd"/><path d="M284.1,100.3 283.3,100.5 282.8,100.4 281.9,99.8 281.6,99.3 281.5,98.8 281.6,98.3 282,97.8 282.8,97.4 283.6,97.3 284.6,97.5 285.1,98 285.3,98.5 285.2,99.3 284.8,99.8 284.1,100.3ZM258.1,105.3 257.1,105.2 256.4,104.8 256.1,104.3 255.9,103.5 256.1,103 256.6,102.4 257.3,102.1 258.1,102 259.1,102.2 259.7,102.5 260.2,103 260.3,103.8 260.2,104.3 259.7,104.8 259.1,105.1 258.1,105.3Z" fill="#878787" fill-rule="evenodd"/><path d="M283.8,99.7 283.1,99.7 282.6,99.3 282.5,98.8 282.8,98.3 283.6,98.1 284,98.3 284.2,98.5 284.3,99.1 283.8,99.7ZM258.8,104.9 257.6,105 256.6,104.5 256.3,103.8 256.3,103.3 256.6,102.9 257.3,102.4 258.1,102.3 258.8,102.4 259.4,102.8 259.8,103.3 259.8,104 259.4,104.5 258.8,104.9Z" fill="#5d5d5d" fill-rule="evenodd"/><path d="M258.6,104.6 257.6,104.7 256.9,104.3 256.6,103.5 256.9,103 257.3,102.8 258.1,102.6 258.8,102.8 259.1,103 259.4,103.5 259.3,104 259.1,104.3 258.6,104.6Z" fill="#363636" fill-rule="evenodd"/><path d="M258.6,104.1 258.1,104.3 257.6,104.2 257.3,104 257.2,103.5 257.6,103.2 258.3,103.2 258.7,103.5 258.6,104.1Z" fill="#e8e8e8" fill-rule="evenodd"/></g><ellipse cx="258.5" cy="93" rx="3.5" ry="4" fill="url(#spot)" opacity="0.3"/><ellipse cx="283.4" cy="99.3" rx="6" ry="3.5" fill="url(#spot)" opacity="0.55"/><path d="M248.7,68.5 249.3,67.4 250.1,66.3 250.9,65.4 252,64.5 253.1,63.7 254.4,63.1 255.8,62.5 257.3,62.1 258.9,61.8 260.3,61.6 261.7,61.6 262.9,61.6 264,61.7 265,62 265.8,62.5 266.5,63.2 267,64 267.4,64.9 267.6,65.9 267.7,67 267.7,68.1 267.6,69.1 267.4,70.2 267.1,71.1 266.8,72 266.5,72.9 266.2,73.8 266,74.6 265.8,75.5 265.8,76.2 265.8,77 266.1,77.7 266.4,78.3 266.9,78.8 267.5,79.2 268.2,79.5 269,79.6 270.1,79.7 271.4,79.7 272.8,79.7 274.4,79.7 275.9,79.6 277.4,79.6 278.9,79.6 280.3,79.6 281.7,79.6 283.2,79.6 284.7,79.7 286.2,79.7 287.7,79.8 289.1,80 290.4,80.1 291.6,80.3 292.9,80.9 294.1,81.6 295.4,82.6 296.6,83.9 297.8,85.2 298.8,86.6 299.8,88.1 300.7,89.6 301.5,91.1 302.2,92.7 302.9,94.2 303.5,95.7 304,97.1 304.5,98.3 304.8,99.3 305.1,100.3 305.1,101.3 304.9,102.4 304.5,103.5 303.8,104.8 303,105.9 302.1,107.1 301,108.2 299.7,109.2 298.3,110.2 296.7,111.1 295,112 293.1,112.7 291.3,113.3 289.6,113.7 287.9,113.9 286.2,114 284.3,114.1 282.3,114.1 280,114 277.6,113.9 275.4,113.9 273.3,113.9 271.4,113.9 269.6,114 267.6,114.1 265.5,114.3 263.3,114.5 261.1,114.7 258.9,114.8 256.9,114.8 255,114.8 253.2,114.6 251.7,114.3 250.4,113.8 249.3,113.1 248.5,112.3 247.7,111.1 247.1,109.6 246.7,107.8 246.4,105.7 246.1,103.6 246,101.5 245.9,99.2 245.9,96.9 246,94.7 246.1,92.4 246.3,90.1 246.5,87.8 246.7,85.5 246.9,83.1 247,80.6 247.1,78.2 247.3,76.1 247.4,74.4 247.5,73 247.6,71.9 247.9,70.8 248.2,69.6Z" fill="none" stroke="#111" stroke-width="1.8"/><path d="M252.3,93.7 252.6,92.1 252.8,90.6 253.2,89.2 253.5,88 254,86.9 254.4,86.1 254.9,85.7 255.4,85.5 255.9,85.6 256.4,85.8 256.9,86.1 257.5,86.6 258.1,87.2 258.8,87.9 259.6,88.9 260.4,90 261.3,91.2 262.2,92.1 263.1,92.7 264,93 264.9,93 265.8,93 266.6,92.8 267.4,92.5 268.2,92 269.2,91.5 270.4,90.9 271.7,90.2 273.1,89.5 274.7,88.8 276.6,88.3 278.6,87.9 280.7,87.6 282.8,87.5 284.7,87.4 286.6,87.5 288.4,87.7 290,88.1 291.3,88.6 292.4,89.4 293.3,90.4 294.1,91.5 294.7,92.8 295.3,94.2 295.7,95.8 295.9,97.3 295.9,98.8 295.8,100.4 295.4,101.8 294.9,103.1 294.1,104.2 293.2,105.2 292.1,105.9 290.5,106.5 288.7,107.1 286.5,107.5 284,107.8 281.5,108 279.1,108.1 276.6,108.2 274.2,108.2 271.8,108.3 269.5,108.5 267.3,108.7 265.2,109 263.3,109.3 261.4,109.6 259.8,109.9 258.3,110.2 256.9,110.3 255.7,110.3 254.7,110.1 253.8,109.7 253.1,109 252.6,108 252.2,106.6 252.1,105 251.9,103.4 251.9,101.8 251.9,100.2 251.9,98.5 252,96.9 252.2,95.3Z" fill="none" stroke="#1a1a1a" stroke-width="0.75"/><path d="M261.3,70.4 261.3,70.7 261.2,71 261.2,71.3 261,71.5 260.9,71.8 260.7,72 260.5,72.3 260.3,72.5 260,72.7 259.8,72.9 259.5,73.1 259.2,73.3 258.8,73.4 258.5,73.5 258.2,73.6 257.8,73.7 257.4,73.7 257.1,73.7 256.8,73.7 256.4,73.6 256.1,73.6 255.8,73.5 255.5,73.3 255.2,73.2 255,73 254.8,72.8 254.6,72.6 254.4,72.4 254.3,72.2 254.2,71.9 254.2,71.6 254.1,71.4 254.1,71.1 254.2,70.8 254.2,70.5 254.4,70.3 254.5,70 254.7,69.8 254.9,69.5 255.1,69.3 255.4,69.1 255.6,68.9 255.9,68.7 256.2,68.5 256.6,68.4 256.9,68.3 257.2,68.2 257.6,68.1 258,68.1 258.3,68.1 258.6,68.1 259,68.2 259.3,68.2 259.6,68.3 259.9,68.5 260.2,68.6 260.4,68.8 260.6,69 260.8,69.2 261,69.4 261.1,69.6 261.2,69.9 261.2,70.2Z" fill="none" stroke="#1a1a1a" stroke-width="0.75"/><path d="M253,98.8 254,98.1 255.2,97.7 256.7,97.5 258.3,97.6 260.1,98 261.6,98.5 262.9,99.3 263.8,100.2 264.5,101.3 265,102.3 265.2,103.4 265.2,104.5 265,105.5 264.4,106.4 263.5,107.1 262.2,107.7 260.7,108.1 259.2,108.3 257.8,108.3 256.3,108 255,107.4 253.9,106.6 253,105.4 252.4,104 252,102.4 252,101 252.4,99.8Z" fill="none" stroke="#1a1a1a" stroke-width="0.75"/><path d="M275,92.6 276.6,91.9 278.3,91.3 280.2,90.9 282.3,90.6 284.4,90.5 286.2,90.7 287.8,91.1 289.2,91.7 290.4,92.5 291.3,93.4 292.1,94.5 292.5,95.8 292.8,97.2 292.8,98.4 292.7,99.7 292.4,100.8 291.9,101.8 291.2,102.7 290.2,103.4 289,104 287.5,104.5 285.9,104.9 284,105.2 282,105.4 279.9,105.5 278,105.4 276.3,105.1 274.8,104.6 273.5,103.9 272.4,103.1 271.7,102.2 271.2,101.1 270.9,99.8 270.9,98.7 271,97.5 271.3,96.4 271.8,95.4 272.6,94.4 273.7,93.5Z" fill="none" stroke="#1a1a1a" stroke-width="0.75"/><path d="M259.4,70.7 259.4,70.8 259.3,71 259.2,71.1 259.1,71.3 259,71.4 258.8,71.5 258.6,71.6 258.5,71.8 258.2,71.8 258,71.9 257.8,72 257.6,72 257.4,72 257.1,72 256.9,72 256.8,72 256.6,71.9 256.4,71.8 256.3,71.7 256.2,71.6 256.1,71.5 256,71.4 256,71.2 256,71.1 256,71 256.1,70.8 256.2,70.7 256.3,70.5 256.4,70.4 256.6,70.3 256.8,70.2 256.9,70 257.2,70 257.4,69.9 257.6,69.8 257.8,69.8 258,69.8 258.3,69.8 258.5,69.8 258.6,69.8 258.8,69.9 259,70 259.1,70.1 259.2,70.2 259.3,70.3 259.4,70.4 259.4,70.6Z" fill="none" stroke="#1a1a1a" stroke-width="0.75"/><path d="M256.9,100.9 258.3,100.6 259.5,100.7 260.6,101 261.6,101.5 262.5,102.3 263,103 263.2,103.8 263.2,104.6 262.8,105.3 262.2,105.9 261.2,106.3 260,106.6 258.7,106.7 257.5,106.6 256.4,106.3 255.5,105.8 254.8,105.2 254.4,104.6 254.1,103.9 254.1,103.1 254.4,102.4 254.9,101.8 255.8,101.3Z" fill="none" stroke="#1a1a1a" stroke-width="0.75"/><path d="M277.8,95.1 279.2,94.4 280.7,93.9 282.2,93.5 283.9,93.4 285.5,93.5 286.9,93.7 288.1,94.3 289.1,95 289.8,96 290.3,96.9 290.5,97.9 290.5,99 290.3,100 289.8,100.9 289.1,101.6 288,102.2 286.7,102.6 285.4,102.9 283.9,103.1 282.3,103.2 280.6,103.2 279.2,103 277.9,102.6 276.9,102.1 276,101.5 275.4,100.8 275.1,99.9 275.1,98.9 275.3,97.9 275.8,96.9 276.7,96Z" fill="none" stroke="#1a1a1a" stroke-width="0.75"/><path d="M259.6,104.2 259.5,104.4 259.4,104.6 259.2,104.8 259,104.9 258.8,105 258.5,105.1 258.3,105.2 258,105.2 257.7,105.2 257.4,105.2 257.1,105.1 256.9,105 256.7,104.8 256.5,104.7 256.3,104.5 256.2,104.3 256.1,104.1 256.1,103.9 256.1,103.6 256.2,103.4 256.3,103.2 256.4,103 256.6,102.8 256.8,102.7 257,102.6 257.3,102.5 257.5,102.4 257.8,102.4 258.1,102.4 258.4,102.4 258.7,102.5 258.9,102.6 259.1,102.8 259.3,102.9 259.5,103.1 259.6,103.3 259.7,103.5 259.7,103.7 259.7,104Z" fill="none" stroke="#1a1a1a" stroke-width="0.75"/><path d="M352.9,72.2 353.8,71.6 354.8,71.2 355.9,71 357.1,71 358.4,71.2 359.7,71.2 360.8,71.2 361.9,71.1 362.9,71 363.8,71 364.6,71.2 365.3,71.6 366,72.1 366.5,72.8 366.8,73.7 367.1,74.8 367.3,76 367.4,77.3 367.5,78.8 367.5,80.3 367.5,82 367.8,83.4 368.1,84.7 368.7,85.9 369.4,86.9 370,88 370.7,89.1 371.4,90.3 372,91.5 372.6,92.7 373.1,94.1 373.5,95.5 373.8,97 374.1,98.5 374.4,99.9 374.7,101.3 375,102.6 375,103.8 374.9,105 374.6,106 374.2,107.1 373.7,108.3 373.2,109.7 372.7,111.2 372.1,112.9 371.6,114.4 371,115.8 370.4,117.1 369.7,118.2 368.9,119.3 367.9,120.3 366.8,121.2 365.7,122 364.4,122.6 363.2,123.1 361.8,123.4 360.5,123.5 359.1,123.5 357.8,123.4 356.4,123.1 355.1,122.8 353.9,122.2 352.7,121.4 351.6,120.3 350.7,119.1 349.8,117.8 349.1,116.4 348.5,114.8 348,113.1 347.6,111.3 347.2,109.4 346.8,107.5 346.5,105.5 346.2,103.5 346.1,101.7 346,100 346,98.3 346.1,96.7 346.3,95.2 346.6,93.8 347,92.5 347.4,91.1 347.8,89.8 348.3,88.5 348.8,87.2 349.2,85.8 349.6,84.5 350,83.1 350.3,81.8 350.4,80.6 350.5,79.4 350.4,78.3 350.3,77.4 350.3,76.5 350.4,75.7 350.7,74.9 351,74.2 351.5,73.6 352.1,72.9Z" fill="none" stroke="#222" stroke-opacity="0.3" stroke-width="3" stroke-linejoin="round" filter="url(#hb8)"/><path d="M362.1 69.4h.8M363.6 69.4h.8M366.6 69.4h.8M355.6 69.9h.8M357.1 69.9h.8M361.1 69.9h.8M359.6 70.4h.8M361.1 70.4h.8M362.1 70.4h.8M362.6 70.4h.8M364.6 70.4h.8M353.6 70.9h.8M354.6 70.9h.8M358.6 70.9h.8M362.1 70.9h.8M351.6 71.4h.8M352.6 71.4h.8M353.1 71.4h.8M354.1 71.4h.8M366.1 71.9h.8M367.1 72.9h.8M367.6 72.9h.8M349.6 73.4h.8M367.6 73.4h.8M350.6 73.9h.8M368.1 73.9h.8M367.6 74.4h.8M347.6 75.4h.8M349.1 76.4h.8M367.6 76.4h.8M368.6 76.4h.8M368.6 78.4h.8M349.6 78.9h.8M350.1 78.9h.8M349.6 79.9h.8M350.1 80.4h.8M368.1 80.4h.8M369.1 80.4h.8M349.1 81.9h.8M350.1 81.9h.8M369.6 82.4h.8M349.6 82.9h.8M368.1 82.9h.8M349.1 83.4h.8M346.1 83.9h.8M349.6 83.9h.8M368.1 83.9h.8M348.1 84.4h.8M368.6 85.4h.8M348.1 85.9h.8M369.1 85.9h.8M370.6 85.9h.8M347.6 86.4h.8M348.6 86.9h.8M348.1 87.4h.8M348.6 87.4h.8M370.1 87.4h.8M345.1 88.4h.8M371.1 88.4h.8M371.6 88.4h.8M371.1 88.9h.8M371.6 88.9h.8M375.6 89.4h.8M372.6 90.9h.8M372.6 91.9h.8M374.1 92.4h.8M346.6 92.9h.8M373.1 92.9h.8M375.1 92.9h.8M378.1 92.9h.8M345.1 94.4h.8M346.1 94.4h.8M374.6 94.4h.8M345.1 94.9h.8M374.1 94.9h.8M345.6 96.4h.8M375.6 96.4h.8M375.6 97.4h.8M374.6 97.9h.8M376.6 97.9h.8M375.1 98.4h.8M374.6 98.9h.8M375.1 98.9h.8M376.1 99.9h.8M345.6 100.4h.8M375.1 100.4h.8M376.1 100.4h.8M375.6 100.9h.8M343.6 101.4h.8M345.6 101.4h.8M346.1 103.4h.8M345.1 103.9h.8M375.6 104.4h.8M375.1 104.9h.8M344.1 105.4h.8M346.1 105.4h.8M375.1 105.9h.8M376.1 105.9h.8M345.1 106.4h.8M375.1 106.9h.8M376.6 107.4h.8M374.1 108.4h.8M373.6 108.9h.8M346.6 109.4h.8M347.1 110.9h.8M347.1 111.4h.8M375.1 111.4h.8M376.6 111.9h.8M346.6 112.4h.8M373.1 112.9h.8M374.1 112.9h.8M347.6 113.9h.8M348.1 114.9h.8M371.6 114.9h.8M347.6 115.4h.8M373.1 115.4h.8M348.6 115.9h.8M372.1 116.4h.8M349.1 117.4h.8M370.6 117.4h.8M370.1 117.9h.8M370.6 117.9h.8M349.1 118.9h.8M369.6 118.9h.8M371.6 118.9h.8M350.6 119.4h.8M371.1 119.4h.8M350.6 119.9h.8M369.1 119.9h.8M370.1 119.9h.8M368.6 120.4h.8M367.6 120.9h.8M351.1 121.4h.8M367.6 121.4h.8M370.1 121.4h.8M352.1 121.9h.8M366.1 121.9h.8M366.6 121.9h.8M352.1 122.4h.8M366.6 122.4h.8M367.1 122.4h.8M370.1 122.4h.8M364.6 122.9h.8M366.6 122.9h.8M369.6 122.9h.8M356.6 123.4h.8M357.1 123.4h.8M364.1 123.4h.8M357.1 123.9h.8M361.6 123.9h.8M362.1 124.4h.8M354.1 124.9h.8M358.6 124.9h.8M363.6 124.9h.8M356.6 125.9h.8" stroke="#222" stroke-width=".8" fill="none"/><path d="M351.6 62.9h.8M357.6 70.9h.8M353.6 62.5h.8M358.6 66.1h.8M372.6 66.7h.8M361.1 63.7h.8M346.7 63.7h.8M347.9 71.3h.8M369.7 59.3h.8M344.5 69.8h.8M358.2 63.1h.8M356.1 64.7h.8M354.4 62.4h.8M362.8 70h.8M372.1 64.2h.8M356.3 66.4h.8M344.6 70.8h.8M354.4 71.6h.8M367.4 68.1h.8M343.3 68.9h.8M359.4 65.2h.8M352.3 70.1h.8M353.5 75.3h.8M355.9 73.1h.8M349.5 65.6h.8" stroke="#999" stroke-width=".8" fill="none"/><path d="M373 90.1h.8M372.9 109.6h.8M372.1 100.1h.8M375.1 109.8h.8M370.2 80.9h.8M368.3 92.1h.8M376.9 111.1h.8M370.7 82.9h.8M371.5 112.1h.8M375.1 91.9h.8M372.1 111.6h.8M373.1 96.7h.8M374.9 107h.8M372.5 98h.8M371 101.5h.8M369.9 95.8h.8M371.3 98.4h.8M367.1 79.1h.8M373 111h.8M369.3 92.7h.8M371.1 101.6h.8M378.1 101.9h.8M371.1 116.5h.8M371.1 109.6h.8M373 113.5h.8M372.9 94.9h.8M371.5 101h.8M374.9 81.9h.8M380.6 103.6h.8M366.2 101.2h.8" stroke="#888" stroke-width=".8" fill="none"/><g><path d="M359.1,122.7 357.9,122.6 356.1,122.2 353.6,121.2 352.6,120.4 351.9,119.6 350.6,117.9 349.9,116.6 349.1,115 348.6,113.5 347.2,107.4 346.6,102.4 346.6,97.4 346.9,95.7 347.6,92.7 348.6,89.3 350.2,85.2 351.2,81.7 351.5,79.7 351.4,76.7 351.7,75.7 352.1,74.8 352.8,73.9 353.9,73 354.6,72.5 355.4,72.3 356.6,72.1 359.4,72.2 363.1,72.1 364.1,72.4 364.9,72.9 365.4,73.4 365.9,74.4 366.3,77.2 366.7,81.9 367,83.7 367.9,85.9 370.9,90.7 372.1,93.4 373.3,98.2 374.1,101.8 374.2,104.2 373.9,106.1 371.4,113.2 369.9,116.4 368.2,118.9 366.6,120.4 365.2,121.4 364.2,121.9 361.9,122.5 359.1,122.7Z" fill="#f2f2f2" fill-rule="evenodd"/><path d="M360.6,122.2 357.6,122.1 356.1,121.8 354.6,121.2 352.9,120.2 351.1,118 349.6,115.4 348.9,113.3 347.6,107.9 347,103.4 346.9,98.4 347.4,95 348.6,90.5 350.7,85.2 352,81.4 352.9,76.8 353.4,75.8 354.4,74.8 355.4,74.2 356.6,73.9 362.6,74.1 363.6,74.4 364.2,75.2 365.1,77.7 366,82.2 366.7,84.4 367.7,86.4 370.6,91.1 371.7,93.7 372.9,97.9 373.7,102.7 373.7,104.4 373.4,106.2 371.1,112.7 369.9,115.6 368.9,117.2 367.4,119.2 365,120.9 363.1,121.8 360.6,122.2Z" fill="#cfcfcf" fill-rule="evenodd"/><path d="M360.6,121.4 357.6,121.4 356.4,121.1 354.9,120.7 353.4,119.7 351.4,117.6 349.8,114.9 348.9,112 347.9,107.4 347.3,103.2 347.3,98.9 347.6,96.3 348.4,93 349.9,88.6 352.1,84.2 355.9,78 356.4,77.5 356.9,77.2 358.1,76.9 360.6,77.1 361.3,77.4 361.9,77.9 362.9,79.5 366,85.2 368.4,88.7 369.6,90.7 370.8,93.4 371.4,95 372.3,98.9 373,102.9 372.9,104.4 372.7,105.7 370.9,111.6 369.6,114.5 368.6,116.3 366.9,118.4 364.9,120 362.9,121 360.6,121.4Z" fill="#ababab" fill-rule="evenodd"/><path d="M360.6,120.7 357.9,120.7 356.4,120.4 355.1,120 354.1,119.5 353.4,119 352.1,117.8 351.4,116.9 350.1,114.7 349.1,111.8 348.2,107.4 347.7,102.9 347.7,98.9 348.1,96 348.9,92.7 350.6,88.4 352.4,85.5 354.4,83 357.6,80.1 358.4,79.6 358.9,79.5 359.4,79.6 360.1,80 362.6,82.5 367.6,88.7 368.9,90.7 370.2,93.7 370.9,95.8 371.7,99.4 372.2,103.2 372,105.7 370.4,111.2 369.4,113.5 368.2,115.7 366.6,117.7 364.6,119.2 362.6,120.2 360.6,120.7Z" fill="#8a8a8a" fill-rule="evenodd"/><path d="M360.6,119.9 358.1,120 355.6,119.5 353.9,118.6 352.6,117.5 351.9,116.7 350.4,114.4 349.4,111.4 348.5,107.4 348,103.4 348.2,99.2 348.5,96.4 349.5,92.7 350.9,89.2 352.4,86.8 354.1,84.9 356.1,83.5 357.6,82.7 358.6,82.4 359.4,82.5 360.1,82.8 361.4,83.5 362.6,84.5 364.9,86.6 367.6,89.9 368.7,91.9 369.9,94.9 370.9,99.4 371.4,102.9 371.3,105.2 370.5,108.7 369.4,111.9 368,114.7 366.4,116.7 364.6,118.2 362.6,119.4 360.6,119.9Z" fill="#6c6c6c" fill-rule="evenodd"/><path d="M360.1,119.4 357.9,119.5 355.4,118.9 353.4,117.6 351.9,116 350.6,114 349.6,111.2 348.7,107.2 348.4,103.4 348.5,99.4 348.9,96.7 349.8,92.9 351.4,89.3 352.6,87.4 354.4,85.7 356.1,84.7 357.6,84.2 358.6,84 359.4,84.1 360.6,84.5 363.1,86 365.1,87.8 367.1,90.2 368.2,92.2 369.4,95.4 370.4,99.7 370.8,102.9 370.7,105.2 370,108.7 369,111.7 367.6,114.2 366.1,116.2 364.1,117.8 361.9,119 360.1,119.4Z" fill="#525252" fill-rule="evenodd"/><path d="M360.4,118.9 358.1,119 355.6,118.5 354.6,118 353.4,117.2 352.1,115.8 350.9,113.9 349.8,111.2 349,107.2 348.6,103.7 348.8,99.7 349.2,96.9 350.2,92.9 351.6,89.7 352.9,87.7 354.4,86.4 356.1,85.5 358.4,85 359.4,85.1 360.6,85.4 362.9,86.5 364.6,87.9 366.6,90.2 367.8,92.2 369,95.4 370,99.7 370.4,102.7 370.3,105.2 369.8,108.2 368.8,111.2 367.7,113.4 366.1,115.5 364.4,117.1 362.4,118.3 360.4,118.9Z" fill="#3c3c3c" fill-rule="evenodd"/><path d="M358.9,118.7 356.4,118.4 354.9,117.7 353.1,116.5 351.6,114.6 350.6,112.6 349.8,110.2 349.2,106.7 348.9,103.2 349.1,99.7 349.5,96.9 350.4,93.2 351.9,89.8 353.1,88 354.6,86.8 356.4,86 358.4,85.7 360.6,86 362.9,87.1 364.8,88.7 366.5,90.7 367.6,92.7 368.8,95.9 369.7,100.2 370,103.4 369.8,106.2 369.2,108.9 368.2,111.7 366.8,114.2 365.4,115.8 363.1,117.4 361.1,118.3 358.9,118.7Z" fill="#fbfbfb" fill-rule="evenodd"/><path d="M359.4,117.9 357.1,117.8 355.4,117.3 353.6,116.1 352.1,114.4 351.1,112.5 350.3,110.2 349.6,106.7 349.4,103.7 349.5,100.2 349.9,97.4 350.9,93.4 352.1,90.7 353.2,88.9 354.6,87.7 356.4,86.8 358.1,86.5 360.4,86.7 362.6,87.7 364.4,89.1 365.9,90.9 367.1,92.9 368.1,95.9 369.1,100.2 369.4,102.9 369.3,105.7 368.9,107.9 368,110.9 366.9,113 365.4,114.9 363.4,116.5 361.4,117.5 359.4,117.9Z" fill="#e3e3e3" fill-rule="evenodd"/><path d="M359.6,117.2 357.9,117.2 355.9,116.7 354.1,115.6 352.7,114.2 351.6,112.3 350.8,110.2 350.2,106.9 350,104.4 350.1,100.7 350.4,97.9 351.4,93.9 352.4,91.7 353.4,89.9 354.6,88.5 356.4,87.6 358.1,87.3 360.1,87.4 362.4,88.4 364.1,89.8 365.6,91.6 366.6,93.4 367.7,96.4 368.5,100.4 368.8,102.9 368.7,105.7 368.4,107.7 367.7,110.2 366.6,112.4 365.1,114.3 363.4,115.7 361.6,116.7 359.6,117.2Z" fill="#c2c2c2" fill-rule="evenodd"/><path d="M359.4,116.7 357.4,116.5 355.9,116.1 354.3,115.2 352.9,113.7 351.9,111.9 351.2,109.9 350.6,106.9 350.4,104.4 350.4,102.2 350.8,98.2 351.8,94.4 352.6,92.3 353.6,90.4 354.9,89 356.4,88.2 358.1,87.8 360.1,88 362.1,88.8 363.9,90.2 365.4,92.2 366.3,93.9 367.3,96.7 368.1,100.7 368.4,103.2 368.3,105.9 368,107.9 367.2,110.4 366.1,112.4 364.6,114.2 362.9,115.5 361.1,116.3 359.4,116.7Z" fill="#9e9e9e" fill-rule="evenodd"/><path d="M359.1,116.2 357.4,116 355.9,115.5 354.4,114.5 353.1,113.1 352.2,111.4 351.5,109.4 351,106.7 350.7,103.9 350.9,100.4 351.2,98.2 352.2,94.4 353,92.4 354.1,90.6 355.2,89.4 356.6,88.6 358.4,88.3 360.1,88.5 362.1,89.4 363.7,90.7 365.2,92.7 366.2,94.7 366.9,96.9 367.7,100.9 368,103.7 367.9,106.2 367.5,108.2 366.7,110.4 365.8,112.2 364.4,113.8 362.6,115.1 360.9,115.9 359.1,116.2Z" fill="#787878" fill-rule="evenodd"/><path d="M359.9,115.7 358.1,115.7 356.4,115.3 354.9,114.4 353.6,113.2 352.6,111.5 351.9,109.7 351.4,107.2 351.1,104.4 351.1,102.2 351.5,98.4 352.2,95.7 353.2,92.9 354.2,91.2 355.4,89.8 356.9,89 358.4,88.7 360.1,88.9 361.9,89.6 363.4,90.9 364.9,92.7 365.7,94.4 366.5,96.7 367.4,100.7 367.7,103.2 367.7,105.7 367.4,107.7 366.8,109.4 365.8,111.7 364.6,113.2 363.1,114.4 361.6,115.2 359.9,115.7Z" fill="#555555" fill-rule="evenodd"/><path d="M359.1,115.4 357.4,115.2 355.9,114.6 354.6,113.7 353.5,112.4 352.7,110.9 352.1,109.2 351.6,106.7 351.3,103.9 351.5,100.7 351.8,98.4 352.6,95.4 353.5,92.9 354.5,91.2 355.6,90 357.1,89.2 358.6,89 360.4,89.3 362.1,90.1 363.6,91.4 364.8,93.2 365.8,95.2 366.5,97.4 367.2,101.2 367.5,103.9 367.4,106.2 367,108.2 366.1,110.4 365.4,111.8 363.9,113.4 362.4,114.5 360.9,115.1 359.1,115.4Z" fill="#363636" fill-rule="evenodd"/><path d="M360.4,114.9 358.6,115.1 356.9,114.7 355.4,113.9 354.2,112.9 353.2,111.4 352.5,109.7 352,107.4 351.6,104.7 351.6,102.4 351.9,98.9 352.6,96.2 353.6,93.4 354.5,91.7 355.6,90.4 356.9,89.7 358.4,89.3 359.9,89.4 361.6,90.1 363.1,91.3 364.4,92.9 365.3,94.7 366,96.7 366.9,100.7 367.2,102.9 367.2,105.2 367,107.2 366.5,108.9 365.6,110.9 364.6,112.3 363.4,113.5 361.9,114.4 360.4,114.9Z" fill="#fbfbfb" fill-rule="evenodd"/><path d="M359.6,114.4 358.1,114.4 356.6,113.9 355.4,113.2 354.4,112.1 353.4,110.7 352.9,109.1 352.3,106.7 352,104.2 352.1,101.4 352.4,98.9 353,96.2 354,93.7 354.9,92 356.1,90.7 357.4,90 358.6,89.8 360.4,90 361.9,90.8 363.1,91.8 364.3,93.4 365.1,95.2 365.8,97.2 366.6,100.9 366.8,103.7 366.8,105.7 366.4,107.7 365.9,109.3 364.9,111.2 363.9,112.4 362.6,113.4 361.1,114.1 359.6,114.4Z" fill="#e3e3e3" fill-rule="evenodd"/><path d="M359.9,113.7 358.4,113.7 356.9,113.3 355.6,112.4 354.7,111.4 353.9,110.1 353.3,108.7 352.7,106.2 352.5,104.2 352.5,101.4 352.8,99.2 353.4,96.4 354.3,94.2 355.1,92.7 356.1,91.4 357.1,90.7 358.6,90.3 360.1,90.5 361.6,91.1 362.8,92.2 363.9,93.7 364.8,95.4 365.4,97.2 366.1,100.9 366.4,103.2 366.4,105.2 366.1,107.2 365.6,108.7 364.8,110.4 363.9,111.6 362.6,112.7 361.4,113.3 359.9,113.7Z" fill="#c2c2c2" fill-rule="evenodd"/><path d="M359.9,113.2 358.4,113.1 357.1,112.8 355.9,111.9 354.9,110.8 354.1,109.7 353.6,108.2 353,105.7 352.8,103.9 352.9,101.2 353.1,99.2 353.8,96.4 354.6,94.2 355.5,92.7 356.6,91.5 357.6,91 358.9,90.7 360.4,90.9 361.6,91.5 362.7,92.4 363.7,93.9 364.6,95.7 365.1,97.4 365.8,100.9 366.1,103.2 366,105.2 365.8,106.9 365.3,108.4 364.4,110.2 363.6,111.2 362.4,112.3 361.1,112.9 359.9,113.2Z" fill="#9e9e9e" fill-rule="evenodd"/><path d="M359.6,112.7 358.4,112.6 357.1,112.2 356.1,111.4 355,110.2 354.4,109.2 353.9,107.7 353.3,105.4 353.2,103.7 353.2,101.2 353.4,99.4 354.1,96.6 354.9,94.4 355.6,93.1 356.6,92 357.6,91.3 358.9,91.1 360.1,91.2 361.4,91.7 362.4,92.5 363.4,93.9 364.2,95.7 364.8,97.7 365.5,100.9 365.7,103.2 365.7,105.2 365.4,106.9 365,108.2 364.1,109.9 363.3,110.9 362.1,111.9 360.9,112.5 359.6,112.7Z" fill="#787878" fill-rule="evenodd"/><path d="M360.4,112.2 358.9,112.3 357.6,112 356.6,111.4 355.6,110.4 354.9,109.3 354.4,108.2 353.7,105.9 353.5,103.9 353.4,101.7 353.6,99.7 354.4,96.7 355.2,94.4 355.9,93.2 356.8,92.2 357.9,91.5 358.9,91.3 360.1,91.4 361.4,92 362.2,92.7 363.1,93.9 363.8,95.4 364.4,96.9 365.1,100.2 365.5,102.7 365.5,104.7 365.2,106.4 364.8,107.9 364.1,109.3 363.4,110.4 362.4,111.3 361.4,111.9 360.4,112.2Z" fill="#555555" fill-rule="evenodd"/><path d="M360.1,111.9 358.9,111.9 357.6,111.6 356.6,111 355.6,109.9 354.9,108.9 354.5,107.7 353.9,105.7 353.7,103.9 353.7,101.7 353.9,99.8 354.7,96.7 355.3,94.7 356,93.4 356.9,92.4 357.9,91.7 358.9,91.5 360.1,91.6 361.1,92.1 362.1,92.9 362.8,93.9 363.6,95.4 364.1,96.9 364.9,100.2 365.2,102.7 365.2,104.7 365,106.2 364.6,107.7 363.9,109.2 363.2,110.2 362.4,110.9 361.4,111.6 360.1,111.9Z" fill="#363636" fill-rule="evenodd"/><path d="M359.9,111.7 358.6,111.6 357.6,111.3 356.7,110.7 355.7,109.7 355.1,108.7 354.6,107.4 354.1,105.4 353.9,103.7 353.9,101.7 354.1,99.8 355.1,96.2 355.7,94.4 356.4,93.2 357.1,92.4 357.9,91.9 358.9,91.7 360.1,91.8 361.1,92.3 362.1,93.2 362.7,94.2 363.5,95.9 364.1,97.9 364.7,100.7 365,102.9 365,104.7 364.7,106.4 364.3,107.7 363.6,109.2 362.9,110.1 361.9,111 360.9,111.5 359.9,111.7Z" fill="#fbfbfb" fill-rule="evenodd"/><path d="M359.9,111.2 358.6,111.1 357.6,110.7 356.8,110.2 355.9,109.2 355.4,108.2 354.9,106.9 354.5,105.2 354.3,103.7 354.4,101.8 354.6,100.2 356.1,94.4 356.6,93.4 357.3,92.7 358.1,92.2 358.9,92 359.9,92.1 360.9,92.6 361.5,93.2 362.2,94.2 362.9,95.9 364.1,99.9 364.5,102.9 364.5,104.7 364.3,106.2 363.9,107.4 363.3,108.7 362.6,109.7 361.9,110.4 360.9,110.9 359.9,111.2Z" fill="#e3e3e3" fill-rule="evenodd"/><path d="M360.6,110.4 359.6,110.6 358.6,110.6 357.6,110.2 356.9,109.5 356.2,108.7 355.7,107.7 355.2,106.2 354.9,104.4 354.9,102.7 355,101.2 355.3,99.9 356.1,97.7 356.3,95.4 356.6,94.4 356.9,93.7 357.6,92.9 358.1,92.6 358.9,92.4 359.9,92.5 360.6,92.9 361.1,93.4 361.6,94.2 362.3,97.2 363.5,100.4 363.9,102.7 363.8,105.4 363.2,107.7 362.1,109.4 361.4,110.1 360.6,110.4Z" fill="#c2c2c2" fill-rule="evenodd"/><path d="M360.1,110.2 359.1,110.2 358.4,110.1 357.6,109.7 356.9,109 356.3,108.2 355.9,107.2 355.3,104.4 355.3,102.7 355.5,101.2 355.9,99.9 356.9,97.7 356.7,95.7 356.9,94.4 357.3,93.7 357.7,93.2 358.4,92.8 358.9,92.7 359.6,92.8 360.1,93 360.6,93.4 361.1,94.2 361.3,95.2 361.5,97.2 363,100.4 363.5,102.9 363.4,105.7 362.8,107.7 362.2,108.7 361.6,109.3 360.9,109.9 360.1,110.2Z" fill="#9e9e9e" fill-rule="evenodd"/><path d="M360.1,109.7 359.4,109.8 358.4,109.7 357.6,109.2 357.1,108.7 356.6,107.9 356.2,106.9 355.7,104.4 355.7,102.4 356.1,100.9 356.6,99.7 357.9,97.7 357.8,97.2 357.2,95.7 357.3,94.4 357.9,93.4 358.9,93 359.4,93 359.9,93.3 360.6,94.2 360.7,95.2 360.4,96.9 360.5,97.4 361.7,99.2 362.4,100.3 362.9,101.8 363.1,103.2 362.9,105.7 362.4,107.4 361.4,108.9 360.8,109.4 360.1,109.7Z" fill="#787878" fill-rule="evenodd"/><path d="M359.4,96.6 358.9,96.6 358.4,96.4 357.9,95.9 357.7,95.4 357.6,94.7 357.8,94.2 358.1,93.7 358.6,93.4 359.1,93.3 359.6,93.5 360,93.9 360.2,94.4 360.2,95.2 360.1,95.7 359.9,96.1 359.4,96.6ZM359.9,109.4 359.1,109.5 358.4,109.3 357.3,108.4 356.8,107.7 356.4,106.4 356,104.2 356.2,101.9 356.8,100.2 357.4,99.4 358.1,98.7 358.9,98.2 359.4,98.1 359.9,98.2 360.6,98.7 361.6,99.9 362.4,101.7 362.7,103.4 362.6,105.7 362.1,107.3 361.1,108.7 360.5,109.2 359.9,109.4Z" fill="#555555" fill-rule="evenodd"/><path d="M359.1,95.8 358.6,95.7 358.4,95.6 358,94.9 358.2,94.2 358.9,93.7 359.4,93.9 359.7,94.7 359.6,95.3 359.1,95.8ZM360.1,109 359.4,109.1 358.9,109.1 358.1,108.8 357.6,108.3 357.1,107.6 356.7,106.7 356.3,104.7 356.3,102.7 356.9,100.9 357.9,99.5 358.6,99 359.1,98.8 360.1,99 361.1,99.8 362,101.4 362.4,103.2 362.4,105.2 362,106.7 361.2,108.2 360.1,109Z" fill="#363636" fill-rule="evenodd"/><path d="M359.9,108.7 359.4,108.8 358.6,108.7 357.7,107.9 356.9,106.2 356.5,104.4 356.7,102.4 357.2,100.9 358.1,99.8 358.6,99.5 359.4,99.3 360.4,99.7 361.1,100.5 361.9,101.9 362.2,103.4 362.1,105.2 361.7,106.7 360.9,108 359.9,108.7Z" fill="#fbfbfb" fill-rule="evenodd"/><path d="M359.4,107.9 358.5,107.7 357.7,106.7 357.2,105.4 357,103.9 357.1,102.7 357.6,101.4 358.4,100.6 358.9,100.3 359.4,100.2 360.1,100.5 361,101.4 361.5,102.7 361.7,103.9 361.6,105.2 361.1,106.5 360.4,107.4 359.9,107.8 359.4,107.9Z" fill="#e3e3e3" fill-rule="evenodd"/><path d="M359.9,106.5 359.1,106.6 358.6,106.3 357.9,105.4 357.6,104.4 357.6,103.4 357.9,102.4 358.4,101.7 359.1,101.2 359.9,101.4 360.4,101.7 360.9,102.5 361.1,103.4 361.1,104.4 360.9,105.3 360.4,106.1 359.9,106.5Z" fill="#c2c2c2" fill-rule="evenodd"/><path d="M359.9,105.5 359.4,105.6 358.9,105.5 358.4,105 358.1,104.4 358,103.7 358.2,102.9 358.6,102.3 359.1,102 359.6,102 360.1,102.3 360.5,102.9 360.6,103.4 360.5,104.7 359.9,105.5Z" fill="#9e9e9e" fill-rule="evenodd"/><path d="M359.6,104.6 359.1,104.6 358.9,104.4 358.7,103.9 358.7,103.4 359.1,102.9 359.6,102.9 360,103.4 360,104.2 359.6,104.6Z" fill="#787878" fill-rule="evenodd"/></g><ellipse cx="360.1" cy="81.5" rx="5" ry="4" fill="url(#spot)" opacity="0.55"/><ellipse cx="356.1" cy="76.1" rx="4" ry="3" fill="url(#spot)" opacity="0.45"/><ellipse cx="360.1" cy="107" rx="3" ry="4" fill="url(#spot)" opacity="0.4"/><path d="M352.9,72.2 353.8,71.6 354.8,71.2 355.9,71 357.1,71 358.4,71.2 359.7,71.2 360.8,71.2 361.9,71.1 362.9,71 363.8,71 364.6,71.2 365.3,71.6 366,72.1 366.5,72.8 366.8,73.7 367.1,74.8 367.3,76 367.4,77.3 367.5,78.8 367.5,80.3 367.5,82 367.8,83.4 368.1,84.7 368.7,85.9 369.4,86.9 370,88 370.7,89.1 371.4,90.3 372,91.5 372.6,92.7 373.1,94.1 373.5,95.5 373.8,97 374.1,98.5 374.4,99.9 374.7,101.3 375,102.6 375,103.8 374.9,105 374.6,106 374.2,107.1 373.7,108.3 373.2,109.7 372.7,111.2 372.1,112.9 371.6,114.4 371,115.8 370.4,117.1 369.7,118.2 368.9,119.3 367.9,120.3 366.8,121.2 365.7,122 364.4,122.6 363.2,123.1 361.8,123.4 360.5,123.5 359.1,123.5 357.8,123.4 356.4,123.1 355.1,122.8 353.9,122.2 352.7,121.4 351.6,120.3 350.7,119.1 349.8,117.8 349.1,116.4 348.5,114.8 348,113.1 347.6,111.3 347.2,109.4 346.8,107.5 346.5,105.5 346.2,103.5 346.1,101.7 346,100 346,98.3 346.1,96.7 346.3,95.2 346.6,93.8 347,92.5 347.4,91.1 347.8,89.8 348.3,88.5 348.8,87.2 349.2,85.8 349.6,84.5 350,83.1 350.3,81.8 350.4,80.6 350.5,79.4 350.4,78.3 350.3,77.4 350.3,76.5 350.4,75.7 350.7,74.9 351,74.2 351.5,73.6 352.1,72.9Z" fill="none" stroke="#111" stroke-width="1.8"/><path d="M356.3,86.2 358,86 359.6,86.1 361.2,86.5 362.8,87.2 364.2,88.3 365.5,89.5 366.5,90.9 367.4,92.4 368,94.1 368.6,95.9 369.1,97.8 369.5,99.7 369.7,101.8 369.8,103.8 369.7,105.8 369.3,107.8 368.8,109.8 368.1,111.6 367.2,113.2 366.1,114.7 364.9,115.9 363.7,117 362.3,117.8 360.8,118.3 359.3,118.5 357.9,118.5 356.4,118.3 355.1,117.8 353.8,117.1 352.7,116.1 351.7,114.9 350.9,113.4 350.3,111.7 349.8,109.9 349.4,108 349.1,106.1 349,104.1 348.9,102.1 349.1,100.1 349.3,98.1 349.7,96.1 350.2,94.1 350.8,92.3 351.5,90.6 352.4,89 353.5,87.7 354.8,86.8Z" fill="none" stroke="#1a1a1a" stroke-width="0.75"/><path d="M357.1,89.6 358.4,89.3 359.7,89.4 361,89.8 362.2,90.6 363.3,91.7 364.3,92.9 365,94.4 365.7,96.1 366.2,97.9 366.6,99.7 366.9,101.5 367.1,103.2 367.2,104.9 367.1,106.6 366.7,108.3 366.1,109.9 365.2,111.5 364.2,112.8 363.1,113.9 361.8,114.6 360.5,115 359.1,115.1 357.8,115 356.4,114.5 355.1,113.8 354.1,112.7 353.2,111.4 352.5,109.8 352.1,107.9 351.8,106 351.7,104.1 351.7,102.1 351.9,100.1 352.2,98.2 352.7,96.2 353.3,94.4 354,92.6 354.9,91.2 355.9,90.2Z" fill="none" stroke="#1a1a1a" stroke-width="0.75"/><path d="M358.9,91.9 360,91.8 361,92 361.9,92.6 362.7,93.6 363.3,94.8 363.9,96.2 364.4,97.9 364.8,99.7 365,101.7 365.1,103.6 365,105.3 364.6,106.9 364.1,108.4 363.4,109.5 362.5,110.5 361.4,111.2 360.3,111.6 359.2,111.7 358.1,111.4 357.1,110.9 356.1,110 355.3,108.8 354.7,107.4 354.2,105.8 353.9,103.9 353.7,102.2 353.8,100.7 354,99.2 354.4,97.9 354.8,96.7 355.2,95.5 355.7,94.5 356.2,93.5 356.9,92.8 357.8,92.2Z" fill="none" stroke="#1a1a1a" stroke-width="0.75"/><path d="M362.2,105.2 362.1,105.7 362,106.1 361.9,106.6 361.8,107 361.6,107.4 361.4,107.8 361.2,108.2 361,108.5 360.7,108.7 360.5,109 360.2,109.1 359.9,109.3 359.7,109.4 359.4,109.4 359.1,109.4 358.8,109.3 358.5,109.2 358.2,109.1 358,108.9 357.7,108.6 357.5,108.3 357.3,108 357.1,107.6 356.9,107.2 356.7,106.8 356.6,106.4 356.5,105.9 356.4,105.4 356.4,104.9 356.4,104.4 356.4,103.9 356.4,103.4 356.5,102.9 356.6,102.5 356.7,102 356.8,101.6 357,101.2 357.2,100.8 357.4,100.4 357.6,100.1 357.9,99.9 358.1,99.6 358.4,99.5 358.7,99.3 358.9,99.2 359.2,99.2 359.5,99.2 359.8,99.3 360.1,99.4 360.4,99.5 360.6,99.7 360.9,100 361.1,100.3 361.3,100.6 361.5,101 361.7,101.4 361.9,101.8 362,102.2 362.1,102.7 362.2,103.2 362.2,103.7 362.2,104.2 362.2,104.7Z" fill="none" stroke="#1a1a1a" stroke-width="0.75"/><path d="M360,94.9 359.9,95.1 359.8,95.3 359.7,95.5 359.6,95.7 359.4,95.8 359.2,95.9 359,96 358.9,96 358.7,96 358.5,96 358.3,95.9 358.1,95.8 358,95.6 357.8,95.4 357.7,95.2 357.6,95 357.6,94.8 357.6,94.6 357.6,94.3 357.6,94.1 357.7,93.9 357.8,93.7 357.9,93.5 358,93.3 358.2,93.2 358.4,93.1 358.6,93 358.7,93 358.9,93 359.1,93 359.3,93.1 359.5,93.2 359.6,93.4 359.8,93.6 359.9,93.8 360,94 360,94.2 360,94.4 360,94.7Z" fill="none" stroke="#1a1a1a" stroke-width="0.75"/><path d="M448.1,68.9 449.4,68.6 450.6,68.5 451.7,68.4 452.9,68.5 454,68.6 454.9,68.9 455.8,69.2 456.5,69.5 457.1,70 457.6,70.5 458.1,71 458.4,71.6 458.7,72.3 458.9,73.1 459,74 459,75.1 458.9,76.4 458.8,77.7 458.6,79.1 458.2,80.5 457.9,82 457.4,83.5 457,85 456.5,86.5 456,88 455.5,89.5 454.9,91 454.3,92.5 453.7,94 453.1,95.3 452.5,96.5 452,97.6 451.5,98.6 451,99.4 450.5,100.1 450,100.7 449.5,101.2 449.1,101.6 448.7,101.9 448.3,102.2 447.9,102.4 447.5,102.5 447.1,102.3 446.6,101.9 446.1,101.4 445.6,100.6 445.1,99.5 444.6,98.2 444.1,96.7 443.6,95.2 443.1,93.5 442.6,91.8 442.1,90.1 441.7,88.4 441.4,86.8 441.1,85.3 440.8,83.8 440.7,82.3 440.7,80.8 440.7,79.3 440.9,77.8 441.1,76.5 441.4,75.3 441.9,74.2 442.4,73.2 443,72.4 443.6,71.6 444.3,70.9 445.1,70.3 446,69.8 447,69.3Z" fill="none" stroke="#222" stroke-opacity="0.4" stroke-width="4" stroke-linejoin="round" filter="url(#hb10)"/><path d="M449.5 62.2h.8M452 64.7h.8M452 65.2h.8M448.5 65.7h.8M454 66.2h.8M456 66.2h.8M451.5 66.7h.8M453 66.7h.8M454 66.7h.8M456.5 66.7h.8M441 67.2h.8M448 67.2h.8M454 67.2h.8M455 67.2h.8M455.5 67.2h.8M445 67.7h.8M448 67.7h.8M449 67.7h.8M451 67.7h.8M451.5 67.7h.8M452 67.7h.8M453.5 67.7h.8M456 67.7h.8M459.5 67.7h.8M443 68.2h.8M448 68.2h.8M449.5 68.2h.8M450 68.2h.8M452.5 68.2h.8M445 68.7h.8M445.5 68.7h.8M447.5 68.7h.8M455 68.7h.8M455.5 68.7h.8M443.5 69.2h.8M441 69.7h.8M445.5 69.7h.8M457.5 69.7h.8M442 70.2h.8M444 70.2h.8M458.5 70.2h.8M443 70.7h.8M444 70.7h.8M458.5 70.7h.8M459 70.7h.8M442.5 71.2h.8M443.5 71.2h.8M459.5 71.2h.8M438.5 71.7h.8M439.5 71.7h.8M441.5 71.7h.8M443 71.7h.8M459 72.2h.8M442 73.2h.8M459.5 73.2h.8M462 73.2h.8M439 73.7h.8M440.5 73.7h.8M459.5 73.7h.8M437.5 74.2h.8M440 74.2h.8M441.5 74.2h.8M461.5 75.2h.8M438.5 75.7h.8M439 76.7h.8M437.5 77.7h.8M440.5 77.7h.8M437 78.2h.8M437.5 78.2h.8M459 78.2h.8M440 78.7h.8M440.5 78.7h.8M459 78.7h.8M460 78.7h.8M460.5 78.7h.8M461.5 78.7h.8M440.5 79.2h.8M459 79.2h.8M435.5 79.7h.8M459.5 79.7h.8M440 80.2h.8M440.5 80.2h.8M459 80.2h.8M458.5 80.7h.8M461 81.2h.8M439 81.7h.8M440.5 82.7h.8M458 82.7h.8M459 82.7h.8M440.5 83.2h.8M440.5 83.7h.8M460.5 83.7h.8M439 84.2h.8M458 84.2h.8M440.5 84.7h.8M435.5 85.2h.8M438 85.2h.8M457.5 85.2h.8M457.5 86.2h.8M439.5 86.7h.8M457 86.7h.8M457.5 86.7h.8M440.5 87.2h.8M437.5 87.7h.8M438 87.7h.8M439.5 87.7h.8M441 87.7h.8M456.5 87.7h.8M457 87.7h.8M460.5 88.2h.8M438.5 88.7h.8M439 88.7h.8M457 88.7h.8M459 88.7h.8M439 89.2h.8M441.5 89.2h.8M457.5 89.2h.8M460 90.2h.8M438.5 90.7h.8M439.5 90.7h.8M442 90.7h.8M455 91.7h.8M442 92.2h.8M442.5 92.2h.8M456 92.2h.8M454.5 92.7h.8M458 92.7h.8M455 93.2h.8M456.5 93.2h.8M441 93.7h.8M442 93.7h.8M454 93.7h.8M442.5 94.2h.8M442 94.7h.8M441 95.2h.8M443 95.2h.8M443.5 95.2h.8M455 95.2h.8M435.5 95.7h.8M453 95.7h.8M454 95.7h.8M442 96.2h.8M453 96.2h.8M453.5 96.2h.8M441.5 97.2h.8M442 97.2h.8M443.5 97.2h.8M453 97.2h.8M453.5 97.2h.8M454 97.2h.8M444 97.7h.8M442 98.2h.8M443.5 98.2h.8M452 98.2h.8M443.5 98.7h.8M452 98.7h.8M452.5 99.2h.8M451.5 99.7h.8M443.5 100.7h.8M451 100.7h.8M444 101.2h.8M450.5 101.2h.8M445 102.2h.8M446.5 102.2h.8M450.5 102.2h.8M448 102.7h.8M448.5 102.7h.8M452.5 102.7h.8M447 103.2h.8M451 103.2h.8M449 104.2h.8M449.5 104.2h.8M447.5 104.7h.8M446 105.2h.8M446 107.2h.8M442 107.7h.8M447.5 109.2h.8" stroke="#222" stroke-width=".8" fill="none"/><path d="M445.7 105.8h.8M450 105.7h.8M453.2 102.8h.8M439.6 108h.8M447.1 103.5h.8M445 101.8h.8M446.7 106.1h.8M449.5 100.4h.8M448.5 105.3h.8M451 104.7h.8M443.6 102.4h.8M446.9 104.4h.8M444.6 105.4h.8M445.6 107.5h.8M444.7 103.4h.8M443.4 106.1h.8M448.6 106.9h.8M445.9 105.8h.8M443.2 107.9h.8M446.4 104.3h.8M447.3 107.5h.8M448.3 108.2h.8M446.1 106.3h.8M446.2 106.1h.8M444.8 104.6h.8M450.4 99.2h.8M443 105.9h.8M447.9 106.2h.8M449.4 107.7h.8M447.8 104.2h.8M442.4 103.7h.8M452.8 102.5h.8M446.6 104.8h.8M447 100.2h.8M447 106.3h.8M448 103.8h.8M450.9 102.5h.8M451.1 105.8h.8M448.8 106.6h.8M448.8 104.3h.8M443.6 103.6h.8M451.1 101.4h.8M445 105.9h.8M442.7 107.4h.8M448.9 106h.8M445 104.6h.8M447.1 105.3h.8M445.9 103.1h.8M438.9 107.8h.8M447.2 103.9h.8M456.5 103.3h.8M454.2 104.5h.8M442.9 109.1h.8M456.6 105.2h.8M454.7 104.5h.8M446.9 107.6h.8M445.2 103.4h.8M448.7 104.6h.8M446.7 103.4h.8M445.9 103.2h.8M450.5 106.6h.8M453.8 103.7h.8M446.5 108.1h.8M447.8 100.6h.8M449.6 104.7h.8M443.2 107.4h.8M444.6 107.4h.8M450.2 104.6h.8M444 104.8h.8M440.9 103.8h.8M449.7 103.8h.8M443.6 105.3h.8M447.3 104.8h.8M446.9 99.4h.8M442.2 104.5h.8M449.5 105h.8M448 103.1h.8M457.6 107.2h.8M445.5 107h.8M443.1 106.3h.8M445.8 107.5h.8M452.4 101.8h.8M452.3 101.9h.8M450.2 106.3h.8M452.3 103.8h.8M456.7 104.3h.8M448.9 101.7h.8M456.8 99.4h.8M447.5 103.4h.8M445.7 104.4h.8M450.8 105.6h.8M443.6 104.6h.8M450.6 105.2h.8M446.7 106.3h.8M450.6 108.3h.8M447.9 101.5h.8M441.5 107h.8M449.2 106.7h.8M450.4 100.5h.8M452.4 104.3h.8M442.5 102.3h.8M441.4 101.9h.8M458.7 107.7h.8M450.3 103.3h.8M449.3 107h.8M449.9 101.8h.8M454.6 102.4h.8M445.8 105.7h.8M450.1 105.1h.8M446.5 105.1h.8M447.9 105.4h.8M453.2 108h.8M452 100.3h.8M446.5 99.2h.8M441.5 103.5h.8M448.4 104.8h.8M456.8 105.5h.8M446.1 106.3h.8M443.8 100.3h.8M445.9 106.2h.8M447.9 104.6h.8M452 104h.8M450.4 107.2h.8M440.2 105.5h.8M452.3 103.2h.8M445.4 104.3h.8M461.7 106.7h.8M447.2 103.4h.8M451.8 102.7h.8M453.1 106h.8M449 103.7h.8M448.4 104.8h.8M440.4 104h.8M452.9 102.4h.8M439.9 105h.8M444.8 103.3h.8M451.5 101.8h.8M451.2 101.7h.8M446.1 103.9h.8M444.6 103.2h.8" stroke="#444" stroke-width=".8" fill="none"/><path d="M455.7 106.7h.8M440 105.6h.8M451.1 110.9h.8M452.6 107.2h.8M451.3 105.8h.8M453.8 110.5h.8M449.1 106.7h.8M450.3 109.4h.8M454.3 108.4h.8M445.8 108.2h.8M453.4 107.9h.8M451.8 110.2h.8M436 105.1h.8M448.7 110.7h.8M447.9 111.8h.8M453.8 106.5h.8M457.6 113.5h.8M449.2 106.3h.8M447.2 110h.8M450.8 107.9h.8M450 111.3h.8M443.7 107.5h.8M459.4 109.2h.8M453.1 108.5h.8M444.7 108.9h.8M452.8 108.8h.8M447.6 109.2h.8M452.5 109.3h.8M444.7 108.4h.8M454.7 108.5h.8M445.9 105.2h.8M436.4 107.9h.8M449.1 108.9h.8M446.1 111.4h.8M454 108h.8M450.7 106.6h.8M446.7 109.4h.8M447.7 105.8h.8M445.1 108.6h.8M457.2 106h.8" stroke="#888" stroke-width=".8" fill="none"/><path d="M439.1 101.3h.8M444.4 86.8h.8M437.6 89.3h.8M441.7 94.4h.8M437.7 92.3h.8M443.6 85.4h.8M440.6 92.1h.8M435.8 78.7h.8M441 116.8h.8M440.5 81.2h.8M440.4 101.5h.8M441.3 74.8h.8M439.7 96.3h.8M441 91.7h.8M440.4 73.7h.8M438.8 89h.8M438.3 86.5h.8M442.2 100.8h.8M438.5 89.7h.8M440.1 95.8h.8M442.8 78.4h.8M437.8 74.6h.8M441.6 81.7h.8M441.7 86.6h.8M441.2 96.4h.8M436.4 84h.8M439.8 84.7h.8M437.2 94.1h.8M438.5 86.3h.8M439.1 87.4h.8M440.1 93.9h.8M441 86.8h.8M440.1 92.5h.8M437.4 97h.8M443.2 98h.8M440.7 91h.8M440.9 88.3h.8M440.2 89.1h.8M441.8 91.7h.8M441.5 93.9h.8M438.4 85h.8M441.1 101.8h.8M442.6 86.9h.8M436.5 77h.8M440.9 90.7h.8M442.6 95.9h.8M439.8 75h.8M439.1 77.8h.8M439.9 76.5h.8M437.1 96.1h.8M441.2 95.5h.8M440.2 82.2h.8M439.5 91h.8M438.7 97.5h.8M441.6 96.6h.8M439.4 88.1h.8M442.9 101.8h.8M438.2 94.3h.8M439 96.1h.8M442.6 98.8h.8" stroke="#666" stroke-width=".8" fill="none"/><g><path d="M447.8,100.7 447.2,100.5 446.8,100 445.8,98 444.5,94.6 442.8,89.2 442,86.1 441.5,82.7 441.4,79.7 441.6,77.5 442.2,75 443,73.5 444.2,71.9 445.7,70.7 447,70 449.5,69.2 451.2,69 453.2,69.2 455,69.6 456,70.1 457,70.9 457.8,71.9 458.2,73.2 458.4,74.5 458.4,76.5 458.2,78.5 457.5,81.4 456,86.1 452.2,94.8 451,97.4 450,98.9 448.8,100.2 447.8,100.7Z" fill="#f7f7f7" fill-rule="evenodd"/><path d="M448.5,97.6 448,97.6 447.5,97.3 446.5,95.9 444.8,92.4 443.2,88.6 442.5,85.9 441.9,82.7 441.8,80 442,77.6 442.5,75.5 443.2,73.8 444.5,72.2 445.9,71 447.2,70.2 449.2,69.6 451,69.4 453,69.5 454.7,70 455.8,70.4 456.8,71.2 457.3,72 457.8,73 458.1,74.5 458,78 457,82.1 455.8,85.8 454.8,88.1 453,91.5 451,94.8 449.5,96.8 448.5,97.6Z" fill="#dadada" fill-rule="evenodd"/><path d="M449,92.8 448.5,92.9 448,92.8 446.8,91.6 445,89 443.8,86.5 443,84 442.6,81.7 442.5,79.7 442.8,77 443.2,75.2 443.8,74 445,72.4 446.5,71.2 447.8,70.6 449.5,70.1 451.2,70 453,70.1 454.3,70.5 455.5,71 456.4,71.7 457,72.6 457.5,73.8 457.7,75 457.7,76.7 457.5,78.5 457,80.9 456.5,82.4 455.5,85 454.5,87 453.5,88.4 451.8,90.5 450,92.1 449,92.8Z" fill="#b8b8b8" fill-rule="evenodd"/><path d="M449.5,90.2 448.5,90.4 448,90.2 447.2,89.6 445.8,87.9 444.6,86 443.7,83.5 443.2,81.2 443.2,79.2 443.4,76.7 443.8,75.2 444.4,74 445.5,72.6 446.8,71.6 448,71 449.5,70.7 451.5,70.6 453,70.7 454.2,71 455.5,71.7 456.2,72.5 456.8,73.2 457.2,74.2 457.4,75.5 457.4,77 457.2,78.5 456.8,80.6 456.2,82.1 455.2,84.4 454.5,85.8 453.5,87.1 452.2,88.4 450.8,89.5 449.5,90.2Z" fill="#979797" fill-rule="evenodd"/><path d="M449.2,88.5 448.5,88.4 448,88.2 446.8,87.2 445.6,85.7 444.7,83.7 444.2,82.2 443.8,80.2 443.9,78 444.1,76.2 444.5,75 445,74 446.1,72.7 447.2,71.9 448.5,71.4 449.8,71.2 451.8,71.1 453,71.3 454.2,71.7 455.2,72.3 456,73.1 456.6,74.2 456.9,75.2 457.1,76.7 456.7,79.7 456.2,81.2 455.6,82.7 454.7,84.5 453.8,85.7 452.8,86.7 451.5,87.6 450.2,88.2 449.2,88.5Z" fill="#777777" fill-rule="evenodd"/><path d="M450.2,87.2 449,87.3 448,86.9 446.8,85.9 445.9,84.7 444.9,82.7 444.4,80.7 444.3,79.2 444.4,77 444.7,75.5 445.2,74.5 446,73.4 447,72.5 448,72 449.2,71.6 451,71.5 452.5,71.6 453.5,71.9 454.7,72.5 455.5,73.2 456.1,74 456.4,74.7 456.7,75.7 456.8,77 456.7,78.2 456.3,80 455.9,81.5 455.2,83 454.2,84.5 453.2,85.6 452.2,86.4 451.2,86.9 450.2,87.2Z" fill="#5a5a5a" fill-rule="evenodd"/><path d="M451,86.5 449.8,86.7 448.5,86.4 447.5,85.8 446.5,84.8 445.5,83 444.9,81.2 444.6,79.7 444.6,77.7 444.8,76.2 445.3,75 446,73.8 447,72.8 448,72.3 449,72 450.2,71.8 452,71.8 453,72 453.8,72.3 454.8,72.9 455.5,73.7 456,74.5 456.3,75.2 456.5,76.2 456.5,77.5 456.4,79 455.9,80.7 455.3,82.2 454.8,83.3 453.9,84.5 453,85.4 452,86 451,86.5Z" fill="#424242" fill-rule="evenodd"/><path d="M451.2,86 450.2,86.2 449.2,86.1 448.2,85.8 447.2,85 446.4,84 445.6,82.5 445.1,81 444.9,79.7 444.9,78 445,76.7 445.3,75.5 445.8,74.5 446.7,73.5 447.5,72.8 448.5,72.4 449.8,72.1 452.5,72.2 453.2,72.4 454.2,72.9 455,73.5 455.7,74.5 456.2,75.5 456.3,76.5 456.3,77.7 456.1,79.5 455.7,81 455.1,82.2 454.4,83.5 453.5,84.5 452.5,85.4 451.2,86Z" fill="#fefefe" fill-rule="evenodd"/><path d="M451,85.5 450,85.6 449,85.4 448,84.9 447.3,84.2 446.6,83.2 445.9,82 445.5,80.5 445.3,79.2 445.4,76.7 445.8,75.5 446.3,74.5 447.2,73.5 448,73 449,72.6 450,72.5 452.2,72.5 453.2,72.8 454,73.2 454.8,73.9 455.4,74.7 455.8,75.7 456,76.7 456,78.2 455.7,79.7 455.2,81.2 454.6,82.5 453.8,83.7 453,84.4 452,85.1 451,85.5Z" fill="#f5f5f5" fill-rule="evenodd"/><path d="M450.8,85 449.8,85 448.8,84.7 448,84.2 447.2,83.4 446.5,82.2 446,81 445.7,79.7 445.6,78.2 445.7,77.2 446,76 446.5,75 447,74.2 447.8,73.6 448.5,73.2 449.5,72.9 450.8,72.8 452.8,73 454.3,74 454.9,74.7 455.3,75.5 455.7,77.5 455.6,78.7 455.3,80.2 454.8,81.5 454.2,82.5 453.5,83.4 452.8,84.1 451.8,84.7 450.8,85Z" fill="#dfdfdf" fill-rule="evenodd"/><path d="M451.5,84.5 450.8,84.6 449.8,84.6 448.8,84.3 448,83.7 447.3,83 446.7,82 446.2,80.7 445.9,79.5 445.9,77.2 446.2,76.2 446.6,75.2 447.2,74.3 448,73.7 448.8,73.3 449.8,73 452,73.1 453.5,73.7 454.1,74.2 454.7,75 455.1,75.7 455.3,76.7 455.3,79 455,80.2 454.6,81.5 454,82.5 453.2,83.4 452.5,84 451.5,84.5Z" fill="#bebebe" fill-rule="evenodd"/><path d="M451.2,84.2 450.2,84.3 449.5,84.2 448.8,83.9 448,83.3 447.3,82.5 446.8,81.5 446.4,80.5 446.1,79.2 446.1,77.2 446.4,76.2 446.8,75.2 447.5,74.4 448.2,73.8 449,73.4 450,73.2 452,73.3 453.5,74 454.6,75.2 454.9,76 455.1,77 455.2,78.2 455,79.5 454.7,80.7 454.2,81.6 453,83.3 452.2,83.8 451.2,84.2Z" fill="#939393" fill-rule="evenodd"/><path d="M451.2,84 450.2,84.1 449.5,84 448.8,83.6 448,83 447.4,82.2 446.8,81.2 446.3,79.2 446.3,77.2 446.6,76.2 447,75.2 447.6,74.5 448.2,74 449,73.6 450,73.3 452,73.5 452.8,73.7 453.5,74.2 454,74.7 454.5,75.5 455,77.2 454.9,79.5 454.2,81.5 453,83 452.2,83.6 451.2,84Z" fill="#666666" fill-rule="evenodd"/><path d="M451.5,83.8 450.5,83.9 449.8,83.8 449,83.5 448.2,83 447.5,82.2 447.1,81.5 446.4,79.5 446.4,77.5 446.6,76.5 447,75.5 447.6,74.7 448.2,74.1 449.8,73.5 450.8,73.4 451.8,73.5 452.5,73.8 453.2,74.2 453.8,74.7 454.3,75.5 454.8,77 454.9,78 454.8,79.2 454.2,81.2 453,82.9 452.2,83.4 451.5,83.8Z" fill="#393939" fill-rule="evenodd"/><path d="M451,83.7 450.2,83.7 449.5,83.6 448.8,83.2 448,82.6 447.4,81.7 446.9,80.7 446.5,78.7 446.6,77 446.9,76 447.3,75.2 448.5,74.1 449.2,73.7 450.2,73.5 452,73.7 453.4,74.5 454.3,75.7 454.7,77.5 454.6,79.7 453.9,81.5 453.2,82.4 452.7,83 452,83.4 451,83.7Z" fill="#fefefe" fill-rule="evenodd"/><path d="M450.5,83.5 449.8,83.4 449,83 448.2,82.5 447.8,81.9 446.9,80.2 446.6,78.2 446.9,76.5 447.8,75 449,74 449.8,73.8 450.8,73.7 452.2,74 453,74.5 453.5,75 454,75.7 454.3,76.5 454.5,78.2 454.2,80.2 453.8,81.2 453.2,82 452.8,82.6 452,83.1 451.2,83.4 450.5,83.5Z" fill="#f5f5f5" fill-rule="evenodd"/><path d="M451.5,83 450.8,83.1 450,83.1 449.2,82.8 448.5,82.3 447.5,81 446.9,79.2 446.9,77.5 447.5,75.7 448.5,74.6 449.2,74.2 450,74 451.5,74 452.2,74.3 452.9,74.7 453.7,75.7 454.2,77.2 454.2,79 453.8,80.7 452.8,82.2 451.5,83Z" fill="#dfdfdf" fill-rule="evenodd"/><path d="M451.5,82.7 450.8,82.9 450,82.9 448.8,82.3 448.1,81.7 447.6,81 447.1,79.2 447,77.5 447.7,75.7 448.2,75 448.8,74.6 450,74.1 451.5,74.2 452.6,74.7 453.5,75.7 454,77.2 454,79 453.6,80.7 452.7,82 451.5,82.7Z" fill="#bebebe" fill-rule="evenodd"/><path d="M451.5,82.5 450.8,82.7 450,82.6 448.8,82 447.8,80.8 447.2,79.2 447.2,77.5 447.7,76 448.2,75.2 448.8,74.8 450,74.3 451.2,74.3 452.5,74.9 453.3,75.7 453.8,77.2 453.9,79 453.5,80.5 452.7,81.7 451.5,82.5Z" fill="#939393" fill-rule="evenodd"/><path d="M451,82.5 449.8,82.4 449,82 448.5,81.6 447.7,80.5 447.3,78.7 447.4,77.2 448,75.7 449,74.7 450.2,74.4 451.5,74.5 452.7,75.2 453.4,76.2 453.7,77.7 453.6,79.5 453.2,80.7 452.2,81.9 451.7,82.2 451,82.5Z" fill="#666666" fill-rule="evenodd"/><path d="M451.2,82.2 450,82.3 448.8,81.7 448,80.7 447.4,79.2 447.4,77.5 448,76 448.9,75 450,74.5 451.2,74.5 452.5,75.2 453.2,76.2 453.6,77.5 453.6,79.2 453.2,80.5 452.2,81.7 451.2,82.2Z" fill="#393939" fill-rule="evenodd"/><path d="M451.5,82 450.2,82.2 449,81.7 448.1,80.7 447.5,79.2 447.5,77.7 447.9,76.2 448.8,75.2 450,74.6 451.2,74.7 452.2,75.2 452.9,76 453.4,77.2 453.5,78.7 453.2,80 452.5,81.2 451.5,82Z" fill="#fefefe" fill-rule="evenodd"/><path d="M451.2,81.7 450,81.8 449,81.4 448.2,80.5 447.7,79.2 447.7,77.7 448,76.5 448.8,75.4 449.2,75.1 450,74.8 451,74.8 452,75.3 452.8,76.2 453.2,77.5 453.2,79 452.9,80.2 452.1,81.2 451.2,81.7Z" fill="#f5f5f5" fill-rule="evenodd"/><path d="M450.5,81.5 449.5,81.3 448.7,80.7 448,79.5 447.9,78.2 448.1,77 448.6,76 449.5,75.2 450.5,75 451.5,75.2 452.3,76 452.8,77 453,78.2 452.8,79.5 452.2,80.6 451.5,81.2 450.5,81.5Z" fill="#dfdfdf" fill-rule="evenodd"/><path d="M451.2,81 450.2,81.2 449.2,80.8 448.5,80 448.1,79 448.1,77.7 448.5,76.5 449.1,75.7 450,75.2 451,75.3 451.8,75.7 452.4,76.5 452.8,77.5 452.8,78.7 452.5,79.7 452,80.5 451.2,81Z" fill="#bebebe" fill-rule="evenodd"/><path d="M451,80.8 450,80.8 449.2,80.5 448.6,79.7 448.3,78.7 448.2,77.7 448.6,76.7 449.2,75.8 450,75.5 450.8,75.4 451.5,75.7 452.2,76.5 452.6,77.5 452.6,78.5 452.3,79.5 451.8,80.3 451,80.8Z" fill="#939393" fill-rule="evenodd"/><path d="M451,80.5 450,80.5 449.3,80.2 448.8,79.6 448.4,78.7 448.4,77.7 448.7,76.7 449.2,76 450,75.6 450.8,75.6 451.5,76 452,76.5 452.4,77.5 452.4,78.5 452.2,79.2 451.8,80 451,80.5Z" fill="#666666" fill-rule="evenodd"/><path d="M451,80.3 450.2,80.4 449.5,80.1 449,79.6 448.6,78.7 448.5,78 448.8,77 449.2,76.3 450,75.8 450.8,75.8 451.5,76.2 451.9,76.7 452.2,77.5 452.3,78.5 452.1,79.2 451.5,80 451,80.3Z" fill="#393939" fill-rule="evenodd"/><path d="M451,80 450.2,80.1 449.7,80 449.1,79.5 448.8,78.7 448.7,77.7 448.9,77 449.5,76.2 450,76 450.8,76 451.2,76.2 451.8,76.7 452.1,77.5 452.1,78.2 452,79 451.5,79.7 451,80Z" fill="#e8e8e8" fill-rule="evenodd"/><path d="M450.5,79.7 450,79.7 449.5,79.4 449.2,79 449,78.2 449.1,77.5 449.3,77 449.8,76.5 450.2,76.3 450.8,76.3 451.3,76.7 451.7,77.2 451.8,78 451.8,78.6 451.5,79.1 451,79.6 450.5,79.7Z" fill="#b8b8b8" fill-rule="evenodd"/><path d="M451,79 450.2,79.2 449.8,79 449.5,78.6 449.4,78 449.5,77.5 450,76.8 450.8,76.8 451.3,77.5 451.4,78.2 451,79Z" fill="#8f8f8f" fill-rule="evenodd"/><path d="M450.8,78.5 450.2,78.7 449.8,78.2 449.8,77.7 450.2,77.2 450.8,77.3 451,77.7 451,78.2 450.8,78.5Z" fill="#6c6c6c" fill-rule="evenodd"/></g><path d="M448.1,68.9 449.4,68.6 450.6,68.5 451.7,68.4 452.9,68.5 454,68.6 454.9,68.9 455.8,69.2 456.5,69.5 457.1,70 457.6,70.5 458.1,71 458.4,71.6 458.7,72.3 458.9,73.1 459,74 459,75.1 458.9,76.4 458.8,77.7 458.6,79.1 458.2,80.5 457.9,82 457.4,83.5 457,85 456.5,86.5 456,88 455.5,89.5 454.9,91 454.3,92.5 453.7,94 453.1,95.3 452.5,96.5 452,97.6 451.5,98.6 451,99.4 450.5,100.1 450,100.7 449.5,101.2 449.1,101.6 448.7,101.9 448.3,102.2 447.9,102.4 447.5,102.5 447.1,102.3 446.6,101.9 446.1,101.4 445.6,100.6 445.1,99.5 444.6,98.2 444.1,96.7 443.6,95.2 443.1,93.5 442.6,91.8 442.1,90.1 441.7,88.4 441.4,86.8 441.1,85.3 440.8,83.8 440.7,82.3 440.7,80.8 440.7,79.3 440.9,77.8 441.1,76.5 441.4,75.3 441.9,74.2 442.4,73.2 443,72.4 443.6,71.6 444.3,70.9 445.1,70.3 446,69.8 447,69.3Z" fill="none" stroke="#111" stroke-width="1.8"/><path d="M449,72.6 450.7,72.4 452.1,72.4 453.4,72.8 454.4,73.3 455.2,74.1 455.8,75 456.1,76 456.2,77.1 456,78.4 455.7,79.6 455.3,80.8 454.8,82.1 454.2,83.3 453.5,84.3 452.7,85 451.9,85.6 451,85.9 450.1,86 449.3,85.9 448.4,85.5 447.6,85 446.9,84.2 446.3,83.2 445.8,82 445.4,80.6 445.2,79.2 445.2,77.8 445.3,76.3 445.7,74.9 446.5,73.8 447.6,73Z" fill="none" stroke="#1a1a1a" stroke-width="0.75"/><path d="M449.6,74.1 450.8,73.9 451.9,73.9 452.8,74.2 453.5,74.8 454.1,75.5 454.5,76.4 454.7,77.3 454.7,78.4 454.5,79.5 454.2,80.5 453.8,81.4 453.3,82.2 452.7,82.9 452,83.4 451.2,83.6 450.4,83.7 449.6,83.5 448.8,83.1 448.2,82.4 447.6,81.4 447.2,80.3 446.9,79.2 446.8,78.1 446.9,77 447.2,75.9 447.8,75.1 448.6,74.5Z" fill="none" stroke="#1a1a1a" stroke-width="0.75"/><path d="M453.7,79.1 453.6,79.5 453.5,79.9 453.4,80.3 453.2,80.7 453,81 452.8,81.3 452.6,81.6 452.3,81.8 452,82.1 451.8,82.3 451.4,82.4 451.1,82.5 450.8,82.6 450.5,82.6 450.2,82.6 449.8,82.6 449.5,82.5 449.2,82.3 448.9,82.2 448.6,82 448.3,81.7 448.1,81.5 447.9,81.2 447.7,80.8 447.5,80.5 447.3,80.1 447.2,79.7 447.1,79.3 447.1,78.9 447.1,78.5 447.1,78.1 447.1,77.7 447.2,77.3 447.3,76.9 447.4,76.5 447.6,76.1 447.8,75.8 448,75.5 448.2,75.2 448.5,75 448.8,74.7 449,74.5 449.4,74.4 449.7,74.3 450,74.2 450.3,74.2 450.6,74.2 451,74.2 451.3,74.3 451.6,74.5 451.9,74.6 452.2,74.8 452.5,75.1 452.7,75.3 452.9,75.6 453.1,76 453.3,76.3 453.5,76.7 453.6,77.1 453.7,77.5 453.7,77.9 453.7,78.3 453.7,78.7Z" fill="none" stroke="#1a1a1a" stroke-width="0.75"/><path d="M452.3,78.6 452.3,78.8 452.2,79.1 452.1,79.3 452,79.6 451.8,79.8 451.7,80 451.5,80.1 451.3,80.3 451.1,80.4 450.9,80.5 450.7,80.5 450.5,80.5 450.2,80.5 450,80.5 449.8,80.4 449.6,80.3 449.4,80.2 449.2,80 449.1,79.9 448.9,79.7 448.8,79.5 448.7,79.2 448.6,79 448.5,78.7 448.5,78.4 448.4,78.2 448.5,77.9 448.5,77.6 448.5,77.4 448.6,77.1 448.7,76.9 448.8,76.6 449,76.4 449.1,76.2 449.3,76.1 449.5,75.9 449.7,75.8 449.9,75.7 450.1,75.7 450.3,75.7 450.6,75.7 450.8,75.7 451,75.8 451.2,75.9 451.4,76 451.6,76.2 451.7,76.3 451.9,76.5 452,76.7 452.1,77 452.2,77.2 452.3,77.5 452.3,77.8 452.4,78 452.3,78.3Z" fill="none" stroke="#1a1a1a" stroke-width="0.75"/><ellipse cx="60.8" cy="88.2" rx="1.3" ry="1.3" fill="#222" filter="url(#hb5)"/><ellipse cx="164.5" cy="68.3" rx="1.1" ry="1.1" fill="#222" filter="url(#hb5)"/><ellipse cx="450.4" cy="77.9" rx="1.0" ry="1.0" fill="#222" filter="url(#hb5)"/><ellipse cx="64" cy="120.5" rx="7" ry="7.5" fill="#333" opacity="0.4" filter="url(#hb15)"/><ellipse cx="375.2" cy="104.6" rx="1.3" ry="2.3" fill="#111"/><path d="M60.6,110.5 L67.6,110.3 L68.1,115 L67.8,119 L66.4,121.8 L64,122.8 L61.6,121.8 L60.3,119 L60.1,114.5Z" fill="#111"/><ellipse cx="63.3" cy="118.6" rx="1.5" ry="1.4" fill="#fff"/><path d="M445.8,99.6 L450.6,99.6 L449.2,104.4 L447.2,104.4Z" fill="#111"/><defs><radialGradient id="bulb" cx="0.5" cy="0.55" r="0.5"><stop offset="0" stop-color="#2a2a2a"/><stop offset="0.45" stop-color="#888"/><stop offset="0.85" stop-color="#f4f4f4"/><stop offset="1" stop-color="#fff" stop-opacity="0"/></radialGradient></defs><ellipse cx="165.4" cy="118.6" rx="5.6" ry="7.8" fill="url(#bulb)"/><path d="M40.4,48.3H131.4V140.1" fill="none" stroke="#b5b5b5" stroke-width="1.2"/><path d="M40.4,140.1H131.4" fill="none" stroke="#9a9a9a" stroke-width="1"/><path d="M38.8,137.1h1.6M38.8,130.5h1.6M38.8,123.9h1.6M38.8,117.3h1.6M38.8,110.7h1.6M38.8,104.1h1.6M38.8,97.5h1.6M38.8,90.9h1.6M38.8,84.3h1.6M38.8,77.7h1.6M38.8,71.1h1.6M38.8,64.5h1.6M38.8,57.9h1.6M38.8,51.3h1.6M43.4,140.1v1.5M49.9,140.1v1.5M56.5,140.1v1.5M63.0,140.1v1.5M69.6,140.1v1.5M76.1,140.1v1.5M82.6,140.1v1.5M89.2,140.1v1.5M95.7,140.1v1.5M102.2,140.1v1.5M108.8,140.1v1.5M115.3,140.1v1.5M121.9,140.1v1.5M128.4,140.1v1.5" stroke="#666" stroke-width=".7"/><line x1="40.4" y1="48.3" x2="40.4" y2="140.1" stroke="#707070" stroke-width="1"/><path d="M136.7,48.9H224.3V137.6" fill="none" stroke="#b5b5b5" stroke-width="1.2"/><path d="M136.7,137.6H224.3" fill="none" stroke="#9a9a9a" stroke-width="1"/><path d="M135.1,134.6h1.6M135.1,128.2h1.6M135.1,121.9h1.6M135.1,115.5h1.6M135.1,109.2h1.6M135.1,102.8h1.6M135.1,96.4h1.6M135.1,90.1h1.6M135.1,83.7h1.6M135.1,77.3h1.6M135.1,71.0h1.6M135.1,64.6h1.6M135.1,58.3h1.6M135.1,51.9h1.6M139.7,137.6v1.5M146.0,137.6v1.5M152.3,137.6v1.5M158.5,137.6v1.5M164.8,137.6v1.5M171.1,137.6v1.5M177.4,137.6v1.5M183.6,137.6v1.5M189.9,137.6v1.5M196.2,137.6v1.5M202.5,137.6v1.5M208.7,137.6v1.5M215.0,137.6v1.5M221.3,137.6v1.5" stroke="#666" stroke-width=".7"/><line x1="136.7" y1="48.9" x2="136.7" y2="137.6" stroke="#707070" stroke-width="1"/><path d="M228.3,48.8H316.4V137.6" fill="none" stroke="#b5b5b5" stroke-width="1.2"/><path d="M228.3,137.6H316.4" fill="none" stroke="#9a9a9a" stroke-width="1"/><path d="M226.7,134.6h1.6M226.7,128.2h1.6M226.7,121.9h1.6M226.7,115.5h1.6M226.7,109.1h1.6M226.7,102.8h1.6M226.7,96.4h1.6M226.7,90.0h1.6M226.7,83.6h1.6M226.7,77.3h1.6M226.7,70.9h1.6M226.7,64.5h1.6M226.7,58.2h1.6M226.7,51.8h1.6M231.3,137.6v1.5M237.6,137.6v1.5M243.9,137.6v1.5M250.2,137.6v1.5M256.6,137.6v1.5M262.9,137.6v1.5M269.2,137.6v1.5M275.5,137.6v1.5M281.8,137.6v1.5M288.1,137.6v1.5M294.5,137.6v1.5M300.8,137.6v1.5M307.1,137.6v1.5M313.4,137.6v1.5" stroke="#666" stroke-width=".7"/><line x1="228.3" y1="48.8" x2="228.3" y2="137.6" stroke="#707070" stroke-width="1"/><path d="M324.6,48.9H412.4V137.7" fill="none" stroke="#b5b5b5" stroke-width="1.2"/><path d="M324.6,137.7H412.4" fill="none" stroke="#9a9a9a" stroke-width="1"/><path d="M323.0,134.7h1.6M323.0,128.3h1.6M323.0,122.0h1.6M323.0,115.6h1.6M323.0,109.2h1.6M323.0,102.9h1.6M323.0,96.5h1.6M323.0,90.1h1.6M323.0,83.7h1.6M323.0,77.4h1.6M323.0,71.0h1.6M323.0,64.6h1.6M323.0,58.3h1.6M323.0,51.9h1.6M327.6,137.7v1.5M333.9,137.7v1.5M340.2,137.7v1.5M346.5,137.7v1.5M352.8,137.7v1.5M359.1,137.7v1.5M365.4,137.7v1.5M371.6,137.7v1.5M377.9,137.7v1.5M384.2,137.7v1.5M390.5,137.7v1.5M396.8,137.7v1.5M403.1,137.7v1.5M409.4,137.7v1.5" stroke="#666" stroke-width=".7"/><line x1="324.6" y1="48.9" x2="324.6" y2="137.7" stroke="#707070" stroke-width="1"/><path d="M420.0,49.2H507.6V137.8" fill="none" stroke="#b5b5b5" stroke-width="1.2"/><path d="M420.0,137.8H507.6" fill="none" stroke="#9a9a9a" stroke-width="1"/><path d="M418.4,134.8h1.6M418.4,128.4h1.6M418.4,122.1h1.6M418.4,115.7h1.6M418.4,109.4h1.6M418.4,103.0h1.6M418.4,96.7h1.6M418.4,90.3h1.6M418.4,84.0h1.6M418.4,77.6h1.6M418.4,71.3h1.6M418.4,64.9h1.6M418.4,58.6h1.6M418.4,52.2h1.6M423.0,137.8v1.5M429.3,137.8v1.5M435.6,137.8v1.5M441.8,137.8v1.5M448.1,137.8v1.5M454.4,137.8v1.5M460.7,137.8v1.5M466.9,137.8v1.5M473.2,137.8v1.5M479.5,137.8v1.5M485.8,137.8v1.5M492.0,137.8v1.5M498.3,137.8v1.5M504.6,137.8v1.5" stroke="#666" stroke-width=".7"/><line x1="420.0" y1="49.2" x2="420.0" y2="137.8" stroke="#707070" stroke-width="1"/><line x1="38.6" y1="116" x2="38.6" y2="123.5" stroke="#111" stroke-width="1.7" stroke-dasharray="1.6 .4"/><line x1="57" y1="140.6" x2="70.5" y2="140.6" stroke="#111" stroke-width="1.7" stroke-dasharray="1.6 .4"/><line x1="134.9" y1="116.3" x2="134.9" y2="126" stroke="#111" stroke-width="1.7" stroke-dasharray="1.6 .4"/><line x1="226.6" y1="115" x2="226.6" y2="122" stroke="#111" stroke-width="1.7" stroke-dasharray="1.6 .4"/><line x1="243" y1="138.3" x2="252" y2="138.3" stroke="#111" stroke-width="1.7" stroke-dasharray="1.6 .4"/><line x1="322.9" y1="107.7" x2="322.9" y2="115.4" stroke="#111" stroke-width="1.7" stroke-dasharray="1.6 .4"/><line x1="345.9" y1="138.4" x2="357.4" y2="138.4" stroke="#111" stroke-width="1.7" stroke-dasharray="1.6 .4"/><line x1="418.3" y1="113" x2="418.3" y2="120" stroke="#111" stroke-width="1.7" stroke-dasharray="1.6 .4"/><rect x="45.4" y="58.6" width="36.8" height="53.0" fill="none" stroke="#1e1e1e" stroke-width="1.3"/><line x1="76" y1="108.1" x2="127.19999999999999" y2="108.1" stroke="#1a1a1a" stroke-width="1.3"/><path d="M134.2,108.1 L125.7,104.2 L127.5,108.1 L125.7,112.0Z" fill="#1a1a1a"/><rect x="144.5" y="104.1" width="42.8" height="29.1" fill="none" stroke="#1e1e1e" stroke-width="1.3"/><line x1="181.4" y1="127.4" x2="217.8" y2="127.4" stroke="#1a1a1a" stroke-width="1.3"/><path d="M224.8,127.4 L216.3,123.5 L218.1,127.4 L216.3,131.3Z" fill="#1a1a1a"/><rect x="267.5" y="77.3" width="42.5" height="42.4" fill="none" stroke="#1e1e1e" stroke-width="1.3"/><line x1="295.8" y1="116.9" x2="314.6" y2="116.9" stroke="#1a1a1a" stroke-width="1.3"/><path d="M321.6,116.9 L313.1,113.0 L314.9,116.9 L313.1,120.8Z" fill="#1a1a1a"/><rect x="324.7" y="104.1" width="45.8" height="32.3" fill="none" stroke="#1e1e1e" stroke-width="1.3"/><line x1="360.5" y1="127.4" x2="408.7" y2="127.4" stroke="#1a1a1a" stroke-width="1.3"/><path d="M415.7,127.4 L407.2,123.5 L409.0,127.4 L407.2,131.3Z" fill="#1a1a1a"/><rect x="426.4" y="105.5" width="42" height="25.6" fill="none" stroke="#8c8c8c" stroke-width="1.4"/><path d="M427,105.3V54.4H468.4V105.3" fill="none" stroke="#c8143a" stroke-width="1.8"/><line x1="427" y1="105.6" x2="468.4" y2="105.6" stroke="#c98080" stroke-width=".8"/><text x="433.4" y="126.1" style="font-family:&quot;Liberation Sans&quot;,sans-serif;font-size:12.6px;fill:#000;stroke:#000;stroke-width:.25">ILC1</text><path d="M40.3,149.6 V176.2 H67.3" fill="none" stroke="#111" stroke-width="1.35"/><path d="M40.3,145.6 L37.9,151.0 L40.3,150.2 L42.7,151.0Z" fill="#111"/><path d="M71.3,176.2 L65.9,173.8 L66.7,176.2 L65.9,178.6Z" fill="#111"/><path d="M137.4,149.6 V176.2 H164.4" fill="none" stroke="#111" stroke-width="1.35"/><path d="M137.4,145.6 L135.0,151.0 L137.4,150.2 L139.8,151.0Z" fill="#111"/><path d="M168.4,176.2 L163.0,173.8 L163.8,176.2 L163.0,178.6Z" fill="#111"/><path d="M228.4,149.6 V176.2 H255.10000000000002" fill="none" stroke="#111" stroke-width="1.35"/><path d="M228.4,145.6 L226.0,151.0 L228.4,150.2 L230.8,151.0Z" fill="#111"/><path d="M259.1,176.2 L253.7,173.8 L254.5,176.2 L253.7,178.6Z" fill="#111"/><path d="M324.7,149.6 V176.2 H350.7" fill="none" stroke="#111" stroke-width="1.35"/><path d="M324.7,145.6 L322.3,151.0 L324.7,150.2 L327.1,151.0Z" fill="#111"/><path d="M354.7,176.2 L349.3,173.8 L350.1,176.2 L349.3,178.6Z" fill="#111"/><path d="M419.8,149.6 V176.2 H446.8" fill="none" stroke="#111" stroke-width="1.35"/><path d="M419.8,145.6 L417.4,151.0 L419.8,150.2 L422.2,151.0Z" fill="#111"/><path d="M450.8,176.2 L445.4,173.8 L446.2,176.2 L445.4,178.6Z" fill="#111"/><text transform="translate(45.4,190.9) scale(0.68,1)" class="ax">CD3</text><text transform="translate(141.2,190.9) scale(0.68,1)" class="ax">FS-H</text><text transform="translate(229.0,190.9) scale(0.68,1)" class="ax">CD127</text><text transform="translate(324.5,190.9) scale(0.68,1)" class="ax">CRTH2</text><text transform="translate(423.2,190.9) scale(0.68,1)" class="ax">FS-H</text><text transform="translate(33.0,162.4) rotate(-90) scale(0.68,1)" class="ax" text-anchor="middle">CD56</text><text transform="translate(130.1,162.6) rotate(-90) scale(0.68,1)" class="ax" text-anchor="middle">CD16</text><text transform="translate(220.6,163.2) rotate(-90) scale(0.68,1)" class="ax" text-anchor="middle">Lineage</text><text transform="translate(317.7,162.4) rotate(-90) scale(0.68,1)" class="ax" text-anchor="middle">c-Kit</text><text transform="translate(412.5,162.4) rotate(-90) scale(0.68,1)" class="ax" text-anchor="middle">CD56</text>
</svg></body></html>
